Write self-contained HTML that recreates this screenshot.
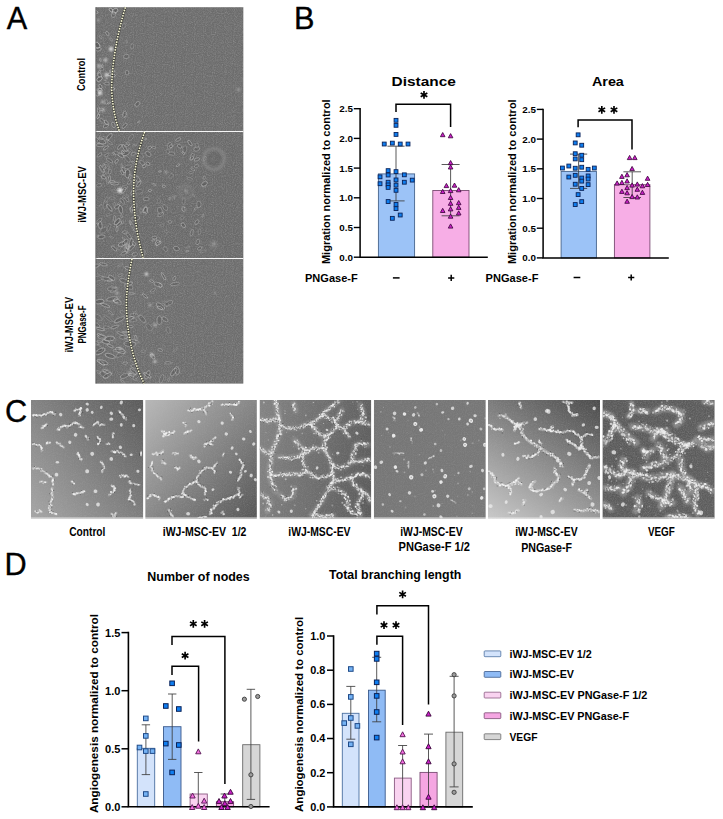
<!DOCTYPE html><html><head><meta charset="utf-8"><title>Figure</title><style>html,body{margin:0;padding:0;background:#fff}svg{display:block}</style></head><body><svg width="723" height="819" viewBox="0 0 723 819" font-family="Liberation Sans, sans-serif">
<defs>
<filter id="noise" x="0" y="0" width="100%" height="100%">
<feTurbulence type="fractalNoise" baseFrequency="0.9" numOctaves="2" seed="3" result="n"/>
<feColorMatrix in="n" type="matrix" values="0 0 0 0 0.5  0 0 0 0 0.5  0 0 0 0 0.5  0.6 0.6 0.6 0 -0.75"/>
</filter>
<filter id="noiseD" x="0" y="0" width="100%" height="100%">
<feTurbulence type="fractalNoise" baseFrequency="0.8" numOctaves="2" seed="11" result="n"/>
<feColorMatrix in="n" type="matrix" values="0 0 0 0 0.25  0 0 0 0 0.25  0 0 0 0 0.25  0.6 0.6 0.6 0 -0.78"/>
</filter>
<filter id="bl"><feGaussianBlur stdDeviation="0.5"/></filter>
<filter id="bl2"><feGaussianBlur stdDeviation="0.8"/></filter>
<filter id="bl3"><feGaussianBlur stdDeviation="1.2"/></filter>
</defs>
<rect width="723" height="819" fill="#fff"/>
<defs><linearGradient id="g1" x1="1" y1="0" x2="-0.072" y2="0.915"><stop offset="0" stop-color="rgb(90,90,90)"/><stop offset="1" stop-color="rgb(166,166,166)"/></linearGradient><linearGradient id="g2" x1="1" y1="1" x2="-0.039" y2="0.042"><stop offset="0" stop-color="rgb(86,86,86)"/><stop offset="1" stop-color="rgb(184,184,184)"/></linearGradient><linearGradient id="g3" x1="1" y1="1" x2="-0.135" y2="0.811"><stop offset="0" stop-color="rgb(90,90,90)"/><stop offset="1" stop-color="rgb(132,132,132)"/></linearGradient><linearGradient id="g4" x1="0" y1="0" x2="1.000" y2="1.000"><stop offset="0" stop-color="rgb(117,117,117)"/><stop offset="1" stop-color="rgb(121,121,121)"/></linearGradient><linearGradient id="g5" x1="1" y1="0" x2="0.274" y2="1.170"><stop offset="0" stop-color="rgb(74,74,74)"/><stop offset="1" stop-color="rgb(202,202,202)"/></linearGradient><linearGradient id="g6" x1="0" y1="0" x2="1.000" y2="1.000"><stop offset="0" stop-color="rgb(88,88,88)"/><stop offset="1" stop-color="rgb(92,92,92)"/></linearGradient></defs>
<text x="6.8" y="28.8" font-size="30.7"  text-anchor="start" fill="#000" stroke="#000" stroke-width="0.35">A</text>
<text x="293.9" y="28.5" font-size="30.7"  text-anchor="start" fill="#000" stroke="#000" stroke-width="0.35">B</text>
<text x="5.0" y="421.7" font-size="30.7"  text-anchor="start" fill="#000" stroke="#000" stroke-width="0.35">C</text>
<text x="4.4" y="575.2" font-size="30.7"  text-anchor="start" fill="#000" stroke="#000" stroke-width="0.35">D</text>
<rect x="95.5" y="7.2" width="147.8" height="123.8" fill="#6c6c6c"/>
<rect x="95.5" y="131" width="147.8" height="127.0" fill="#6a6a6a"/>
<rect x="95.5" y="258" width="147.8" height="125.6" fill="#6d6d6d"/>
<rect x="95.5" y="7.2" width="147.8" height="376.4" filter="url(#noise)" opacity="0.6"/>
<clipPath id="cA1"><rect x="95.5" y="7.2" width="147.8" height="123.8"/></clipPath>
<clipPath id="cA2"><rect x="95.5" y="131" width="147.8" height="127.0"/></clipPath>
<clipPath id="cA3"><rect x="95.5" y="258" width="147.8" height="125.6"/></clipPath>
<g clip-path="url(#cA1)" filter="url(#bl)" fill="none"><ellipse cx="98.7" cy="110.0" rx="2.3" ry="0.9" transform="rotate(89 98.7 110.0)" fill="#3a3a3a" fill-opacity="0.26"/><ellipse cx="98.7" cy="110.0" rx="3.0" ry="1.3" transform="rotate(89 98.7 110.0)" stroke="#d4d4d4" stroke-width="0.8" stroke-opacity="0.48"/><ellipse cx="109.0" cy="103.1" rx="1.3" ry="0.4" transform="rotate(150 109.0 103.1)" fill="#3a3a3a" fill-opacity="0.26"/><ellipse cx="109.0" cy="103.1" rx="1.7" ry="0.6" transform="rotate(150 109.0 103.1)" stroke="#d4d4d4" stroke-width="0.8" stroke-opacity="0.47"/><ellipse cx="111.2" cy="10.2" rx="1.8" ry="1.0" transform="rotate(41 111.2 10.2)" fill="#3a3a3a" fill-opacity="0.37"/><ellipse cx="111.2" cy="10.2" rx="2.4" ry="1.4" transform="rotate(41 111.2 10.2)" stroke="#d4d4d4" stroke-width="0.8" stroke-opacity="0.68"/><ellipse cx="114.0" cy="13.6" rx="1.2" ry="0.6" transform="rotate(169 114.0 13.6)" fill="#3a3a3a" fill-opacity="0.25"/><ellipse cx="114.0" cy="13.6" rx="1.6" ry="0.8" transform="rotate(169 114.0 13.6)" stroke="#d4d4d4" stroke-width="0.8" stroke-opacity="0.45"/><ellipse cx="100.3" cy="59.8" rx="1.2" ry="0.5" transform="rotate(79 100.3 59.8)" fill="#3a3a3a" fill-opacity="0.27"/><ellipse cx="100.3" cy="59.8" rx="1.6" ry="0.7" transform="rotate(79 100.3 59.8)" stroke="#d4d4d4" stroke-width="0.8" stroke-opacity="0.50"/><ellipse cx="100.7" cy="37.2" rx="1.5" ry="0.7" transform="rotate(52 100.7 37.2)" fill="#3a3a3a" fill-opacity="0.17"/><ellipse cx="100.7" cy="37.2" rx="1.9" ry="1.0" transform="rotate(52 100.7 37.2)" stroke="#d4d4d4" stroke-width="0.8" stroke-opacity="0.31"/><ellipse cx="112.8" cy="75.7" rx="2.1" ry="0.8" transform="rotate(179 112.8 75.7)" fill="#3a3a3a" fill-opacity="0.35"/><ellipse cx="112.8" cy="75.7" rx="2.8" ry="1.2" transform="rotate(179 112.8 75.7)" stroke="#d4d4d4" stroke-width="0.8" stroke-opacity="0.64"/><ellipse cx="98.4" cy="49.3" rx="2.2" ry="1.2" transform="rotate(169 98.4 49.3)" fill="#3a3a3a" fill-opacity="0.26"/><ellipse cx="98.4" cy="49.3" rx="2.9" ry="1.8" transform="rotate(169 98.4 49.3)" stroke="#d4d4d4" stroke-width="0.8" stroke-opacity="0.47"/><ellipse cx="112.6" cy="89.1" rx="1.6" ry="0.8" transform="rotate(159 112.6 89.1)" fill="#3a3a3a" fill-opacity="0.35"/><ellipse cx="112.6" cy="89.1" rx="2.1" ry="1.2" transform="rotate(159 112.6 89.1)" stroke="#d4d4d4" stroke-width="0.8" stroke-opacity="0.64"/><ellipse cx="106.1" cy="79.5" rx="1.2" ry="0.5" transform="rotate(144 106.1 79.5)" fill="#3a3a3a" fill-opacity="0.26"/><ellipse cx="106.1" cy="79.5" rx="1.6" ry="0.7" transform="rotate(144 106.1 79.5)" stroke="#d4d4d4" stroke-width="0.8" stroke-opacity="0.47"/><ellipse cx="99.5" cy="74.8" rx="2.2" ry="1.2" transform="rotate(67 99.5 74.8)" fill="#3a3a3a" fill-opacity="0.26"/><ellipse cx="99.5" cy="74.8" rx="2.9" ry="1.7" transform="rotate(67 99.5 74.8)" stroke="#d4d4d4" stroke-width="0.8" stroke-opacity="0.48"/><ellipse cx="106.2" cy="101.9" rx="1.9" ry="0.9" transform="rotate(88 106.2 101.9)" fill="#3a3a3a" fill-opacity="0.17"/><ellipse cx="106.2" cy="101.9" rx="2.5" ry="1.2" transform="rotate(88 106.2 101.9)" stroke="#d4d4d4" stroke-width="0.8" stroke-opacity="0.31"/><ellipse cx="96.9" cy="93.0" rx="2.6" ry="1.4" transform="rotate(71 96.9 93.0)" fill="#3a3a3a" fill-opacity="0.20"/><ellipse cx="96.9" cy="93.0" rx="3.5" ry="1.9" transform="rotate(71 96.9 93.0)" stroke="#d4d4d4" stroke-width="0.8" stroke-opacity="0.37"/><ellipse cx="106.0" cy="125.9" rx="2.3" ry="1.1" transform="rotate(155 106.0 125.9)" fill="#3a3a3a" fill-opacity="0.22"/><ellipse cx="106.0" cy="125.9" rx="3.0" ry="1.6" transform="rotate(155 106.0 125.9)" stroke="#d4d4d4" stroke-width="0.8" stroke-opacity="0.39"/><ellipse cx="106.3" cy="122.4" rx="2.0" ry="0.9" transform="rotate(48 106.3 122.4)" fill="#3a3a3a" fill-opacity="0.29"/><ellipse cx="106.3" cy="122.4" rx="2.7" ry="1.4" transform="rotate(48 106.3 122.4)" stroke="#d4d4d4" stroke-width="0.8" stroke-opacity="0.52"/><ellipse cx="115.1" cy="10.7" rx="2.3" ry="1.4" transform="rotate(160 115.1 10.7)" fill="#3a3a3a" fill-opacity="0.33"/><ellipse cx="115.1" cy="10.7" rx="3.1" ry="2.0" transform="rotate(160 115.1 10.7)" stroke="#d4d4d4" stroke-width="0.8" stroke-opacity="0.60"/><ellipse cx="112.2" cy="71.2" rx="2.0" ry="0.9" transform="rotate(10 112.2 71.2)" fill="#3a3a3a" fill-opacity="0.36"/><ellipse cx="112.2" cy="71.2" rx="2.6" ry="1.3" transform="rotate(10 112.2 71.2)" stroke="#d4d4d4" stroke-width="0.8" stroke-opacity="0.65"/><ellipse cx="107.4" cy="33.6" rx="1.9" ry="0.9" transform="rotate(64 107.4 33.6)" fill="#3a3a3a" fill-opacity="0.24"/><ellipse cx="107.4" cy="33.6" rx="2.5" ry="1.3" transform="rotate(64 107.4 33.6)" stroke="#d4d4d4" stroke-width="0.8" stroke-opacity="0.44"/><ellipse cx="106.8" cy="83.6" rx="2.0" ry="1.0" transform="rotate(5 106.8 83.6)" fill="#3a3a3a" fill-opacity="0.22"/><ellipse cx="106.8" cy="83.6" rx="2.7" ry="1.4" transform="rotate(5 106.8 83.6)" stroke="#d4d4d4" stroke-width="0.8" stroke-opacity="0.39"/><ellipse cx="99.5" cy="79.0" rx="2.4" ry="1.4" transform="rotate(143 99.5 79.0)" fill="#3a3a3a" fill-opacity="0.34"/><ellipse cx="99.5" cy="79.0" rx="3.2" ry="2.0" transform="rotate(143 99.5 79.0)" stroke="#d4d4d4" stroke-width="0.8" stroke-opacity="0.63"/><ellipse cx="101.1" cy="109.3" rx="2.1" ry="0.8" transform="rotate(3 101.1 109.3)" fill="#3a3a3a" fill-opacity="0.17"/><ellipse cx="101.1" cy="109.3" rx="2.8" ry="1.1" transform="rotate(3 101.1 109.3)" stroke="#d4d4d4" stroke-width="0.8" stroke-opacity="0.31"/><ellipse cx="111.1" cy="39.4" rx="1.3" ry="0.7" transform="rotate(62 111.1 39.4)" fill="#3a3a3a" fill-opacity="0.18"/><ellipse cx="111.1" cy="39.4" rx="1.7" ry="1.0" transform="rotate(62 111.1 39.4)" stroke="#d4d4d4" stroke-width="0.8" stroke-opacity="0.33"/><ellipse cx="99.2" cy="72.2" rx="1.4" ry="0.6" transform="rotate(128 99.2 72.2)" fill="#3a3a3a" fill-opacity="0.27"/><ellipse cx="99.2" cy="72.2" rx="1.8" ry="0.8" transform="rotate(128 99.2 72.2)" stroke="#d4d4d4" stroke-width="0.8" stroke-opacity="0.48"/><ellipse cx="102.4" cy="65.9" rx="1.2" ry="0.5" transform="rotate(76 102.4 65.9)" fill="#3a3a3a" fill-opacity="0.21"/><ellipse cx="102.4" cy="65.9" rx="1.5" ry="0.8" transform="rotate(76 102.4 65.9)" stroke="#d4d4d4" stroke-width="0.8" stroke-opacity="0.38"/><ellipse cx="98.2" cy="116.2" rx="1.9" ry="0.7" transform="rotate(109 98.2 116.2)" fill="#3a3a3a" fill-opacity="0.34"/><ellipse cx="98.2" cy="116.2" rx="2.5" ry="1.1" transform="rotate(109 98.2 116.2)" stroke="#d4d4d4" stroke-width="0.8" stroke-opacity="0.63"/><ellipse cx="96.4" cy="12.1" rx="1.3" ry="0.8" transform="rotate(29 96.4 12.1)" fill="#3a3a3a" fill-opacity="0.32"/><ellipse cx="96.4" cy="12.1" rx="1.8" ry="1.1" transform="rotate(29 96.4 12.1)" stroke="#d4d4d4" stroke-width="0.8" stroke-opacity="0.58"/><ellipse cx="109.6" cy="74.3" rx="1.5" ry="0.9" transform="rotate(144 109.6 74.3)" fill="#3a3a3a" fill-opacity="0.28"/><ellipse cx="109.6" cy="74.3" rx="1.9" ry="1.3" transform="rotate(144 109.6 74.3)" stroke="#d4d4d4" stroke-width="0.8" stroke-opacity="0.51"/><ellipse cx="100.5" cy="86.5" rx="1.7" ry="0.9" transform="rotate(58 100.5 86.5)" fill="#3a3a3a" fill-opacity="0.30"/><ellipse cx="100.5" cy="86.5" rx="2.3" ry="1.3" transform="rotate(58 100.5 86.5)" stroke="#d4d4d4" stroke-width="0.8" stroke-opacity="0.55"/><ellipse cx="97.2" cy="45.2" rx="2.6" ry="1.6" transform="rotate(55 97.2 45.2)" fill="#3a3a3a" fill-opacity="0.35"/><ellipse cx="97.2" cy="45.2" rx="3.4" ry="2.3" transform="rotate(55 97.2 45.2)" stroke="#d4d4d4" stroke-width="0.8" stroke-opacity="0.64"/><ellipse cx="102.2" cy="120.8" rx="2.2" ry="1.0" transform="rotate(45 102.2 120.8)" fill="#3a3a3a" fill-opacity="0.17"/><ellipse cx="102.2" cy="120.8" rx="3.0" ry="1.5" transform="rotate(45 102.2 120.8)" stroke="#d4d4d4" stroke-width="0.8" stroke-opacity="0.30"/><ellipse cx="113.6" cy="14.5" rx="2.4" ry="1.5" transform="rotate(103 113.6 14.5)" fill="#3a3a3a" fill-opacity="0.20"/><ellipse cx="113.6" cy="14.5" rx="3.1" ry="2.2" transform="rotate(103 113.6 14.5)" stroke="#d4d4d4" stroke-width="0.8" stroke-opacity="0.37"/><ellipse cx="113.4" cy="124.9" rx="2.2" ry="1.1" transform="rotate(68 113.4 124.9)" fill="#3a3a3a" fill-opacity="0.24"/><ellipse cx="113.4" cy="124.9" rx="2.9" ry="1.5" transform="rotate(68 113.4 124.9)" stroke="#d4d4d4" stroke-width="0.8" stroke-opacity="0.44"/><ellipse cx="100.1" cy="89.6" rx="1.8" ry="0.7" transform="rotate(19 100.1 89.6)" fill="#3a3a3a" fill-opacity="0.31"/><ellipse cx="100.1" cy="89.6" rx="2.4" ry="1.0" transform="rotate(19 100.1 89.6)" stroke="#d4d4d4" stroke-width="0.8" stroke-opacity="0.57"/><ellipse cx="101.9" cy="69.0" rx="1.6" ry="1.0" transform="rotate(162 101.9 69.0)" fill="#3a3a3a" fill-opacity="0.17"/><ellipse cx="101.9" cy="69.0" rx="2.2" ry="1.4" transform="rotate(162 101.9 69.0)" stroke="#d4d4d4" stroke-width="0.8" stroke-opacity="0.31"/></g>
<g clip-path="url(#cA1)" filter="url(#bl)" fill="none"><ellipse cx="138.9" cy="121.8" rx="1.2" ry="0.4" transform="rotate(150 138.9 121.8)" fill="#3a3a3a" fill-opacity="0.21"/><ellipse cx="138.9" cy="121.8" rx="1.6" ry="0.6" transform="rotate(150 138.9 121.8)" stroke="#d4d4d4" stroke-width="0.8" stroke-opacity="0.38"/><ellipse cx="132.1" cy="46.4" rx="2.0" ry="1.1" transform="rotate(105 132.1 46.4)" fill="#3a3a3a" fill-opacity="0.13"/><ellipse cx="132.1" cy="46.4" rx="2.7" ry="1.5" transform="rotate(105 132.1 46.4)" stroke="#d4d4d4" stroke-width="0.8" stroke-opacity="0.24"/><ellipse cx="126.3" cy="56.4" rx="2.2" ry="1.4" transform="rotate(171 126.3 56.4)" fill="#3a3a3a" fill-opacity="0.18"/><ellipse cx="126.3" cy="56.4" rx="2.9" ry="2.1" transform="rotate(171 126.3 56.4)" stroke="#d4d4d4" stroke-width="0.8" stroke-opacity="0.34"/><ellipse cx="126.7" cy="41.7" rx="1.2" ry="0.4" transform="rotate(84 126.7 41.7)" fill="#3a3a3a" fill-opacity="0.15"/><ellipse cx="126.7" cy="41.7" rx="1.6" ry="0.6" transform="rotate(84 126.7 41.7)" stroke="#d4d4d4" stroke-width="0.8" stroke-opacity="0.28"/><ellipse cx="125.1" cy="115.2" rx="1.9" ry="1.0" transform="rotate(43 125.1 115.2)" fill="#3a3a3a" fill-opacity="0.11"/><ellipse cx="125.1" cy="115.2" rx="2.6" ry="1.4" transform="rotate(43 125.1 115.2)" stroke="#d4d4d4" stroke-width="0.8" stroke-opacity="0.21"/><ellipse cx="123.8" cy="26.1" rx="1.9" ry="1.2" transform="rotate(121 123.8 26.1)" fill="#3a3a3a" fill-opacity="0.14"/><ellipse cx="123.8" cy="26.1" rx="2.5" ry="1.8" transform="rotate(121 123.8 26.1)" stroke="#d4d4d4" stroke-width="0.8" stroke-opacity="0.25"/><ellipse cx="137.4" cy="104.0" rx="2.2" ry="1.4" transform="rotate(137 137.4 104.0)" fill="#3a3a3a" fill-opacity="0.22"/><ellipse cx="137.4" cy="104.0" rx="3.0" ry="2.0" transform="rotate(137 137.4 104.0)" stroke="#d4d4d4" stroke-width="0.8" stroke-opacity="0.40"/><ellipse cx="124.5" cy="125.8" rx="2.6" ry="1.0" transform="rotate(136 124.5 125.8)" fill="#3a3a3a" fill-opacity="0.21"/><ellipse cx="124.5" cy="125.8" rx="3.4" ry="1.4" transform="rotate(136 124.5 125.8)" stroke="#d4d4d4" stroke-width="0.8" stroke-opacity="0.38"/><ellipse cx="127.1" cy="72.6" rx="1.9" ry="1.2" transform="rotate(90 127.1 72.6)" fill="#3a3a3a" fill-opacity="0.22"/><ellipse cx="127.1" cy="72.6" rx="2.5" ry="1.7" transform="rotate(90 127.1 72.6)" stroke="#d4d4d4" stroke-width="0.8" stroke-opacity="0.41"/><ellipse cx="124.5" cy="114.2" rx="2.5" ry="1.2" transform="rotate(102 124.5 114.2)" fill="#3a3a3a" fill-opacity="0.24"/><ellipse cx="124.5" cy="114.2" rx="3.3" ry="1.7" transform="rotate(102 124.5 114.2)" stroke="#d4d4d4" stroke-width="0.8" stroke-opacity="0.43"/></g>
<g clip-path="url(#cA2)" filter="url(#bl)" fill="none"><ellipse cx="106.5" cy="199.9" rx="2.1" ry="0.9" transform="rotate(113 106.5 199.9)" fill="#3a3a3a" fill-opacity="0.12"/><ellipse cx="106.5" cy="199.9" rx="2.8" ry="1.3" transform="rotate(113 106.5 199.9)" stroke="#d4d4d4" stroke-width="0.8" stroke-opacity="0.22"/><ellipse cx="96.6" cy="236.0" rx="1.9" ry="0.6" transform="rotate(179 96.6 236.0)" fill="#3a3a3a" fill-opacity="0.19"/><ellipse cx="96.6" cy="236.0" rx="2.5" ry="0.9" transform="rotate(179 96.6 236.0)" stroke="#d4d4d4" stroke-width="0.8" stroke-opacity="0.34"/><ellipse cx="132.8" cy="191.6" rx="2.6" ry="0.8" transform="rotate(114 132.8 191.6)" fill="#3a3a3a" fill-opacity="0.25"/><ellipse cx="132.8" cy="191.6" rx="3.5" ry="1.2" transform="rotate(114 132.8 191.6)" stroke="#d4d4d4" stroke-width="0.8" stroke-opacity="0.46"/><ellipse cx="119.0" cy="224.2" rx="2.7" ry="0.8" transform="rotate(136 119.0 224.2)" fill="#3a3a3a" fill-opacity="0.21"/><ellipse cx="119.0" cy="224.2" rx="3.5" ry="1.1" transform="rotate(136 119.0 224.2)" stroke="#d4d4d4" stroke-width="0.8" stroke-opacity="0.38"/><ellipse cx="109.3" cy="136.8" rx="3.0" ry="1.3" transform="rotate(129 109.3 136.8)" fill="#3a3a3a" fill-opacity="0.26"/><ellipse cx="109.3" cy="136.8" rx="4.1" ry="1.8" transform="rotate(129 109.3 136.8)" stroke="#d4d4d4" stroke-width="0.8" stroke-opacity="0.46"/><ellipse cx="127.4" cy="246.3" rx="2.1" ry="1.1" transform="rotate(80 127.4 246.3)" fill="#3a3a3a" fill-opacity="0.26"/><ellipse cx="127.4" cy="246.3" rx="2.8" ry="1.5" transform="rotate(80 127.4 246.3)" stroke="#d4d4d4" stroke-width="0.8" stroke-opacity="0.48"/><ellipse cx="134.7" cy="145.0" rx="1.6" ry="0.6" transform="rotate(174 134.7 145.0)" fill="#3a3a3a" fill-opacity="0.18"/><ellipse cx="134.7" cy="145.0" rx="2.2" ry="0.8" transform="rotate(174 134.7 145.0)" stroke="#d4d4d4" stroke-width="0.8" stroke-opacity="0.33"/><ellipse cx="123.6" cy="170.0" rx="2.3" ry="0.9" transform="rotate(63 123.6 170.0)" fill="#3a3a3a" fill-opacity="0.21"/><ellipse cx="123.6" cy="170.0" rx="3.1" ry="1.3" transform="rotate(63 123.6 170.0)" stroke="#d4d4d4" stroke-width="0.8" stroke-opacity="0.38"/><ellipse cx="121.7" cy="244.2" rx="2.7" ry="1.4" transform="rotate(154 121.7 244.2)" fill="#3a3a3a" fill-opacity="0.27"/><ellipse cx="121.7" cy="244.2" rx="3.6" ry="2.1" transform="rotate(154 121.7 244.2)" stroke="#d4d4d4" stroke-width="0.8" stroke-opacity="0.50"/><ellipse cx="125.5" cy="153.1" rx="3.0" ry="1.7" transform="rotate(163 125.5 153.1)" fill="#3a3a3a" fill-opacity="0.20"/><ellipse cx="125.5" cy="153.1" rx="4.0" ry="2.4" transform="rotate(163 125.5 153.1)" stroke="#d4d4d4" stroke-width="0.8" stroke-opacity="0.37"/><ellipse cx="127.4" cy="159.0" rx="3.0" ry="1.3" transform="rotate(51 127.4 159.0)" fill="#3a3a3a" fill-opacity="0.12"/><ellipse cx="127.4" cy="159.0" rx="4.0" ry="1.9" transform="rotate(51 127.4 159.0)" stroke="#d4d4d4" stroke-width="0.8" stroke-opacity="0.22"/><ellipse cx="133.6" cy="254.7" rx="1.5" ry="0.8" transform="rotate(74 133.6 254.7)" fill="#3a3a3a" fill-opacity="0.13"/><ellipse cx="133.6" cy="254.7" rx="2.0" ry="1.1" transform="rotate(74 133.6 254.7)" stroke="#d4d4d4" stroke-width="0.8" stroke-opacity="0.25"/><ellipse cx="108.9" cy="227.6" rx="3.1" ry="0.9" transform="rotate(111 108.9 227.6)" fill="#3a3a3a" fill-opacity="0.12"/><ellipse cx="108.9" cy="227.6" rx="4.1" ry="1.3" transform="rotate(111 108.9 227.6)" stroke="#d4d4d4" stroke-width="0.8" stroke-opacity="0.21"/><ellipse cx="127.6" cy="173.7" rx="3.1" ry="1.7" transform="rotate(91 127.6 173.7)" fill="#3a3a3a" fill-opacity="0.27"/><ellipse cx="127.6" cy="173.7" rx="4.1" ry="2.4" transform="rotate(91 127.6 173.7)" stroke="#d4d4d4" stroke-width="0.8" stroke-opacity="0.50"/><ellipse cx="109.6" cy="142.5" rx="2.5" ry="0.7" transform="rotate(36 109.6 142.5)" fill="#3a3a3a" fill-opacity="0.18"/><ellipse cx="109.6" cy="142.5" rx="3.4" ry="1.0" transform="rotate(36 109.6 142.5)" stroke="#d4d4d4" stroke-width="0.8" stroke-opacity="0.32"/><ellipse cx="122.9" cy="152.2" rx="1.4" ry="0.7" transform="rotate(56 122.9 152.2)" fill="#3a3a3a" fill-opacity="0.27"/><ellipse cx="122.9" cy="152.2" rx="1.9" ry="1.1" transform="rotate(56 122.9 152.2)" stroke="#d4d4d4" stroke-width="0.8" stroke-opacity="0.49"/><ellipse cx="135.5" cy="179.5" rx="2.2" ry="1.0" transform="rotate(116 135.5 179.5)" fill="#3a3a3a" fill-opacity="0.21"/><ellipse cx="135.5" cy="179.5" rx="3.0" ry="1.4" transform="rotate(116 135.5 179.5)" stroke="#d4d4d4" stroke-width="0.8" stroke-opacity="0.38"/><ellipse cx="120.6" cy="209.3" rx="3.2" ry="1.3" transform="rotate(78 120.6 209.3)" fill="#3a3a3a" fill-opacity="0.23"/><ellipse cx="120.6" cy="209.3" rx="4.2" ry="1.9" transform="rotate(78 120.6 209.3)" stroke="#d4d4d4" stroke-width="0.8" stroke-opacity="0.42"/><ellipse cx="106.5" cy="170.0" rx="3.3" ry="1.4" transform="rotate(99 106.5 170.0)" fill="#3a3a3a" fill-opacity="0.11"/><ellipse cx="106.5" cy="170.0" rx="4.3" ry="2.0" transform="rotate(99 106.5 170.0)" stroke="#d4d4d4" stroke-width="0.8" stroke-opacity="0.20"/><ellipse cx="114.3" cy="204.3" rx="1.4" ry="0.6" transform="rotate(114 114.3 204.3)" fill="#3a3a3a" fill-opacity="0.12"/><ellipse cx="114.3" cy="204.3" rx="1.9" ry="0.9" transform="rotate(114 114.3 204.3)" stroke="#d4d4d4" stroke-width="0.8" stroke-opacity="0.22"/><ellipse cx="123.6" cy="190.3" rx="2.7" ry="1.0" transform="rotate(127 123.6 190.3)" fill="#3a3a3a" fill-opacity="0.23"/><ellipse cx="123.6" cy="190.3" rx="3.6" ry="1.4" transform="rotate(127 123.6 190.3)" stroke="#d4d4d4" stroke-width="0.8" stroke-opacity="0.42"/><ellipse cx="97.0" cy="140.5" rx="2.7" ry="1.5" transform="rotate(45 97.0 140.5)" fill="#3a3a3a" fill-opacity="0.19"/><ellipse cx="97.0" cy="140.5" rx="3.6" ry="2.1" transform="rotate(45 97.0 140.5)" stroke="#d4d4d4" stroke-width="0.8" stroke-opacity="0.34"/><ellipse cx="122.1" cy="172.4" rx="2.1" ry="0.8" transform="rotate(66 122.1 172.4)" fill="#3a3a3a" fill-opacity="0.21"/><ellipse cx="122.1" cy="172.4" rx="2.7" ry="1.1" transform="rotate(66 122.1 172.4)" stroke="#d4d4d4" stroke-width="0.8" stroke-opacity="0.38"/><ellipse cx="109.2" cy="179.4" rx="2.9" ry="0.8" transform="rotate(102 109.2 179.4)" fill="#3a3a3a" fill-opacity="0.23"/><ellipse cx="109.2" cy="179.4" rx="3.8" ry="1.2" transform="rotate(102 109.2 179.4)" stroke="#d4d4d4" stroke-width="0.8" stroke-opacity="0.42"/><ellipse cx="109.6" cy="160.4" rx="2.9" ry="1.0" transform="rotate(34 109.6 160.4)" fill="#3a3a3a" fill-opacity="0.18"/><ellipse cx="109.6" cy="160.4" rx="3.9" ry="1.4" transform="rotate(34 109.6 160.4)" stroke="#d4d4d4" stroke-width="0.8" stroke-opacity="0.33"/><ellipse cx="126.7" cy="145.5" rx="2.0" ry="0.7" transform="rotate(150 126.7 145.5)" fill="#3a3a3a" fill-opacity="0.18"/><ellipse cx="126.7" cy="145.5" rx="2.6" ry="1.1" transform="rotate(150 126.7 145.5)" stroke="#d4d4d4" stroke-width="0.8" stroke-opacity="0.33"/><ellipse cx="133.6" cy="153.8" rx="2.0" ry="0.9" transform="rotate(159 133.6 153.8)" fill="#3a3a3a" fill-opacity="0.18"/><ellipse cx="133.6" cy="153.8" rx="2.7" ry="1.3" transform="rotate(159 133.6 153.8)" stroke="#d4d4d4" stroke-width="0.8" stroke-opacity="0.34"/><ellipse cx="105.9" cy="147.9" rx="2.4" ry="0.8" transform="rotate(145 105.9 147.9)" fill="#3a3a3a" fill-opacity="0.25"/><ellipse cx="105.9" cy="147.9" rx="3.2" ry="1.1" transform="rotate(145 105.9 147.9)" stroke="#d4d4d4" stroke-width="0.8" stroke-opacity="0.45"/><ellipse cx="104.1" cy="167.3" rx="2.9" ry="1.3" transform="rotate(145 104.1 167.3)" fill="#3a3a3a" fill-opacity="0.17"/><ellipse cx="104.1" cy="167.3" rx="3.9" ry="1.9" transform="rotate(145 104.1 167.3)" stroke="#d4d4d4" stroke-width="0.8" stroke-opacity="0.30"/><ellipse cx="101.7" cy="168.9" rx="2.9" ry="1.0" transform="rotate(62 101.7 168.9)" fill="#3a3a3a" fill-opacity="0.18"/><ellipse cx="101.7" cy="168.9" rx="3.9" ry="1.5" transform="rotate(62 101.7 168.9)" stroke="#d4d4d4" stroke-width="0.8" stroke-opacity="0.33"/><ellipse cx="114.5" cy="183.4" rx="3.1" ry="1.0" transform="rotate(1 114.5 183.4)" fill="#3a3a3a" fill-opacity="0.27"/><ellipse cx="114.5" cy="183.4" rx="4.2" ry="1.5" transform="rotate(1 114.5 183.4)" stroke="#d4d4d4" stroke-width="0.8" stroke-opacity="0.48"/><ellipse cx="134.7" cy="254.4" rx="2.2" ry="1.2" transform="rotate(167 134.7 254.4)" fill="#3a3a3a" fill-opacity="0.15"/><ellipse cx="134.7" cy="254.4" rx="2.9" ry="1.7" transform="rotate(167 134.7 254.4)" stroke="#d4d4d4" stroke-width="0.8" stroke-opacity="0.27"/><ellipse cx="128.8" cy="235.9" rx="2.6" ry="1.1" transform="rotate(52 128.8 235.9)" fill="#3a3a3a" fill-opacity="0.17"/><ellipse cx="128.8" cy="235.9" rx="3.5" ry="1.6" transform="rotate(52 128.8 235.9)" stroke="#d4d4d4" stroke-width="0.8" stroke-opacity="0.30"/><ellipse cx="106.0" cy="141.4" rx="2.5" ry="0.9" transform="rotate(146 106.0 141.4)" fill="#3a3a3a" fill-opacity="0.12"/><ellipse cx="106.0" cy="141.4" rx="3.3" ry="1.3" transform="rotate(146 106.0 141.4)" stroke="#d4d4d4" stroke-width="0.8" stroke-opacity="0.21"/><ellipse cx="135.8" cy="218.3" rx="3.2" ry="1.7" transform="rotate(162 135.8 218.3)" fill="#3a3a3a" fill-opacity="0.21"/><ellipse cx="135.8" cy="218.3" rx="4.2" ry="2.4" transform="rotate(162 135.8 218.3)" stroke="#d4d4d4" stroke-width="0.8" stroke-opacity="0.37"/><ellipse cx="96.6" cy="224.7" rx="1.7" ry="0.6" transform="rotate(119 96.6 224.7)" fill="#3a3a3a" fill-opacity="0.20"/><ellipse cx="96.6" cy="224.7" rx="2.2" ry="0.9" transform="rotate(119 96.6 224.7)" stroke="#d4d4d4" stroke-width="0.8" stroke-opacity="0.36"/><ellipse cx="114.2" cy="248.5" rx="2.5" ry="1.0" transform="rotate(45 114.2 248.5)" fill="#3a3a3a" fill-opacity="0.25"/><ellipse cx="114.2" cy="248.5" rx="3.4" ry="1.4" transform="rotate(45 114.2 248.5)" stroke="#d4d4d4" stroke-width="0.8" stroke-opacity="0.46"/><ellipse cx="117.0" cy="229.2" rx="2.0" ry="0.7" transform="rotate(96 117.0 229.2)" fill="#3a3a3a" fill-opacity="0.24"/><ellipse cx="117.0" cy="229.2" rx="2.7" ry="1.0" transform="rotate(96 117.0 229.2)" stroke="#d4d4d4" stroke-width="0.8" stroke-opacity="0.45"/><ellipse cx="103.5" cy="230.4" rx="3.1" ry="1.6" transform="rotate(148 103.5 230.4)" fill="#3a3a3a" fill-opacity="0.11"/><ellipse cx="103.5" cy="230.4" rx="4.2" ry="2.3" transform="rotate(148 103.5 230.4)" stroke="#d4d4d4" stroke-width="0.8" stroke-opacity="0.20"/><ellipse cx="123.7" cy="239.1" rx="1.4" ry="0.5" transform="rotate(48 123.7 239.1)" fill="#3a3a3a" fill-opacity="0.20"/><ellipse cx="123.7" cy="239.1" rx="1.9" ry="0.7" transform="rotate(48 123.7 239.1)" stroke="#d4d4d4" stroke-width="0.8" stroke-opacity="0.36"/><ellipse cx="114.6" cy="191.2" rx="2.9" ry="0.8" transform="rotate(10 114.6 191.2)" fill="#3a3a3a" fill-opacity="0.13"/><ellipse cx="114.6" cy="191.2" rx="3.8" ry="1.1" transform="rotate(10 114.6 191.2)" stroke="#d4d4d4" stroke-width="0.8" stroke-opacity="0.24"/><ellipse cx="101.5" cy="141.4" rx="3.3" ry="1.7" transform="rotate(16 101.5 141.4)" fill="#3a3a3a" fill-opacity="0.19"/><ellipse cx="101.5" cy="141.4" rx="4.3" ry="2.4" transform="rotate(16 101.5 141.4)" stroke="#d4d4d4" stroke-width="0.8" stroke-opacity="0.35"/><ellipse cx="109.9" cy="171.7" rx="2.0" ry="0.9" transform="rotate(106 109.9 171.7)" fill="#3a3a3a" fill-opacity="0.17"/><ellipse cx="109.9" cy="171.7" rx="2.7" ry="1.3" transform="rotate(106 109.9 171.7)" stroke="#d4d4d4" stroke-width="0.8" stroke-opacity="0.31"/><ellipse cx="104.4" cy="173.4" rx="1.6" ry="0.7" transform="rotate(129 104.4 173.4)" fill="#3a3a3a" fill-opacity="0.17"/><ellipse cx="104.4" cy="173.4" rx="2.1" ry="1.0" transform="rotate(129 104.4 173.4)" stroke="#d4d4d4" stroke-width="0.8" stroke-opacity="0.31"/><ellipse cx="99.5" cy="155.0" rx="2.1" ry="0.9" transform="rotate(141 99.5 155.0)" fill="#3a3a3a" fill-opacity="0.17"/><ellipse cx="99.5" cy="155.0" rx="2.8" ry="1.3" transform="rotate(141 99.5 155.0)" stroke="#d4d4d4" stroke-width="0.8" stroke-opacity="0.31"/><ellipse cx="131.3" cy="209.6" rx="2.2" ry="0.8" transform="rotate(89 131.3 209.6)" fill="#3a3a3a" fill-opacity="0.23"/><ellipse cx="131.3" cy="209.6" rx="2.9" ry="1.2" transform="rotate(89 131.3 209.6)" stroke="#d4d4d4" stroke-width="0.8" stroke-opacity="0.41"/><ellipse cx="114.5" cy="218.4" rx="2.2" ry="0.8" transform="rotate(96 114.5 218.4)" fill="#3a3a3a" fill-opacity="0.22"/><ellipse cx="114.5" cy="218.4" rx="3.0" ry="1.1" transform="rotate(96 114.5 218.4)" stroke="#d4d4d4" stroke-width="0.8" stroke-opacity="0.41"/><ellipse cx="99.1" cy="185.3" rx="2.2" ry="1.1" transform="rotate(169 99.1 185.3)" fill="#3a3a3a" fill-opacity="0.17"/><ellipse cx="99.1" cy="185.3" rx="2.9" ry="1.6" transform="rotate(169 99.1 185.3)" stroke="#d4d4d4" stroke-width="0.8" stroke-opacity="0.31"/><ellipse cx="135.5" cy="230.3" rx="1.9" ry="0.8" transform="rotate(22 135.5 230.3)" fill="#3a3a3a" fill-opacity="0.24"/><ellipse cx="135.5" cy="230.3" rx="2.5" ry="1.1" transform="rotate(22 135.5 230.3)" stroke="#d4d4d4" stroke-width="0.8" stroke-opacity="0.44"/><ellipse cx="125.1" cy="242.1" rx="2.9" ry="1.4" transform="rotate(132 125.1 242.1)" fill="#3a3a3a" fill-opacity="0.20"/><ellipse cx="125.1" cy="242.1" rx="3.9" ry="1.9" transform="rotate(132 125.1 242.1)" stroke="#d4d4d4" stroke-width="0.8" stroke-opacity="0.37"/><ellipse cx="100.5" cy="205.3" rx="1.4" ry="0.4" transform="rotate(139 100.5 205.3)" fill="#3a3a3a" fill-opacity="0.12"/><ellipse cx="100.5" cy="205.3" rx="1.8" ry="0.6" transform="rotate(139 100.5 205.3)" stroke="#d4d4d4" stroke-width="0.8" stroke-opacity="0.21"/><ellipse cx="100.0" cy="145.2" rx="3.1" ry="1.0" transform="rotate(4 100.0 145.2)" fill="#3a3a3a" fill-opacity="0.25"/><ellipse cx="100.0" cy="145.2" rx="4.1" ry="1.4" transform="rotate(4 100.0 145.2)" stroke="#d4d4d4" stroke-width="0.8" stroke-opacity="0.45"/><ellipse cx="101.3" cy="236.8" rx="2.7" ry="1.4" transform="rotate(171 101.3 236.8)" fill="#3a3a3a" fill-opacity="0.21"/><ellipse cx="101.3" cy="236.8" rx="3.6" ry="2.0" transform="rotate(171 101.3 236.8)" stroke="#d4d4d4" stroke-width="0.8" stroke-opacity="0.37"/><ellipse cx="131.1" cy="137.5" rx="2.8" ry="1.2" transform="rotate(129 131.1 137.5)" fill="#3a3a3a" fill-opacity="0.13"/><ellipse cx="131.1" cy="137.5" rx="3.8" ry="1.7" transform="rotate(129 131.1 137.5)" stroke="#d4d4d4" stroke-width="0.8" stroke-opacity="0.23"/><ellipse cx="129.0" cy="248.0" rx="1.5" ry="0.5" transform="rotate(102 129.0 248.0)" fill="#3a3a3a" fill-opacity="0.25"/><ellipse cx="129.0" cy="248.0" rx="2.0" ry="0.8" transform="rotate(102 129.0 248.0)" stroke="#d4d4d4" stroke-width="0.8" stroke-opacity="0.45"/><ellipse cx="106.7" cy="155.1" rx="1.8" ry="0.8" transform="rotate(136 106.7 155.1)" fill="#3a3a3a" fill-opacity="0.17"/><ellipse cx="106.7" cy="155.1" rx="2.4" ry="1.2" transform="rotate(136 106.7 155.1)" stroke="#d4d4d4" stroke-width="0.8" stroke-opacity="0.32"/><ellipse cx="112.2" cy="181.8" rx="2.0" ry="0.8" transform="rotate(15 112.2 181.8)" fill="#3a3a3a" fill-opacity="0.19"/><ellipse cx="112.2" cy="181.8" rx="2.7" ry="1.2" transform="rotate(15 112.2 181.8)" stroke="#d4d4d4" stroke-width="0.8" stroke-opacity="0.35"/><ellipse cx="138.8" cy="183.8" rx="2.8" ry="0.9" transform="rotate(124 138.8 183.8)" fill="#3a3a3a" fill-opacity="0.23"/><ellipse cx="138.8" cy="183.8" rx="3.7" ry="1.3" transform="rotate(124 138.8 183.8)" stroke="#d4d4d4" stroke-width="0.8" stroke-opacity="0.43"/><ellipse cx="125.6" cy="196.6" rx="2.3" ry="1.1" transform="rotate(162 125.6 196.6)" fill="#3a3a3a" fill-opacity="0.13"/><ellipse cx="125.6" cy="196.6" rx="3.1" ry="1.5" transform="rotate(162 125.6 196.6)" stroke="#d4d4d4" stroke-width="0.8" stroke-opacity="0.24"/><ellipse cx="100.2" cy="225.0" rx="3.1" ry="1.3" transform="rotate(80 100.2 225.0)" fill="#3a3a3a" fill-opacity="0.23"/><ellipse cx="100.2" cy="225.0" rx="4.2" ry="1.9" transform="rotate(80 100.2 225.0)" stroke="#d4d4d4" stroke-width="0.8" stroke-opacity="0.42"/><ellipse cx="104.2" cy="165.9" rx="1.7" ry="0.8" transform="rotate(57 104.2 165.9)" fill="#3a3a3a" fill-opacity="0.15"/><ellipse cx="104.2" cy="165.9" rx="2.3" ry="1.1" transform="rotate(57 104.2 165.9)" stroke="#d4d4d4" stroke-width="0.8" stroke-opacity="0.27"/><ellipse cx="126.4" cy="250.3" rx="1.9" ry="0.9" transform="rotate(74 126.4 250.3)" fill="#3a3a3a" fill-opacity="0.25"/><ellipse cx="126.4" cy="250.3" rx="2.6" ry="1.3" transform="rotate(74 126.4 250.3)" stroke="#d4d4d4" stroke-width="0.8" stroke-opacity="0.46"/><ellipse cx="121.7" cy="165.9" rx="1.8" ry="0.5" transform="rotate(86 121.7 165.9)" fill="#3a3a3a" fill-opacity="0.17"/><ellipse cx="121.7" cy="165.9" rx="2.4" ry="0.7" transform="rotate(86 121.7 165.9)" stroke="#d4d4d4" stroke-width="0.8" stroke-opacity="0.31"/><ellipse cx="103.6" cy="177.3" rx="2.0" ry="1.0" transform="rotate(26 103.6 177.3)" fill="#3a3a3a" fill-opacity="0.27"/><ellipse cx="103.6" cy="177.3" rx="2.6" ry="1.4" transform="rotate(26 103.6 177.3)" stroke="#d4d4d4" stroke-width="0.8" stroke-opacity="0.50"/><ellipse cx="117.1" cy="206.7" rx="2.3" ry="1.2" transform="rotate(148 117.1 206.7)" fill="#3a3a3a" fill-opacity="0.20"/><ellipse cx="117.1" cy="206.7" rx="3.0" ry="1.7" transform="rotate(148 117.1 206.7)" stroke="#d4d4d4" stroke-width="0.8" stroke-opacity="0.37"/><ellipse cx="117.2" cy="221.6" rx="3.0" ry="1.2" transform="rotate(132 117.2 221.6)" fill="#3a3a3a" fill-opacity="0.27"/><ellipse cx="117.2" cy="221.6" rx="4.0" ry="1.7" transform="rotate(132 117.2 221.6)" stroke="#d4d4d4" stroke-width="0.8" stroke-opacity="0.49"/><ellipse cx="116.6" cy="161.2" rx="1.8" ry="0.9" transform="rotate(122 116.6 161.2)" fill="#3a3a3a" fill-opacity="0.27"/><ellipse cx="116.6" cy="161.2" rx="2.4" ry="1.2" transform="rotate(122 116.6 161.2)" stroke="#d4d4d4" stroke-width="0.8" stroke-opacity="0.49"/><ellipse cx="133.6" cy="162.8" rx="1.7" ry="0.6" transform="rotate(34 133.6 162.8)" fill="#3a3a3a" fill-opacity="0.23"/><ellipse cx="133.6" cy="162.8" rx="2.3" ry="0.9" transform="rotate(34 133.6 162.8)" stroke="#d4d4d4" stroke-width="0.8" stroke-opacity="0.41"/><ellipse cx="133.8" cy="243.7" rx="1.8" ry="1.0" transform="rotate(56 133.8 243.7)" fill="#3a3a3a" fill-opacity="0.18"/><ellipse cx="133.8" cy="243.7" rx="2.5" ry="1.4" transform="rotate(56 133.8 243.7)" stroke="#d4d4d4" stroke-width="0.8" stroke-opacity="0.33"/><ellipse cx="128.1" cy="143.6" rx="1.5" ry="0.8" transform="rotate(53 128.1 143.6)" fill="#3a3a3a" fill-opacity="0.17"/><ellipse cx="128.1" cy="143.6" rx="2.0" ry="1.1" transform="rotate(53 128.1 143.6)" stroke="#d4d4d4" stroke-width="0.8" stroke-opacity="0.31"/><ellipse cx="121.5" cy="216.1" rx="1.4" ry="0.5" transform="rotate(79 121.5 216.1)" fill="#3a3a3a" fill-opacity="0.19"/><ellipse cx="121.5" cy="216.1" rx="1.8" ry="0.7" transform="rotate(79 121.5 216.1)" stroke="#d4d4d4" stroke-width="0.8" stroke-opacity="0.35"/><ellipse cx="105.2" cy="205.0" rx="3.2" ry="1.3" transform="rotate(98 105.2 205.0)" fill="#3a3a3a" fill-opacity="0.13"/><ellipse cx="105.2" cy="205.0" rx="4.3" ry="1.8" transform="rotate(98 105.2 205.0)" stroke="#d4d4d4" stroke-width="0.8" stroke-opacity="0.24"/><ellipse cx="108.1" cy="214.8" rx="1.6" ry="0.8" transform="rotate(164 108.1 214.8)" fill="#3a3a3a" fill-opacity="0.13"/><ellipse cx="108.1" cy="214.8" rx="2.1" ry="1.2" transform="rotate(164 108.1 214.8)" stroke="#d4d4d4" stroke-width="0.8" stroke-opacity="0.23"/><ellipse cx="137.4" cy="179.0" rx="2.9" ry="1.4" transform="rotate(53 137.4 179.0)" fill="#3a3a3a" fill-opacity="0.22"/><ellipse cx="137.4" cy="179.0" rx="3.8" ry="2.0" transform="rotate(53 137.4 179.0)" stroke="#d4d4d4" stroke-width="0.8" stroke-opacity="0.40"/><ellipse cx="124.8" cy="232.1" rx="1.9" ry="0.9" transform="rotate(173 124.8 232.1)" fill="#3a3a3a" fill-opacity="0.22"/><ellipse cx="124.8" cy="232.1" rx="2.5" ry="1.3" transform="rotate(173 124.8 232.1)" stroke="#d4d4d4" stroke-width="0.8" stroke-opacity="0.40"/><ellipse cx="119.6" cy="146.9" rx="2.3" ry="0.9" transform="rotate(129 119.6 146.9)" fill="#3a3a3a" fill-opacity="0.22"/><ellipse cx="119.6" cy="146.9" rx="3.1" ry="1.3" transform="rotate(129 119.6 146.9)" stroke="#d4d4d4" stroke-width="0.8" stroke-opacity="0.40"/><ellipse cx="120.9" cy="155.4" rx="2.6" ry="1.2" transform="rotate(32 120.9 155.4)" fill="#3a3a3a" fill-opacity="0.26"/><ellipse cx="120.9" cy="155.4" rx="3.5" ry="1.7" transform="rotate(32 120.9 155.4)" stroke="#d4d4d4" stroke-width="0.8" stroke-opacity="0.47"/><ellipse cx="124.8" cy="148.1" rx="3.2" ry="1.0" transform="rotate(60 124.8 148.1)" fill="#3a3a3a" fill-opacity="0.23"/><ellipse cx="124.8" cy="148.1" rx="4.2" ry="1.4" transform="rotate(60 124.8 148.1)" stroke="#d4d4d4" stroke-width="0.8" stroke-opacity="0.42"/><ellipse cx="122.3" cy="201.3" rx="2.6" ry="1.1" transform="rotate(56 122.3 201.3)" fill="#3a3a3a" fill-opacity="0.14"/><ellipse cx="122.3" cy="201.3" rx="3.5" ry="1.5" transform="rotate(56 122.3 201.3)" stroke="#d4d4d4" stroke-width="0.8" stroke-opacity="0.25"/><ellipse cx="99.0" cy="221.0" rx="2.8" ry="1.2" transform="rotate(133 99.0 221.0)" fill="#3a3a3a" fill-opacity="0.17"/><ellipse cx="99.0" cy="221.0" rx="3.8" ry="1.7" transform="rotate(133 99.0 221.0)" stroke="#d4d4d4" stroke-width="0.8" stroke-opacity="0.31"/><ellipse cx="107.7" cy="180.2" rx="3.1" ry="0.9" transform="rotate(91 107.7 180.2)" fill="#3a3a3a" fill-opacity="0.15"/><ellipse cx="107.7" cy="180.2" rx="4.1" ry="1.3" transform="rotate(91 107.7 180.2)" stroke="#d4d4d4" stroke-width="0.8" stroke-opacity="0.27"/><ellipse cx="129.8" cy="176.6" rx="2.0" ry="0.8" transform="rotate(97 129.8 176.6)" fill="#3a3a3a" fill-opacity="0.24"/><ellipse cx="129.8" cy="176.6" rx="2.7" ry="1.1" transform="rotate(97 129.8 176.6)" stroke="#d4d4d4" stroke-width="0.8" stroke-opacity="0.43"/><ellipse cx="111.5" cy="237.2" rx="1.6" ry="0.6" transform="rotate(18 111.5 237.2)" fill="#3a3a3a" fill-opacity="0.13"/><ellipse cx="111.5" cy="237.2" rx="2.1" ry="0.8" transform="rotate(18 111.5 237.2)" stroke="#d4d4d4" stroke-width="0.8" stroke-opacity="0.23"/><ellipse cx="130.3" cy="222.5" rx="1.7" ry="0.6" transform="rotate(75 130.3 222.5)" fill="#3a3a3a" fill-opacity="0.23"/><ellipse cx="130.3" cy="222.5" rx="2.3" ry="0.8" transform="rotate(75 130.3 222.5)" stroke="#d4d4d4" stroke-width="0.8" stroke-opacity="0.42"/><ellipse cx="131.9" cy="225.1" rx="2.5" ry="0.8" transform="rotate(72 131.9 225.1)" fill="#3a3a3a" fill-opacity="0.14"/><ellipse cx="131.9" cy="225.1" rx="3.3" ry="1.1" transform="rotate(72 131.9 225.1)" stroke="#d4d4d4" stroke-width="0.8" stroke-opacity="0.26"/><ellipse cx="119.2" cy="202.9" rx="1.7" ry="0.6" transform="rotate(141 119.2 202.9)" fill="#3a3a3a" fill-opacity="0.11"/><ellipse cx="119.2" cy="202.9" rx="2.3" ry="0.9" transform="rotate(141 119.2 202.9)" stroke="#d4d4d4" stroke-width="0.8" stroke-opacity="0.21"/><ellipse cx="131.3" cy="242.6" rx="3.2" ry="1.2" transform="rotate(99 131.3 242.6)" fill="#3a3a3a" fill-opacity="0.21"/><ellipse cx="131.3" cy="242.6" rx="4.3" ry="1.8" transform="rotate(99 131.3 242.6)" stroke="#d4d4d4" stroke-width="0.8" stroke-opacity="0.37"/><ellipse cx="123.9" cy="253.2" rx="2.7" ry="1.0" transform="rotate(155 123.9 253.2)" fill="#3a3a3a" fill-opacity="0.19"/><ellipse cx="123.9" cy="253.2" rx="3.6" ry="1.4" transform="rotate(155 123.9 253.2)" stroke="#d4d4d4" stroke-width="0.8" stroke-opacity="0.35"/><ellipse cx="122.5" cy="222.4" rx="1.4" ry="0.7" transform="rotate(119 122.5 222.4)" fill="#3a3a3a" fill-opacity="0.19"/><ellipse cx="122.5" cy="222.4" rx="1.8" ry="1.0" transform="rotate(119 122.5 222.4)" stroke="#d4d4d4" stroke-width="0.8" stroke-opacity="0.35"/><ellipse cx="119.0" cy="189.6" rx="1.7" ry="0.7" transform="rotate(7 119.0 189.6)" fill="#3a3a3a" fill-opacity="0.19"/><ellipse cx="119.0" cy="189.6" rx="2.3" ry="1.1" transform="rotate(7 119.0 189.6)" stroke="#d4d4d4" stroke-width="0.8" stroke-opacity="0.35"/><ellipse cx="124.4" cy="187.6" rx="2.5" ry="1.3" transform="rotate(161 124.4 187.6)" fill="#3a3a3a" fill-opacity="0.13"/><ellipse cx="124.4" cy="187.6" rx="3.3" ry="1.9" transform="rotate(161 124.4 187.6)" stroke="#d4d4d4" stroke-width="0.8" stroke-opacity="0.24"/><ellipse cx="130.9" cy="209.7" rx="1.4" ry="0.6" transform="rotate(42 130.9 209.7)" fill="#3a3a3a" fill-opacity="0.12"/><ellipse cx="130.9" cy="209.7" rx="1.9" ry="0.8" transform="rotate(42 130.9 209.7)" stroke="#d4d4d4" stroke-width="0.8" stroke-opacity="0.22"/><ellipse cx="119.7" cy="247.4" rx="2.0" ry="1.0" transform="rotate(125 119.7 247.4)" fill="#3a3a3a" fill-opacity="0.13"/><ellipse cx="119.7" cy="247.4" rx="2.6" ry="1.5" transform="rotate(125 119.7 247.4)" stroke="#d4d4d4" stroke-width="0.8" stroke-opacity="0.24"/><ellipse cx="133.8" cy="206.9" rx="3.2" ry="1.5" transform="rotate(133 133.8 206.9)" fill="#3a3a3a" fill-opacity="0.17"/><ellipse cx="133.8" cy="206.9" rx="4.2" ry="2.2" transform="rotate(133 133.8 206.9)" stroke="#d4d4d4" stroke-width="0.8" stroke-opacity="0.30"/><ellipse cx="131.5" cy="247.6" rx="3.0" ry="1.2" transform="rotate(136 131.5 247.6)" fill="#3a3a3a" fill-opacity="0.19"/><ellipse cx="131.5" cy="247.6" rx="4.0" ry="1.7" transform="rotate(136 131.5 247.6)" stroke="#d4d4d4" stroke-width="0.8" stroke-opacity="0.35"/><ellipse cx="100.8" cy="138.3" rx="1.5" ry="0.5" transform="rotate(29 100.8 138.3)" fill="#3a3a3a" fill-opacity="0.19"/><ellipse cx="100.8" cy="138.3" rx="2.0" ry="0.7" transform="rotate(29 100.8 138.3)" stroke="#d4d4d4" stroke-width="0.8" stroke-opacity="0.35"/><ellipse cx="126.8" cy="199.1" rx="2.2" ry="1.0" transform="rotate(55 126.8 199.1)" fill="#3a3a3a" fill-opacity="0.19"/><ellipse cx="126.8" cy="199.1" rx="2.9" ry="1.4" transform="rotate(55 126.8 199.1)" stroke="#d4d4d4" stroke-width="0.8" stroke-opacity="0.34"/><ellipse cx="129.3" cy="182.4" rx="1.7" ry="0.9" transform="rotate(130 129.3 182.4)" fill="#3a3a3a" fill-opacity="0.17"/><ellipse cx="129.3" cy="182.4" rx="2.3" ry="1.3" transform="rotate(130 129.3 182.4)" stroke="#d4d4d4" stroke-width="0.8" stroke-opacity="0.31"/><ellipse cx="112.3" cy="198.1" rx="2.5" ry="0.9" transform="rotate(0 112.3 198.1)" fill="#3a3a3a" fill-opacity="0.14"/><ellipse cx="112.3" cy="198.1" rx="3.4" ry="1.2" transform="rotate(0 112.3 198.1)" stroke="#d4d4d4" stroke-width="0.8" stroke-opacity="0.26"/><ellipse cx="130.5" cy="150.6" rx="2.2" ry="0.8" transform="rotate(38 130.5 150.6)" fill="#3a3a3a" fill-opacity="0.14"/><ellipse cx="130.5" cy="150.6" rx="3.0" ry="1.1" transform="rotate(38 130.5 150.6)" stroke="#d4d4d4" stroke-width="0.8" stroke-opacity="0.25"/><ellipse cx="113.8" cy="153.7" rx="1.4" ry="0.4" transform="rotate(30 113.8 153.7)" fill="#3a3a3a" fill-opacity="0.19"/><ellipse cx="113.8" cy="153.7" rx="1.9" ry="0.6" transform="rotate(30 113.8 153.7)" stroke="#d4d4d4" stroke-width="0.8" stroke-opacity="0.35"/><ellipse cx="98.6" cy="135.8" rx="2.2" ry="0.9" transform="rotate(127 98.6 135.8)" fill="#3a3a3a" fill-opacity="0.12"/><ellipse cx="98.6" cy="135.8" rx="3.0" ry="1.3" transform="rotate(127 98.6 135.8)" stroke="#d4d4d4" stroke-width="0.8" stroke-opacity="0.22"/><ellipse cx="113.7" cy="181.8" rx="1.4" ry="0.8" transform="rotate(39 113.7 181.8)" fill="#3a3a3a" fill-opacity="0.13"/><ellipse cx="113.7" cy="181.8" rx="1.9" ry="1.1" transform="rotate(39 113.7 181.8)" stroke="#d4d4d4" stroke-width="0.8" stroke-opacity="0.23"/><ellipse cx="116.9" cy="153.3" rx="2.6" ry="1.0" transform="rotate(22 116.9 153.3)" fill="#3a3a3a" fill-opacity="0.12"/><ellipse cx="116.9" cy="153.3" rx="3.4" ry="1.4" transform="rotate(22 116.9 153.3)" stroke="#d4d4d4" stroke-width="0.8" stroke-opacity="0.22"/><ellipse cx="128.0" cy="166.8" rx="2.9" ry="1.2" transform="rotate(168 128.0 166.8)" fill="#3a3a3a" fill-opacity="0.16"/><ellipse cx="128.0" cy="166.8" rx="3.8" ry="1.7" transform="rotate(168 128.0 166.8)" stroke="#d4d4d4" stroke-width="0.8" stroke-opacity="0.29"/><ellipse cx="107.0" cy="165.7" rx="2.9" ry="1.3" transform="rotate(62 107.0 165.7)" fill="#3a3a3a" fill-opacity="0.13"/><ellipse cx="107.0" cy="165.7" rx="3.9" ry="1.9" transform="rotate(62 107.0 165.7)" stroke="#d4d4d4" stroke-width="0.8" stroke-opacity="0.23"/><ellipse cx="126.0" cy="252.2" rx="2.5" ry="0.7" transform="rotate(5 126.0 252.2)" fill="#3a3a3a" fill-opacity="0.12"/><ellipse cx="126.0" cy="252.2" rx="3.3" ry="1.0" transform="rotate(5 126.0 252.2)" stroke="#d4d4d4" stroke-width="0.8" stroke-opacity="0.23"/><ellipse cx="103.5" cy="137.5" rx="1.5" ry="0.7" transform="rotate(162 103.5 137.5)" fill="#3a3a3a" fill-opacity="0.14"/><ellipse cx="103.5" cy="137.5" rx="1.9" ry="1.0" transform="rotate(162 103.5 137.5)" stroke="#d4d4d4" stroke-width="0.8" stroke-opacity="0.26"/><ellipse cx="138.8" cy="191.7" rx="2.9" ry="1.6" transform="rotate(169 138.8 191.7)" fill="#3a3a3a" fill-opacity="0.12"/><ellipse cx="138.8" cy="191.7" rx="3.9" ry="2.2" transform="rotate(169 138.8 191.7)" stroke="#d4d4d4" stroke-width="0.8" stroke-opacity="0.21"/><ellipse cx="109.4" cy="207.7" rx="3.2" ry="1.0" transform="rotate(53 109.4 207.7)" fill="#3a3a3a" fill-opacity="0.25"/><ellipse cx="109.4" cy="207.7" rx="4.3" ry="1.4" transform="rotate(53 109.4 207.7)" stroke="#d4d4d4" stroke-width="0.8" stroke-opacity="0.45"/></g>
<g clip-path="url(#cA2)" filter="url(#bl)" fill="none"><ellipse cx="153.8" cy="147.5" rx="1.8" ry="0.7" transform="rotate(12 153.8 147.5)" fill="#3a3a3a" fill-opacity="0.18"/><ellipse cx="153.8" cy="147.5" rx="2.4" ry="1.0" transform="rotate(12 153.8 147.5)" stroke="#d4d4d4" stroke-width="0.8" stroke-opacity="0.32"/><ellipse cx="199.5" cy="231.9" rx="2.3" ry="0.9" transform="rotate(97 199.5 231.9)" fill="#3a3a3a" fill-opacity="0.16"/><ellipse cx="199.5" cy="231.9" rx="3.1" ry="1.3" transform="rotate(97 199.5 231.9)" stroke="#d4d4d4" stroke-width="0.8" stroke-opacity="0.28"/><ellipse cx="149.6" cy="147.8" rx="1.5" ry="1.0" transform="rotate(149 149.6 147.8)" fill="#3a3a3a" fill-opacity="0.24"/><ellipse cx="149.6" cy="147.8" rx="2.0" ry="1.4" transform="rotate(149 149.6 147.8)" stroke="#d4d4d4" stroke-width="0.8" stroke-opacity="0.44"/><ellipse cx="191.6" cy="158.4" rx="1.7" ry="0.9" transform="rotate(132 191.6 158.4)" fill="#3a3a3a" fill-opacity="0.25"/><ellipse cx="191.6" cy="158.4" rx="2.2" ry="1.3" transform="rotate(132 191.6 158.4)" stroke="#d4d4d4" stroke-width="0.8" stroke-opacity="0.46"/><ellipse cx="197.0" cy="145.5" rx="2.1" ry="1.2" transform="rotate(91 197.0 145.5)" fill="#3a3a3a" fill-opacity="0.14"/><ellipse cx="197.0" cy="145.5" rx="2.8" ry="1.6" transform="rotate(91 197.0 145.5)" stroke="#d4d4d4" stroke-width="0.8" stroke-opacity="0.25"/><ellipse cx="169.7" cy="145.8" rx="2.6" ry="1.6" transform="rotate(99 169.7 145.8)" fill="#3a3a3a" fill-opacity="0.16"/><ellipse cx="169.7" cy="145.8" rx="3.5" ry="2.3" transform="rotate(99 169.7 145.8)" stroke="#d4d4d4" stroke-width="0.8" stroke-opacity="0.29"/><ellipse cx="198.9" cy="204.3" rx="2.5" ry="1.5" transform="rotate(92 198.9 204.3)" fill="#3a3a3a" fill-opacity="0.18"/><ellipse cx="198.9" cy="204.3" rx="3.4" ry="2.2" transform="rotate(92 198.9 204.3)" stroke="#d4d4d4" stroke-width="0.8" stroke-opacity="0.32"/><ellipse cx="178.1" cy="187.2" rx="1.4" ry="0.6" transform="rotate(146 178.1 187.2)" fill="#3a3a3a" fill-opacity="0.12"/><ellipse cx="178.1" cy="187.2" rx="1.9" ry="0.9" transform="rotate(146 178.1 187.2)" stroke="#d4d4d4" stroke-width="0.8" stroke-opacity="0.21"/><ellipse cx="141.1" cy="210.8" rx="1.6" ry="0.8" transform="rotate(85 141.1 210.8)" fill="#3a3a3a" fill-opacity="0.17"/><ellipse cx="141.1" cy="210.8" rx="2.2" ry="1.2" transform="rotate(85 141.1 210.8)" stroke="#d4d4d4" stroke-width="0.8" stroke-opacity="0.30"/><ellipse cx="204.8" cy="158.7" rx="1.8" ry="0.7" transform="rotate(114 204.8 158.7)" fill="#3a3a3a" fill-opacity="0.16"/><ellipse cx="204.8" cy="158.7" rx="2.4" ry="1.0" transform="rotate(114 204.8 158.7)" stroke="#d4d4d4" stroke-width="0.8" stroke-opacity="0.28"/><ellipse cx="161.8" cy="225.4" rx="1.7" ry="0.9" transform="rotate(163 161.8 225.4)" fill="#3a3a3a" fill-opacity="0.13"/><ellipse cx="161.8" cy="225.4" rx="2.2" ry="1.2" transform="rotate(163 161.8 225.4)" stroke="#d4d4d4" stroke-width="0.8" stroke-opacity="0.23"/><ellipse cx="142.1" cy="162.7" rx="2.3" ry="1.2" transform="rotate(43 142.1 162.7)" fill="#3a3a3a" fill-opacity="0.16"/><ellipse cx="142.1" cy="162.7" rx="3.1" ry="1.8" transform="rotate(43 142.1 162.7)" stroke="#d4d4d4" stroke-width="0.8" stroke-opacity="0.30"/><ellipse cx="149.9" cy="190.5" rx="1.3" ry="0.7" transform="rotate(161 149.9 190.5)" fill="#3a3a3a" fill-opacity="0.27"/><ellipse cx="149.9" cy="190.5" rx="1.7" ry="1.0" transform="rotate(161 149.9 190.5)" stroke="#d4d4d4" stroke-width="0.8" stroke-opacity="0.49"/><ellipse cx="187.2" cy="251.1" rx="1.2" ry="0.5" transform="rotate(174 187.2 251.1)" fill="#3a3a3a" fill-opacity="0.24"/><ellipse cx="187.2" cy="251.1" rx="1.6" ry="0.7" transform="rotate(174 187.2 251.1)" stroke="#d4d4d4" stroke-width="0.8" stroke-opacity="0.43"/><ellipse cx="165.5" cy="249.1" rx="2.1" ry="1.3" transform="rotate(53 165.5 249.1)" fill="#3a3a3a" fill-opacity="0.14"/><ellipse cx="165.5" cy="249.1" rx="2.8" ry="1.8" transform="rotate(53 165.5 249.1)" stroke="#d4d4d4" stroke-width="0.8" stroke-opacity="0.26"/><ellipse cx="167.8" cy="151.5" rx="1.8" ry="1.1" transform="rotate(60 167.8 151.5)" fill="#3a3a3a" fill-opacity="0.11"/><ellipse cx="167.8" cy="151.5" rx="2.4" ry="1.6" transform="rotate(60 167.8 151.5)" stroke="#d4d4d4" stroke-width="0.8" stroke-opacity="0.20"/><ellipse cx="141.0" cy="155.5" rx="2.4" ry="1.1" transform="rotate(52 141.0 155.5)" fill="#3a3a3a" fill-opacity="0.13"/><ellipse cx="141.0" cy="155.5" rx="3.2" ry="1.5" transform="rotate(52 141.0 155.5)" stroke="#d4d4d4" stroke-width="0.8" stroke-opacity="0.23"/><ellipse cx="203.8" cy="186.3" rx="1.5" ry="0.5" transform="rotate(10 203.8 186.3)" fill="#3a3a3a" fill-opacity="0.14"/><ellipse cx="203.8" cy="186.3" rx="2.0" ry="0.7" transform="rotate(10 203.8 186.3)" stroke="#d4d4d4" stroke-width="0.8" stroke-opacity="0.25"/><ellipse cx="183.3" cy="153.1" rx="1.3" ry="0.6" transform="rotate(45 183.3 153.1)" fill="#3a3a3a" fill-opacity="0.27"/><ellipse cx="183.3" cy="153.1" rx="1.7" ry="0.9" transform="rotate(45 183.3 153.1)" stroke="#d4d4d4" stroke-width="0.8" stroke-opacity="0.50"/><ellipse cx="146.2" cy="199.0" rx="2.4" ry="1.1" transform="rotate(178 146.2 199.0)" fill="#3a3a3a" fill-opacity="0.19"/><ellipse cx="146.2" cy="199.0" rx="3.1" ry="1.6" transform="rotate(178 146.2 199.0)" stroke="#d4d4d4" stroke-width="0.8" stroke-opacity="0.34"/><ellipse cx="154.2" cy="184.7" rx="1.3" ry="0.6" transform="rotate(45 154.2 184.7)" fill="#3a3a3a" fill-opacity="0.26"/><ellipse cx="154.2" cy="184.7" rx="1.7" ry="0.8" transform="rotate(45 154.2 184.7)" stroke="#d4d4d4" stroke-width="0.8" stroke-opacity="0.47"/><ellipse cx="193.7" cy="195.3" rx="1.2" ry="0.5" transform="rotate(44 193.7 195.3)" fill="#3a3a3a" fill-opacity="0.14"/><ellipse cx="193.7" cy="195.3" rx="1.7" ry="0.7" transform="rotate(44 193.7 195.3)" stroke="#d4d4d4" stroke-width="0.8" stroke-opacity="0.26"/><ellipse cx="153.5" cy="240.2" rx="1.4" ry="0.5" transform="rotate(167 153.5 240.2)" fill="#3a3a3a" fill-opacity="0.20"/><ellipse cx="153.5" cy="240.2" rx="1.9" ry="0.7" transform="rotate(167 153.5 240.2)" stroke="#d4d4d4" stroke-width="0.8" stroke-opacity="0.37"/><ellipse cx="204.4" cy="183.8" rx="2.6" ry="1.4" transform="rotate(142 204.4 183.8)" fill="#3a3a3a" fill-opacity="0.23"/><ellipse cx="204.4" cy="183.8" rx="3.4" ry="2.0" transform="rotate(142 204.4 183.8)" stroke="#d4d4d4" stroke-width="0.8" stroke-opacity="0.42"/><ellipse cx="171.1" cy="146.2" rx="1.5" ry="0.9" transform="rotate(162 171.1 146.2)" fill="#3a3a3a" fill-opacity="0.26"/><ellipse cx="171.1" cy="146.2" rx="2.0" ry="1.3" transform="rotate(162 171.1 146.2)" stroke="#d4d4d4" stroke-width="0.8" stroke-opacity="0.48"/><ellipse cx="160.6" cy="214.5" rx="2.4" ry="1.3" transform="rotate(147 160.6 214.5)" fill="#3a3a3a" fill-opacity="0.20"/><ellipse cx="160.6" cy="214.5" rx="3.2" ry="1.8" transform="rotate(147 160.6 214.5)" stroke="#d4d4d4" stroke-width="0.8" stroke-opacity="0.36"/><ellipse cx="181.9" cy="218.0" rx="1.6" ry="1.0" transform="rotate(172 181.9 218.0)" fill="#3a3a3a" fill-opacity="0.12"/><ellipse cx="181.9" cy="218.0" rx="2.1" ry="1.4" transform="rotate(172 181.9 218.0)" stroke="#d4d4d4" stroke-width="0.8" stroke-opacity="0.22"/><ellipse cx="203.1" cy="251.4" rx="2.2" ry="0.8" transform="rotate(162 203.1 251.4)" fill="#3a3a3a" fill-opacity="0.13"/><ellipse cx="203.1" cy="251.4" rx="2.9" ry="1.1" transform="rotate(162 203.1 251.4)" stroke="#d4d4d4" stroke-width="0.8" stroke-opacity="0.24"/><ellipse cx="202.9" cy="215.7" rx="1.3" ry="0.5" transform="rotate(114 202.9 215.7)" fill="#3a3a3a" fill-opacity="0.20"/><ellipse cx="202.9" cy="215.7" rx="1.7" ry="0.7" transform="rotate(114 202.9 215.7)" stroke="#d4d4d4" stroke-width="0.8" stroke-opacity="0.37"/><ellipse cx="188.0" cy="247.2" rx="1.5" ry="0.5" transform="rotate(166 188.0 247.2)" fill="#3a3a3a" fill-opacity="0.11"/><ellipse cx="188.0" cy="247.2" rx="2.0" ry="0.7" transform="rotate(166 188.0 247.2)" stroke="#d4d4d4" stroke-width="0.8" stroke-opacity="0.20"/><ellipse cx="196.7" cy="149.0" rx="2.4" ry="1.4" transform="rotate(158 196.7 149.0)" fill="#3a3a3a" fill-opacity="0.20"/><ellipse cx="196.7" cy="149.0" rx="3.2" ry="2.0" transform="rotate(158 196.7 149.0)" stroke="#d4d4d4" stroke-width="0.8" stroke-opacity="0.37"/><ellipse cx="196.9" cy="159.4" rx="2.2" ry="1.0" transform="rotate(161 196.9 159.4)" fill="#3a3a3a" fill-opacity="0.24"/><ellipse cx="196.9" cy="159.4" rx="2.9" ry="1.4" transform="rotate(161 196.9 159.4)" stroke="#d4d4d4" stroke-width="0.8" stroke-opacity="0.43"/><ellipse cx="169.6" cy="198.7" rx="1.2" ry="0.4" transform="rotate(107 169.6 198.7)" fill="#3a3a3a" fill-opacity="0.19"/><ellipse cx="169.6" cy="198.7" rx="1.7" ry="0.6" transform="rotate(107 169.6 198.7)" stroke="#d4d4d4" stroke-width="0.8" stroke-opacity="0.35"/><ellipse cx="195.9" cy="208.6" rx="1.4" ry="0.6" transform="rotate(138 195.9 208.6)" fill="#3a3a3a" fill-opacity="0.20"/><ellipse cx="195.9" cy="208.6" rx="1.9" ry="0.9" transform="rotate(138 195.9 208.6)" stroke="#d4d4d4" stroke-width="0.8" stroke-opacity="0.36"/><ellipse cx="138.7" cy="236.4" rx="2.4" ry="0.9" transform="rotate(98 138.7 236.4)" fill="#3a3a3a" fill-opacity="0.17"/><ellipse cx="138.7" cy="236.4" rx="3.3" ry="1.2" transform="rotate(98 138.7 236.4)" stroke="#d4d4d4" stroke-width="0.8" stroke-opacity="0.31"/><ellipse cx="190.8" cy="172.7" rx="1.6" ry="0.8" transform="rotate(174 190.8 172.7)" fill="#3a3a3a" fill-opacity="0.13"/><ellipse cx="190.8" cy="172.7" rx="2.1" ry="1.1" transform="rotate(174 190.8 172.7)" stroke="#d4d4d4" stroke-width="0.8" stroke-opacity="0.23"/><ellipse cx="145.7" cy="210.1" rx="2.5" ry="1.2" transform="rotate(78 145.7 210.1)" fill="#3a3a3a" fill-opacity="0.25"/><ellipse cx="145.7" cy="210.1" rx="3.4" ry="1.8" transform="rotate(78 145.7 210.1)" stroke="#d4d4d4" stroke-width="0.8" stroke-opacity="0.46"/><ellipse cx="190.0" cy="143.1" rx="2.5" ry="1.0" transform="rotate(54 190.0 143.1)" fill="#3a3a3a" fill-opacity="0.25"/><ellipse cx="190.0" cy="143.1" rx="3.4" ry="1.4" transform="rotate(54 190.0 143.1)" stroke="#d4d4d4" stroke-width="0.8" stroke-opacity="0.45"/><ellipse cx="166.3" cy="231.6" rx="1.5" ry="0.9" transform="rotate(32 166.3 231.6)" fill="#3a3a3a" fill-opacity="0.13"/><ellipse cx="166.3" cy="231.6" rx="1.9" ry="1.3" transform="rotate(32 166.3 231.6)" stroke="#d4d4d4" stroke-width="0.8" stroke-opacity="0.24"/><ellipse cx="171.1" cy="176.0" rx="2.0" ry="1.3" transform="rotate(128 171.1 176.0)" fill="#3a3a3a" fill-opacity="0.11"/><ellipse cx="171.1" cy="176.0" rx="2.7" ry="1.8" transform="rotate(128 171.1 176.0)" stroke="#d4d4d4" stroke-width="0.8" stroke-opacity="0.20"/><ellipse cx="158.9" cy="200.9" rx="1.9" ry="1.1" transform="rotate(87 158.9 200.9)" fill="#3a3a3a" fill-opacity="0.12"/><ellipse cx="158.9" cy="200.9" rx="2.6" ry="1.5" transform="rotate(87 158.9 200.9)" stroke="#d4d4d4" stroke-width="0.8" stroke-opacity="0.22"/><ellipse cx="154.4" cy="237.6" rx="1.7" ry="1.0" transform="rotate(177 154.4 237.6)" fill="#3a3a3a" fill-opacity="0.21"/><ellipse cx="154.4" cy="237.6" rx="2.3" ry="1.4" transform="rotate(177 154.4 237.6)" stroke="#d4d4d4" stroke-width="0.8" stroke-opacity="0.39"/><ellipse cx="183.3" cy="208.8" rx="1.7" ry="1.0" transform="rotate(84 183.3 208.8)" fill="#3a3a3a" fill-opacity="0.26"/><ellipse cx="183.3" cy="208.8" rx="2.2" ry="1.5" transform="rotate(84 183.3 208.8)" stroke="#d4d4d4" stroke-width="0.8" stroke-opacity="0.47"/><ellipse cx="158.5" cy="240.0" rx="2.4" ry="1.3" transform="rotate(80 158.5 240.0)" fill="#3a3a3a" fill-opacity="0.13"/><ellipse cx="158.5" cy="240.0" rx="3.2" ry="1.8" transform="rotate(80 158.5 240.0)" stroke="#d4d4d4" stroke-width="0.8" stroke-opacity="0.24"/><ellipse cx="189.7" cy="178.8" rx="2.2" ry="0.8" transform="rotate(15 189.7 178.8)" fill="#3a3a3a" fill-opacity="0.13"/><ellipse cx="189.7" cy="178.8" rx="2.9" ry="1.2" transform="rotate(15 189.7 178.8)" stroke="#d4d4d4" stroke-width="0.8" stroke-opacity="0.24"/><ellipse cx="192.2" cy="156.5" rx="2.6" ry="1.1" transform="rotate(104 192.2 156.5)" fill="#3a3a3a" fill-opacity="0.17"/><ellipse cx="192.2" cy="156.5" rx="3.4" ry="1.6" transform="rotate(104 192.2 156.5)" stroke="#d4d4d4" stroke-width="0.8" stroke-opacity="0.31"/><ellipse cx="179.6" cy="146.3" rx="1.8" ry="1.1" transform="rotate(32 179.6 146.3)" fill="#3a3a3a" fill-opacity="0.22"/><ellipse cx="179.6" cy="146.3" rx="2.4" ry="1.6" transform="rotate(32 179.6 146.3)" stroke="#d4d4d4" stroke-width="0.8" stroke-opacity="0.40"/><ellipse cx="159.9" cy="171.4" rx="1.2" ry="0.4" transform="rotate(171 159.9 171.4)" fill="#3a3a3a" fill-opacity="0.25"/><ellipse cx="159.9" cy="171.4" rx="1.6" ry="0.6" transform="rotate(171 159.9 171.4)" stroke="#d4d4d4" stroke-width="0.8" stroke-opacity="0.45"/><ellipse cx="191.7" cy="232.7" rx="2.6" ry="1.0" transform="rotate(105 191.7 232.7)" fill="#3a3a3a" fill-opacity="0.19"/><ellipse cx="191.7" cy="232.7" rx="3.5" ry="1.4" transform="rotate(105 191.7 232.7)" stroke="#d4d4d4" stroke-width="0.8" stroke-opacity="0.35"/><ellipse cx="176.4" cy="248.5" rx="2.3" ry="1.5" transform="rotate(21 176.4 248.5)" fill="#3a3a3a" fill-opacity="0.22"/><ellipse cx="176.4" cy="248.5" rx="3.1" ry="2.1" transform="rotate(21 176.4 248.5)" stroke="#d4d4d4" stroke-width="0.8" stroke-opacity="0.40"/><ellipse cx="183.3" cy="225.2" rx="2.1" ry="1.3" transform="rotate(55 183.3 225.2)" fill="#3a3a3a" fill-opacity="0.26"/><ellipse cx="183.3" cy="225.2" rx="2.8" ry="1.8" transform="rotate(55 183.3 225.2)" stroke="#d4d4d4" stroke-width="0.8" stroke-opacity="0.48"/><ellipse cx="165.2" cy="207.5" rx="2.5" ry="1.4" transform="rotate(56 165.2 207.5)" fill="#3a3a3a" fill-opacity="0.15"/><ellipse cx="165.2" cy="207.5" rx="3.4" ry="2.0" transform="rotate(56 165.2 207.5)" stroke="#d4d4d4" stroke-width="0.8" stroke-opacity="0.27"/><ellipse cx="159.9" cy="210.8" rx="2.7" ry="1.7" transform="rotate(72 159.9 210.8)" fill="#3a3a3a" fill-opacity="0.18"/><ellipse cx="159.9" cy="210.8" rx="3.6" ry="2.4" transform="rotate(72 159.9 210.8)" stroke="#d4d4d4" stroke-width="0.8" stroke-opacity="0.32"/><ellipse cx="192.8" cy="169.3" rx="1.8" ry="0.6" transform="rotate(33 192.8 169.3)" fill="#3a3a3a" fill-opacity="0.20"/><ellipse cx="192.8" cy="169.3" rx="2.4" ry="0.9" transform="rotate(33 192.8 169.3)" stroke="#d4d4d4" stroke-width="0.8" stroke-opacity="0.36"/><ellipse cx="184.5" cy="209.4" rx="1.7" ry="1.1" transform="rotate(112 184.5 209.4)" fill="#3a3a3a" fill-opacity="0.14"/><ellipse cx="184.5" cy="209.4" rx="2.3" ry="1.6" transform="rotate(112 184.5 209.4)" stroke="#d4d4d4" stroke-width="0.8" stroke-opacity="0.25"/><ellipse cx="142.5" cy="252.8" rx="2.7" ry="1.7" transform="rotate(109 142.5 252.8)" fill="#3a3a3a" fill-opacity="0.16"/><ellipse cx="142.5" cy="252.8" rx="3.6" ry="2.4" transform="rotate(109 142.5 252.8)" stroke="#d4d4d4" stroke-width="0.8" stroke-opacity="0.29"/><ellipse cx="144.1" cy="166.2" rx="1.5" ry="1.0" transform="rotate(161 144.1 166.2)" fill="#3a3a3a" fill-opacity="0.24"/><ellipse cx="144.1" cy="166.2" rx="2.0" ry="1.4" transform="rotate(161 144.1 166.2)" stroke="#d4d4d4" stroke-width="0.8" stroke-opacity="0.43"/><ellipse cx="148.0" cy="163.8" rx="1.6" ry="1.0" transform="rotate(29 148.0 163.8)" fill="#3a3a3a" fill-opacity="0.24"/><ellipse cx="148.0" cy="163.8" rx="2.2" ry="1.5" transform="rotate(29 148.0 163.8)" stroke="#d4d4d4" stroke-width="0.8" stroke-opacity="0.44"/><ellipse cx="183.6" cy="201.2" rx="2.6" ry="1.1" transform="rotate(94 183.6 201.2)" fill="#3a3a3a" fill-opacity="0.14"/><ellipse cx="183.6" cy="201.2" rx="3.5" ry="1.6" transform="rotate(94 183.6 201.2)" stroke="#d4d4d4" stroke-width="0.8" stroke-opacity="0.25"/><ellipse cx="144.5" cy="138.8" rx="1.7" ry="0.6" transform="rotate(11 144.5 138.8)" fill="#3a3a3a" fill-opacity="0.27"/><ellipse cx="144.5" cy="138.8" rx="2.2" ry="0.9" transform="rotate(11 144.5 138.8)" stroke="#d4d4d4" stroke-width="0.8" stroke-opacity="0.50"/><ellipse cx="157.4" cy="242.7" rx="2.3" ry="1.3" transform="rotate(118 157.4 242.7)" fill="#3a3a3a" fill-opacity="0.27"/><ellipse cx="157.4" cy="242.7" rx="3.0" ry="1.8" transform="rotate(118 157.4 242.7)" stroke="#d4d4d4" stroke-width="0.8" stroke-opacity="0.49"/><ellipse cx="196.9" cy="222.1" rx="2.0" ry="1.1" transform="rotate(130 196.9 222.1)" fill="#3a3a3a" fill-opacity="0.20"/><ellipse cx="196.9" cy="222.1" rx="2.7" ry="1.6" transform="rotate(130 196.9 222.1)" stroke="#d4d4d4" stroke-width="0.8" stroke-opacity="0.37"/><ellipse cx="171.7" cy="153.7" rx="2.5" ry="1.2" transform="rotate(12 171.7 153.7)" fill="#3a3a3a" fill-opacity="0.14"/><ellipse cx="171.7" cy="153.7" rx="3.3" ry="1.7" transform="rotate(12 171.7 153.7)" stroke="#d4d4d4" stroke-width="0.8" stroke-opacity="0.25"/><ellipse cx="196.6" cy="166.0" rx="1.8" ry="1.0" transform="rotate(155 196.6 166.0)" fill="#3a3a3a" fill-opacity="0.16"/><ellipse cx="196.6" cy="166.0" rx="2.4" ry="1.4" transform="rotate(155 196.6 166.0)" stroke="#d4d4d4" stroke-width="0.8" stroke-opacity="0.30"/><ellipse cx="163.9" cy="186.2" rx="1.2" ry="0.8" transform="rotate(3 163.9 186.2)" fill="#3a3a3a" fill-opacity="0.27"/><ellipse cx="163.9" cy="186.2" rx="1.7" ry="1.1" transform="rotate(3 163.9 186.2)" stroke="#d4d4d4" stroke-width="0.8" stroke-opacity="0.49"/><ellipse cx="148.2" cy="154.0" rx="2.5" ry="1.5" transform="rotate(42 148.2 154.0)" fill="#3a3a3a" fill-opacity="0.20"/><ellipse cx="148.2" cy="154.0" rx="3.3" ry="2.1" transform="rotate(42 148.2 154.0)" stroke="#d4d4d4" stroke-width="0.8" stroke-opacity="0.37"/><ellipse cx="169.9" cy="221.9" rx="1.5" ry="0.9" transform="rotate(179 169.9 221.9)" fill="#3a3a3a" fill-opacity="0.23"/><ellipse cx="169.9" cy="221.9" rx="2.0" ry="1.3" transform="rotate(179 169.9 221.9)" stroke="#d4d4d4" stroke-width="0.8" stroke-opacity="0.41"/><ellipse cx="199.7" cy="248.4" rx="1.8" ry="1.1" transform="rotate(150 199.7 248.4)" fill="#3a3a3a" fill-opacity="0.21"/><ellipse cx="199.7" cy="248.4" rx="2.4" ry="1.5" transform="rotate(150 199.7 248.4)" stroke="#d4d4d4" stroke-width="0.8" stroke-opacity="0.38"/><ellipse cx="145.2" cy="209.9" rx="2.6" ry="1.1" transform="rotate(116 145.2 209.9)" fill="#3a3a3a" fill-opacity="0.26"/><ellipse cx="145.2" cy="209.9" rx="3.4" ry="1.6" transform="rotate(116 145.2 209.9)" stroke="#d4d4d4" stroke-width="0.8" stroke-opacity="0.47"/><ellipse cx="178.2" cy="139.5" rx="2.1" ry="0.9" transform="rotate(154 178.2 139.5)" fill="#3a3a3a" fill-opacity="0.22"/><ellipse cx="178.2" cy="139.5" rx="2.9" ry="1.3" transform="rotate(154 178.2 139.5)" stroke="#d4d4d4" stroke-width="0.8" stroke-opacity="0.40"/><ellipse cx="158.6" cy="243.4" rx="2.1" ry="0.9" transform="rotate(150 158.6 243.4)" fill="#3a3a3a" fill-opacity="0.26"/><ellipse cx="158.6" cy="243.4" rx="2.9" ry="1.3" transform="rotate(150 158.6 243.4)" stroke="#d4d4d4" stroke-width="0.8" stroke-opacity="0.47"/><ellipse cx="197.8" cy="241.9" rx="2.2" ry="1.2" transform="rotate(109 197.8 241.9)" fill="#3a3a3a" fill-opacity="0.20"/><ellipse cx="197.8" cy="241.9" rx="2.9" ry="1.7" transform="rotate(109 197.8 241.9)" stroke="#d4d4d4" stroke-width="0.8" stroke-opacity="0.36"/><ellipse cx="204.2" cy="177.7" rx="1.3" ry="0.7" transform="rotate(90 204.2 177.7)" fill="#3a3a3a" fill-opacity="0.20"/><ellipse cx="204.2" cy="177.7" rx="1.8" ry="1.1" transform="rotate(90 204.2 177.7)" stroke="#d4d4d4" stroke-width="0.8" stroke-opacity="0.36"/><ellipse cx="178.1" cy="165.2" rx="1.5" ry="0.5" transform="rotate(141 178.1 165.2)" fill="#3a3a3a" fill-opacity="0.26"/><ellipse cx="178.1" cy="165.2" rx="2.0" ry="0.8" transform="rotate(141 178.1 165.2)" stroke="#d4d4d4" stroke-width="0.8" stroke-opacity="0.47"/><ellipse cx="184.7" cy="149.1" rx="2.7" ry="1.6" transform="rotate(92 184.7 149.1)" fill="#3a3a3a" fill-opacity="0.11"/><ellipse cx="184.7" cy="149.1" rx="3.6" ry="2.3" transform="rotate(92 184.7 149.1)" stroke="#d4d4d4" stroke-width="0.8" stroke-opacity="0.20"/></g>
<g clip-path="url(#cA3)" filter="url(#bl)" fill="none"><ellipse cx="120.3" cy="350.5" rx="4.0" ry="1.8" transform="rotate(22 120.3 350.5)" fill="#3a3a3a" fill-opacity="0.29"/><ellipse cx="120.3" cy="350.5" rx="5.3" ry="2.6" transform="rotate(22 120.3 350.5)" stroke="#d4d4d4" stroke-width="0.8" stroke-opacity="0.52"/><ellipse cx="97.1" cy="316.8" rx="4.4" ry="1.6" transform="rotate(33 97.1 316.8)" fill="#3a3a3a" fill-opacity="0.13"/><ellipse cx="97.1" cy="316.8" rx="5.8" ry="2.3" transform="rotate(33 97.1 316.8)" stroke="#d4d4d4" stroke-width="0.8" stroke-opacity="0.24"/><ellipse cx="114.3" cy="290.1" rx="3.3" ry="1.1" transform="rotate(-29 114.3 290.1)" fill="#3a3a3a" fill-opacity="0.15"/><ellipse cx="114.3" cy="290.1" rx="4.4" ry="1.6" transform="rotate(-29 114.3 290.1)" stroke="#d4d4d4" stroke-width="0.8" stroke-opacity="0.28"/><ellipse cx="106.9" cy="371.8" rx="3.9" ry="0.9" transform="rotate(26 106.9 371.8)" fill="#3a3a3a" fill-opacity="0.14"/><ellipse cx="106.9" cy="371.8" rx="5.2" ry="1.3" transform="rotate(26 106.9 371.8)" stroke="#d4d4d4" stroke-width="0.8" stroke-opacity="0.25"/><ellipse cx="120.1" cy="275.5" rx="1.9" ry="0.8" transform="rotate(-15 120.1 275.5)" fill="#3a3a3a" fill-opacity="0.15"/><ellipse cx="120.1" cy="275.5" rx="2.5" ry="1.2" transform="rotate(-15 120.1 275.5)" stroke="#d4d4d4" stroke-width="0.8" stroke-opacity="0.28"/><ellipse cx="134.3" cy="366.4" rx="2.6" ry="1.2" transform="rotate(8 134.3 366.4)" fill="#3a3a3a" fill-opacity="0.24"/><ellipse cx="134.3" cy="366.4" rx="3.5" ry="1.7" transform="rotate(8 134.3 366.4)" stroke="#d4d4d4" stroke-width="0.8" stroke-opacity="0.44"/><ellipse cx="104.0" cy="374.8" rx="3.7" ry="1.7" transform="rotate(33 104.0 374.8)" fill="#3a3a3a" fill-opacity="0.17"/><ellipse cx="104.0" cy="374.8" rx="4.9" ry="2.4" transform="rotate(33 104.0 374.8)" stroke="#d4d4d4" stroke-width="0.8" stroke-opacity="0.30"/><ellipse cx="110.1" cy="280.2" rx="2.3" ry="0.5" transform="rotate(-9 110.1 280.2)" fill="#3a3a3a" fill-opacity="0.23"/><ellipse cx="110.1" cy="280.2" rx="3.0" ry="0.7" transform="rotate(-9 110.1 280.2)" stroke="#d4d4d4" stroke-width="0.8" stroke-opacity="0.41"/><ellipse cx="96.1" cy="342.7" rx="2.8" ry="0.8" transform="rotate(27 96.1 342.7)" fill="#3a3a3a" fill-opacity="0.20"/><ellipse cx="96.1" cy="342.7" rx="3.7" ry="1.1" transform="rotate(27 96.1 342.7)" stroke="#d4d4d4" stroke-width="0.8" stroke-opacity="0.37"/><ellipse cx="108.3" cy="318.7" rx="3.7" ry="0.8" transform="rotate(38 108.3 318.7)" fill="#3a3a3a" fill-opacity="0.11"/><ellipse cx="108.3" cy="318.7" rx="5.0" ry="1.1" transform="rotate(38 108.3 318.7)" stroke="#d4d4d4" stroke-width="0.8" stroke-opacity="0.21"/><ellipse cx="125.2" cy="363.1" rx="1.9" ry="0.8" transform="rotate(-4 125.2 363.1)" fill="#3a3a3a" fill-opacity="0.22"/><ellipse cx="125.2" cy="363.1" rx="2.6" ry="1.1" transform="rotate(-4 125.2 363.1)" stroke="#d4d4d4" stroke-width="0.8" stroke-opacity="0.40"/><ellipse cx="96.4" cy="265.7" rx="2.3" ry="1.1" transform="rotate(-16 96.4 265.7)" fill="#3a3a3a" fill-opacity="0.26"/><ellipse cx="96.4" cy="265.7" rx="3.1" ry="1.5" transform="rotate(-16 96.4 265.7)" stroke="#d4d4d4" stroke-width="0.8" stroke-opacity="0.46"/><ellipse cx="132.3" cy="374.9" rx="2.8" ry="0.8" transform="rotate(7 132.3 374.9)" fill="#3a3a3a" fill-opacity="0.26"/><ellipse cx="132.3" cy="374.9" rx="3.7" ry="1.1" transform="rotate(7 132.3 374.9)" stroke="#d4d4d4" stroke-width="0.8" stroke-opacity="0.47"/><ellipse cx="100.2" cy="351.3" rx="4.0" ry="1.7" transform="rotate(-27 100.2 351.3)" fill="#3a3a3a" fill-opacity="0.29"/><ellipse cx="100.2" cy="351.3" rx="5.3" ry="2.4" transform="rotate(-27 100.2 351.3)" stroke="#d4d4d4" stroke-width="0.8" stroke-opacity="0.53"/><ellipse cx="99.6" cy="301.6" rx="3.5" ry="1.5" transform="rotate(-6 99.6 301.6)" fill="#3a3a3a" fill-opacity="0.29"/><ellipse cx="99.6" cy="301.6" rx="4.6" ry="2.2" transform="rotate(-6 99.6 301.6)" stroke="#d4d4d4" stroke-width="0.8" stroke-opacity="0.52"/><ellipse cx="117.3" cy="298.1" rx="2.7" ry="0.6" transform="rotate(-25 117.3 298.1)" fill="#3a3a3a" fill-opacity="0.14"/><ellipse cx="117.3" cy="298.1" rx="3.6" ry="0.9" transform="rotate(-25 117.3 298.1)" stroke="#d4d4d4" stroke-width="0.8" stroke-opacity="0.25"/><ellipse cx="122.9" cy="381.6" rx="2.3" ry="0.5" transform="rotate(39 122.9 381.6)" fill="#3a3a3a" fill-opacity="0.21"/><ellipse cx="122.9" cy="381.6" rx="3.1" ry="0.7" transform="rotate(39 122.9 381.6)" stroke="#d4d4d4" stroke-width="0.8" stroke-opacity="0.39"/><ellipse cx="111.8" cy="289.0" rx="3.4" ry="1.4" transform="rotate(2 111.8 289.0)" fill="#3a3a3a" fill-opacity="0.19"/><ellipse cx="111.8" cy="289.0" rx="4.6" ry="2.1" transform="rotate(2 111.8 289.0)" stroke="#d4d4d4" stroke-width="0.8" stroke-opacity="0.35"/><ellipse cx="98.2" cy="371.8" rx="2.0" ry="0.6" transform="rotate(29 98.2 371.8)" fill="#3a3a3a" fill-opacity="0.14"/><ellipse cx="98.2" cy="371.8" rx="2.6" ry="0.9" transform="rotate(29 98.2 371.8)" stroke="#d4d4d4" stroke-width="0.8" stroke-opacity="0.25"/><ellipse cx="124.5" cy="375.9" rx="3.5" ry="1.4" transform="rotate(-23 124.5 375.9)" fill="#3a3a3a" fill-opacity="0.19"/><ellipse cx="124.5" cy="375.9" rx="4.7" ry="2.1" transform="rotate(-23 124.5 375.9)" stroke="#d4d4d4" stroke-width="0.8" stroke-opacity="0.35"/><ellipse cx="101.8" cy="363.1" rx="2.6" ry="0.8" transform="rotate(40 101.8 363.1)" fill="#3a3a3a" fill-opacity="0.27"/><ellipse cx="101.8" cy="363.1" rx="3.5" ry="1.2" transform="rotate(40 101.8 363.1)" stroke="#d4d4d4" stroke-width="0.8" stroke-opacity="0.50"/><ellipse cx="134.1" cy="315.3" rx="3.2" ry="1.2" transform="rotate(4 134.1 315.3)" fill="#3a3a3a" fill-opacity="0.17"/><ellipse cx="134.1" cy="315.3" rx="4.2" ry="1.8" transform="rotate(4 134.1 315.3)" stroke="#d4d4d4" stroke-width="0.8" stroke-opacity="0.30"/><ellipse cx="111.7" cy="277.9" rx="2.9" ry="1.3" transform="rotate(37 111.7 277.9)" fill="#3a3a3a" fill-opacity="0.23"/><ellipse cx="111.7" cy="277.9" rx="3.8" ry="1.9" transform="rotate(37 111.7 277.9)" stroke="#d4d4d4" stroke-width="0.8" stroke-opacity="0.42"/><ellipse cx="115.5" cy="301.3" rx="2.1" ry="0.6" transform="rotate(25 115.5 301.3)" fill="#3a3a3a" fill-opacity="0.28"/><ellipse cx="115.5" cy="301.3" rx="2.8" ry="0.8" transform="rotate(25 115.5 301.3)" stroke="#d4d4d4" stroke-width="0.8" stroke-opacity="0.50"/><ellipse cx="110.1" cy="355.9" rx="3.9" ry="1.5" transform="rotate(16 110.1 355.9)" fill="#3a3a3a" fill-opacity="0.26"/><ellipse cx="110.1" cy="355.9" rx="5.2" ry="2.1" transform="rotate(16 110.1 355.9)" stroke="#d4d4d4" stroke-width="0.8" stroke-opacity="0.47"/><ellipse cx="110.2" cy="345.9" rx="2.6" ry="0.8" transform="rotate(24 110.2 345.9)" fill="#3a3a3a" fill-opacity="0.24"/><ellipse cx="110.2" cy="345.9" rx="3.5" ry="1.2" transform="rotate(24 110.2 345.9)" stroke="#d4d4d4" stroke-width="0.8" stroke-opacity="0.44"/><ellipse cx="107.5" cy="375.4" rx="3.6" ry="1.3" transform="rotate(-29 107.5 375.4)" fill="#3a3a3a" fill-opacity="0.22"/><ellipse cx="107.5" cy="375.4" rx="4.8" ry="1.8" transform="rotate(-29 107.5 375.4)" stroke="#d4d4d4" stroke-width="0.8" stroke-opacity="0.39"/><ellipse cx="105.8" cy="341.9" rx="3.1" ry="1.3" transform="rotate(15 105.8 341.9)" fill="#3a3a3a" fill-opacity="0.26"/><ellipse cx="105.8" cy="341.9" rx="4.1" ry="1.8" transform="rotate(15 105.8 341.9)" stroke="#d4d4d4" stroke-width="0.8" stroke-opacity="0.48"/><ellipse cx="109.6" cy="338.6" rx="3.8" ry="1.6" transform="rotate(-5 109.6 338.6)" fill="#3a3a3a" fill-opacity="0.27"/><ellipse cx="109.6" cy="338.6" rx="5.1" ry="2.3" transform="rotate(-5 109.6 338.6)" stroke="#d4d4d4" stroke-width="0.8" stroke-opacity="0.50"/><ellipse cx="129.9" cy="344.0" rx="4.4" ry="2.0" transform="rotate(6 129.9 344.0)" fill="#3a3a3a" fill-opacity="0.21"/><ellipse cx="129.9" cy="344.0" rx="5.9" ry="2.9" transform="rotate(6 129.9 344.0)" stroke="#d4d4d4" stroke-width="0.8" stroke-opacity="0.39"/><ellipse cx="102.5" cy="362.1" rx="4.3" ry="1.4" transform="rotate(18 102.5 362.1)" fill="#3a3a3a" fill-opacity="0.25"/><ellipse cx="102.5" cy="362.1" rx="5.8" ry="2.0" transform="rotate(18 102.5 362.1)" stroke="#d4d4d4" stroke-width="0.8" stroke-opacity="0.45"/><ellipse cx="124.5" cy="281.0" rx="3.9" ry="1.4" transform="rotate(17 124.5 281.0)" fill="#3a3a3a" fill-opacity="0.19"/><ellipse cx="124.5" cy="281.0" rx="5.2" ry="2.0" transform="rotate(17 124.5 281.0)" stroke="#d4d4d4" stroke-width="0.8" stroke-opacity="0.35"/><ellipse cx="120.3" cy="354.5" rx="3.5" ry="1.4" transform="rotate(-28 120.3 354.5)" fill="#3a3a3a" fill-opacity="0.14"/><ellipse cx="120.3" cy="354.5" rx="4.7" ry="2.0" transform="rotate(-28 120.3 354.5)" stroke="#d4d4d4" stroke-width="0.8" stroke-opacity="0.26"/><ellipse cx="113.2" cy="339.3" rx="2.4" ry="0.9" transform="rotate(14 113.2 339.3)" fill="#3a3a3a" fill-opacity="0.12"/><ellipse cx="113.2" cy="339.3" rx="3.3" ry="1.3" transform="rotate(14 113.2 339.3)" stroke="#d4d4d4" stroke-width="0.8" stroke-opacity="0.21"/><ellipse cx="114.4" cy="287.6" rx="2.0" ry="0.5" transform="rotate(-8 114.4 287.6)" fill="#3a3a3a" fill-opacity="0.14"/><ellipse cx="114.4" cy="287.6" rx="2.7" ry="0.6" transform="rotate(-8 114.4 287.6)" stroke="#d4d4d4" stroke-width="0.8" stroke-opacity="0.26"/><ellipse cx="103.5" cy="264.4" rx="3.1" ry="0.9" transform="rotate(13 103.5 264.4)" fill="#3a3a3a" fill-opacity="0.22"/><ellipse cx="103.5" cy="264.4" rx="4.1" ry="1.3" transform="rotate(13 103.5 264.4)" stroke="#d4d4d4" stroke-width="0.8" stroke-opacity="0.41"/><ellipse cx="105.3" cy="370.2" rx="1.9" ry="0.6" transform="rotate(-11 105.3 370.2)" fill="#3a3a3a" fill-opacity="0.19"/><ellipse cx="105.3" cy="370.2" rx="2.5" ry="0.8" transform="rotate(-11 105.3 370.2)" stroke="#d4d4d4" stroke-width="0.8" stroke-opacity="0.34"/><ellipse cx="100.5" cy="361.4" rx="2.9" ry="0.6" transform="rotate(13 100.5 361.4)" fill="#3a3a3a" fill-opacity="0.13"/><ellipse cx="100.5" cy="361.4" rx="3.8" ry="0.8" transform="rotate(13 100.5 361.4)" stroke="#d4d4d4" stroke-width="0.8" stroke-opacity="0.23"/><ellipse cx="117.3" cy="301.4" rx="3.4" ry="1.5" transform="rotate(27 117.3 301.4)" fill="#3a3a3a" fill-opacity="0.19"/><ellipse cx="117.3" cy="301.4" rx="4.5" ry="2.2" transform="rotate(27 117.3 301.4)" stroke="#d4d4d4" stroke-width="0.8" stroke-opacity="0.35"/><ellipse cx="127.7" cy="338.4" rx="2.8" ry="0.6" transform="rotate(12 127.7 338.4)" fill="#3a3a3a" fill-opacity="0.22"/><ellipse cx="127.7" cy="338.4" rx="3.8" ry="0.9" transform="rotate(12 127.7 338.4)" stroke="#d4d4d4" stroke-width="0.8" stroke-opacity="0.40"/><ellipse cx="133.3" cy="378.1" rx="3.5" ry="1.0" transform="rotate(33 133.3 378.1)" fill="#3a3a3a" fill-opacity="0.11"/><ellipse cx="133.3" cy="378.1" rx="4.6" ry="1.4" transform="rotate(33 133.3 378.1)" stroke="#d4d4d4" stroke-width="0.8" stroke-opacity="0.20"/><ellipse cx="100.2" cy="329.0" rx="3.5" ry="0.8" transform="rotate(14 100.2 329.0)" fill="#3a3a3a" fill-opacity="0.28"/><ellipse cx="100.2" cy="329.0" rx="4.7" ry="1.1" transform="rotate(14 100.2 329.0)" stroke="#d4d4d4" stroke-width="0.8" stroke-opacity="0.51"/><ellipse cx="110.7" cy="312.7" rx="2.5" ry="0.7" transform="rotate(38 110.7 312.7)" fill="#3a3a3a" fill-opacity="0.18"/><ellipse cx="110.7" cy="312.7" rx="3.3" ry="0.9" transform="rotate(38 110.7 312.7)" stroke="#d4d4d4" stroke-width="0.8" stroke-opacity="0.33"/><ellipse cx="133.5" cy="371.5" rx="3.4" ry="0.9" transform="rotate(39 133.5 371.5)" fill="#3a3a3a" fill-opacity="0.21"/><ellipse cx="133.5" cy="371.5" rx="4.6" ry="1.3" transform="rotate(39 133.5 371.5)" stroke="#d4d4d4" stroke-width="0.8" stroke-opacity="0.37"/><ellipse cx="112.2" cy="298.9" rx="4.5" ry="1.4" transform="rotate(-10 112.2 298.9)" fill="#3a3a3a" fill-opacity="0.20"/><ellipse cx="112.2" cy="298.9" rx="5.9" ry="2.1" transform="rotate(-10 112.2 298.9)" stroke="#d4d4d4" stroke-width="0.8" stroke-opacity="0.37"/><ellipse cx="100.8" cy="335.8" rx="3.0" ry="0.8" transform="rotate(25 100.8 335.8)" fill="#3a3a3a" fill-opacity="0.27"/><ellipse cx="100.8" cy="335.8" rx="4.1" ry="1.2" transform="rotate(25 100.8 335.8)" stroke="#d4d4d4" stroke-width="0.8" stroke-opacity="0.49"/><ellipse cx="96.5" cy="325.0" rx="2.6" ry="1.2" transform="rotate(25 96.5 325.0)" fill="#3a3a3a" fill-opacity="0.16"/><ellipse cx="96.5" cy="325.0" rx="3.5" ry="1.7" transform="rotate(25 96.5 325.0)" stroke="#d4d4d4" stroke-width="0.8" stroke-opacity="0.29"/><ellipse cx="106.4" cy="278.9" rx="4.5" ry="1.2" transform="rotate(13 106.4 278.9)" fill="#3a3a3a" fill-opacity="0.20"/><ellipse cx="106.4" cy="278.9" rx="6.0" ry="1.7" transform="rotate(13 106.4 278.9)" stroke="#d4d4d4" stroke-width="0.8" stroke-opacity="0.37"/><ellipse cx="121.2" cy="333.7" rx="3.8" ry="0.8" transform="rotate(23 121.2 333.7)" fill="#3a3a3a" fill-opacity="0.17"/><ellipse cx="121.2" cy="333.7" rx="5.1" ry="1.2" transform="rotate(23 121.2 333.7)" stroke="#d4d4d4" stroke-width="0.8" stroke-opacity="0.31"/><ellipse cx="116.8" cy="301.0" rx="2.7" ry="0.9" transform="rotate(3 116.8 301.0)" fill="#3a3a3a" fill-opacity="0.18"/><ellipse cx="116.8" cy="301.0" rx="3.5" ry="1.3" transform="rotate(3 116.8 301.0)" stroke="#d4d4d4" stroke-width="0.8" stroke-opacity="0.33"/><ellipse cx="125.1" cy="332.1" rx="2.0" ry="0.5" transform="rotate(2 125.1 332.1)" fill="#3a3a3a" fill-opacity="0.29"/><ellipse cx="125.1" cy="332.1" rx="2.6" ry="0.7" transform="rotate(2 125.1 332.1)" stroke="#d4d4d4" stroke-width="0.8" stroke-opacity="0.52"/><ellipse cx="130.6" cy="326.6" rx="1.9" ry="0.8" transform="rotate(-0 130.6 326.6)" fill="#3a3a3a" fill-opacity="0.22"/><ellipse cx="130.6" cy="326.6" rx="2.6" ry="1.1" transform="rotate(-0 130.6 326.6)" stroke="#d4d4d4" stroke-width="0.8" stroke-opacity="0.40"/><ellipse cx="123.6" cy="337.1" rx="3.1" ry="1.4" transform="rotate(-3 123.6 337.1)" fill="#3a3a3a" fill-opacity="0.19"/><ellipse cx="123.6" cy="337.1" rx="4.2" ry="2.0" transform="rotate(-3 123.6 337.1)" stroke="#d4d4d4" stroke-width="0.8" stroke-opacity="0.34"/><ellipse cx="129.2" cy="284.0" rx="2.7" ry="1.1" transform="rotate(-25 129.2 284.0)" fill="#3a3a3a" fill-opacity="0.27"/><ellipse cx="129.2" cy="284.0" rx="3.5" ry="1.6" transform="rotate(-25 129.2 284.0)" stroke="#d4d4d4" stroke-width="0.8" stroke-opacity="0.49"/><ellipse cx="123.1" cy="312.8" rx="2.6" ry="1.1" transform="rotate(34 123.1 312.8)" fill="#3a3a3a" fill-opacity="0.14"/><ellipse cx="123.1" cy="312.8" rx="3.5" ry="1.5" transform="rotate(34 123.1 312.8)" stroke="#d4d4d4" stroke-width="0.8" stroke-opacity="0.25"/><ellipse cx="114.7" cy="327.0" rx="3.2" ry="0.9" transform="rotate(-19 114.7 327.0)" fill="#3a3a3a" fill-opacity="0.22"/><ellipse cx="114.7" cy="327.0" rx="4.2" ry="1.3" transform="rotate(-19 114.7 327.0)" stroke="#d4d4d4" stroke-width="0.8" stroke-opacity="0.41"/><ellipse cx="127.7" cy="268.3" rx="2.5" ry="1.0" transform="rotate(25 127.7 268.3)" fill="#3a3a3a" fill-opacity="0.24"/><ellipse cx="127.7" cy="268.3" rx="3.3" ry="1.5" transform="rotate(25 127.7 268.3)" stroke="#d4d4d4" stroke-width="0.8" stroke-opacity="0.43"/><ellipse cx="97.0" cy="348.2" rx="4.4" ry="2.1" transform="rotate(19 97.0 348.2)" fill="#3a3a3a" fill-opacity="0.12"/><ellipse cx="97.0" cy="348.2" rx="5.9" ry="3.0" transform="rotate(19 97.0 348.2)" stroke="#d4d4d4" stroke-width="0.8" stroke-opacity="0.22"/><ellipse cx="128.8" cy="286.7" rx="3.6" ry="1.6" transform="rotate(20 128.8 286.7)" fill="#3a3a3a" fill-opacity="0.14"/><ellipse cx="128.8" cy="286.7" rx="4.8" ry="2.3" transform="rotate(20 128.8 286.7)" stroke="#d4d4d4" stroke-width="0.8" stroke-opacity="0.25"/><ellipse cx="107.4" cy="372.0" rx="2.3" ry="0.8" transform="rotate(-1 107.4 372.0)" fill="#3a3a3a" fill-opacity="0.14"/><ellipse cx="107.4" cy="372.0" rx="3.0" ry="1.2" transform="rotate(-1 107.4 372.0)" stroke="#d4d4d4" stroke-width="0.8" stroke-opacity="0.26"/><ellipse cx="120.3" cy="265.3" rx="2.2" ry="0.6" transform="rotate(-25 120.3 265.3)" fill="#3a3a3a" fill-opacity="0.12"/><ellipse cx="120.3" cy="265.3" rx="2.9" ry="0.9" transform="rotate(-25 120.3 265.3)" stroke="#d4d4d4" stroke-width="0.8" stroke-opacity="0.22"/><ellipse cx="118.4" cy="350.6" rx="4.2" ry="0.9" transform="rotate(0 118.4 350.6)" fill="#3a3a3a" fill-opacity="0.17"/><ellipse cx="118.4" cy="350.6" rx="5.6" ry="1.3" transform="rotate(0 118.4 350.6)" stroke="#d4d4d4" stroke-width="0.8" stroke-opacity="0.31"/><ellipse cx="119.4" cy="319.7" rx="4.3" ry="1.3" transform="rotate(-26 119.4 319.7)" fill="#3a3a3a" fill-opacity="0.24"/><ellipse cx="119.4" cy="319.7" rx="5.8" ry="1.8" transform="rotate(-26 119.4 319.7)" stroke="#d4d4d4" stroke-width="0.8" stroke-opacity="0.44"/><ellipse cx="101.9" cy="337.0" rx="3.2" ry="1.4" transform="rotate(9 101.9 337.0)" fill="#3a3a3a" fill-opacity="0.23"/><ellipse cx="101.9" cy="337.0" rx="4.3" ry="2.0" transform="rotate(9 101.9 337.0)" stroke="#d4d4d4" stroke-width="0.8" stroke-opacity="0.42"/><ellipse cx="106.3" cy="327.3" rx="2.5" ry="1.0" transform="rotate(6 106.3 327.3)" fill="#3a3a3a" fill-opacity="0.14"/><ellipse cx="106.3" cy="327.3" rx="3.4" ry="1.4" transform="rotate(6 106.3 327.3)" stroke="#d4d4d4" stroke-width="0.8" stroke-opacity="0.25"/><ellipse cx="105.1" cy="305.3" rx="3.8" ry="0.9" transform="rotate(20 105.1 305.3)" fill="#3a3a3a" fill-opacity="0.24"/><ellipse cx="105.1" cy="305.3" rx="5.1" ry="1.3" transform="rotate(20 105.1 305.3)" stroke="#d4d4d4" stroke-width="0.8" stroke-opacity="0.43"/><ellipse cx="99.3" cy="341.5" rx="2.1" ry="0.5" transform="rotate(12 99.3 341.5)" fill="#3a3a3a" fill-opacity="0.16"/><ellipse cx="99.3" cy="341.5" rx="2.8" ry="0.7" transform="rotate(12 99.3 341.5)" stroke="#d4d4d4" stroke-width="0.8" stroke-opacity="0.28"/><ellipse cx="130.2" cy="318.6" rx="2.7" ry="1.1" transform="rotate(-28 130.2 318.6)" fill="#3a3a3a" fill-opacity="0.25"/><ellipse cx="130.2" cy="318.6" rx="3.6" ry="1.6" transform="rotate(-28 130.2 318.6)" stroke="#d4d4d4" stroke-width="0.8" stroke-opacity="0.45"/><ellipse cx="98.1" cy="278.4" rx="4.4" ry="1.7" transform="rotate(-14 98.1 278.4)" fill="#3a3a3a" fill-opacity="0.13"/><ellipse cx="98.1" cy="278.4" rx="5.8" ry="2.4" transform="rotate(-14 98.1 278.4)" stroke="#d4d4d4" stroke-width="0.8" stroke-opacity="0.24"/><ellipse cx="133.9" cy="341.1" rx="4.0" ry="0.9" transform="rotate(14 133.9 341.1)" fill="#3a3a3a" fill-opacity="0.18"/><ellipse cx="133.9" cy="341.1" rx="5.4" ry="1.3" transform="rotate(14 133.9 341.1)" stroke="#d4d4d4" stroke-width="0.8" stroke-opacity="0.32"/></g>
<g clip-path="url(#cA3)" filter="url(#bl)" fill="none"><ellipse cx="168.1" cy="362.9" rx="2.6" ry="0.8" transform="rotate(0 168.1 362.9)" fill="#3a3a3a" fill-opacity="0.22"/><ellipse cx="168.1" cy="362.9" rx="3.5" ry="1.2" transform="rotate(0 168.1 362.9)" stroke="#d4d4d4" stroke-width="0.8" stroke-opacity="0.40"/><ellipse cx="152.6" cy="356.3" rx="2.3" ry="1.1" transform="rotate(49 152.6 356.3)" fill="#3a3a3a" fill-opacity="0.24"/><ellipse cx="152.6" cy="356.3" rx="3.1" ry="1.6" transform="rotate(49 152.6 356.3)" stroke="#d4d4d4" stroke-width="0.8" stroke-opacity="0.44"/><ellipse cx="165.0" cy="319.3" rx="2.7" ry="1.2" transform="rotate(35 165.0 319.3)" fill="#3a3a3a" fill-opacity="0.20"/><ellipse cx="165.0" cy="319.3" rx="3.6" ry="1.8" transform="rotate(35 165.0 319.3)" stroke="#d4d4d4" stroke-width="0.8" stroke-opacity="0.37"/><ellipse cx="168.6" cy="303.4" rx="3.3" ry="1.5" transform="rotate(152 168.6 303.4)" fill="#3a3a3a" fill-opacity="0.17"/><ellipse cx="168.6" cy="303.4" rx="4.4" ry="2.2" transform="rotate(152 168.6 303.4)" stroke="#d4d4d4" stroke-width="0.8" stroke-opacity="0.30"/><ellipse cx="134.5" cy="360.6" rx="3.3" ry="1.3" transform="rotate(17 134.5 360.6)" fill="#3a3a3a" fill-opacity="0.14"/><ellipse cx="134.5" cy="360.6" rx="4.4" ry="1.8" transform="rotate(17 134.5 360.6)" stroke="#d4d4d4" stroke-width="0.8" stroke-opacity="0.26"/><ellipse cx="160.5" cy="306.2" rx="3.6" ry="1.5" transform="rotate(36 160.5 306.2)" fill="#3a3a3a" fill-opacity="0.22"/><ellipse cx="160.5" cy="306.2" rx="4.9" ry="2.2" transform="rotate(36 160.5 306.2)" stroke="#d4d4d4" stroke-width="0.8" stroke-opacity="0.40"/><ellipse cx="147.3" cy="374.8" rx="3.5" ry="1.4" transform="rotate(116 147.3 374.8)" fill="#3a3a3a" fill-opacity="0.23"/><ellipse cx="147.3" cy="374.8" rx="4.7" ry="2.0" transform="rotate(116 147.3 374.8)" stroke="#d4d4d4" stroke-width="0.8" stroke-opacity="0.41"/><ellipse cx="168.7" cy="379.5" rx="1.6" ry="0.5" transform="rotate(108 168.7 379.5)" fill="#3a3a3a" fill-opacity="0.16"/><ellipse cx="168.7" cy="379.5" rx="2.1" ry="0.8" transform="rotate(108 168.7 379.5)" stroke="#d4d4d4" stroke-width="0.8" stroke-opacity="0.29"/><ellipse cx="158.3" cy="284.6" rx="3.5" ry="1.4" transform="rotate(21 158.3 284.6)" fill="#3a3a3a" fill-opacity="0.22"/><ellipse cx="158.3" cy="284.6" rx="4.6" ry="2.0" transform="rotate(21 158.3 284.6)" stroke="#d4d4d4" stroke-width="0.8" stroke-opacity="0.40"/><ellipse cx="145.0" cy="296.0" rx="2.6" ry="0.7" transform="rotate(38 145.0 296.0)" fill="#3a3a3a" fill-opacity="0.25"/><ellipse cx="145.0" cy="296.0" rx="3.5" ry="1.0" transform="rotate(38 145.0 296.0)" stroke="#d4d4d4" stroke-width="0.8" stroke-opacity="0.46"/><ellipse cx="163.5" cy="276.3" rx="3.3" ry="0.8" transform="rotate(60 163.5 276.3)" fill="#3a3a3a" fill-opacity="0.26"/><ellipse cx="163.5" cy="276.3" rx="4.3" ry="1.1" transform="rotate(60 163.5 276.3)" stroke="#d4d4d4" stroke-width="0.8" stroke-opacity="0.47"/><ellipse cx="159.8" cy="307.8" rx="2.3" ry="0.8" transform="rotate(23 159.8 307.8)" fill="#3a3a3a" fill-opacity="0.27"/><ellipse cx="159.8" cy="307.8" rx="3.1" ry="1.2" transform="rotate(23 159.8 307.8)" stroke="#d4d4d4" stroke-width="0.8" stroke-opacity="0.50"/><ellipse cx="132.6" cy="320.2" rx="3.2" ry="1.2" transform="rotate(177 132.6 320.2)" fill="#3a3a3a" fill-opacity="0.15"/><ellipse cx="132.6" cy="320.2" rx="4.2" ry="1.6" transform="rotate(177 132.6 320.2)" stroke="#d4d4d4" stroke-width="0.8" stroke-opacity="0.27"/><ellipse cx="177.0" cy="370.5" rx="3.0" ry="1.6" transform="rotate(80 177.0 370.5)" fill="#3a3a3a" fill-opacity="0.25"/><ellipse cx="177.0" cy="370.5" rx="4.0" ry="2.3" transform="rotate(80 177.0 370.5)" stroke="#d4d4d4" stroke-width="0.8" stroke-opacity="0.45"/><ellipse cx="168.2" cy="330.3" rx="2.6" ry="1.2" transform="rotate(74 168.2 330.3)" fill="#3a3a3a" fill-opacity="0.12"/><ellipse cx="168.2" cy="330.3" rx="3.4" ry="1.7" transform="rotate(74 168.2 330.3)" stroke="#d4d4d4" stroke-width="0.8" stroke-opacity="0.23"/><ellipse cx="165.8" cy="303.4" rx="2.6" ry="1.3" transform="rotate(31 165.8 303.4)" fill="#3a3a3a" fill-opacity="0.11"/><ellipse cx="165.8" cy="303.4" rx="3.5" ry="1.8" transform="rotate(31 165.8 303.4)" stroke="#d4d4d4" stroke-width="0.8" stroke-opacity="0.21"/><ellipse cx="135.9" cy="338.1" rx="2.3" ry="0.7" transform="rotate(81 135.9 338.1)" fill="#3a3a3a" fill-opacity="0.26"/><ellipse cx="135.9" cy="338.1" rx="3.1" ry="1.0" transform="rotate(81 135.9 338.1)" stroke="#d4d4d4" stroke-width="0.8" stroke-opacity="0.48"/><ellipse cx="142.2" cy="318.9" rx="3.5" ry="1.5" transform="rotate(48 142.2 318.9)" fill="#3a3a3a" fill-opacity="0.19"/><ellipse cx="142.2" cy="318.9" rx="4.6" ry="2.2" transform="rotate(48 142.2 318.9)" stroke="#d4d4d4" stroke-width="0.8" stroke-opacity="0.34"/><ellipse cx="153.0" cy="290.2" rx="2.3" ry="0.8" transform="rotate(145 153.0 290.2)" fill="#3a3a3a" fill-opacity="0.16"/><ellipse cx="153.0" cy="290.2" rx="3.1" ry="1.1" transform="rotate(145 153.0 290.2)" stroke="#d4d4d4" stroke-width="0.8" stroke-opacity="0.30"/><ellipse cx="161.6" cy="378.9" rx="3.6" ry="1.3" transform="rotate(109 161.6 378.9)" fill="#3a3a3a" fill-opacity="0.16"/><ellipse cx="161.6" cy="378.9" rx="4.8" ry="1.8" transform="rotate(109 161.6 378.9)" stroke="#d4d4d4" stroke-width="0.8" stroke-opacity="0.30"/><ellipse cx="149.1" cy="327.2" rx="3.3" ry="1.8" transform="rotate(52 149.1 327.2)" fill="#3a3a3a" fill-opacity="0.11"/><ellipse cx="149.1" cy="327.2" rx="4.4" ry="2.5" transform="rotate(52 149.1 327.2)" stroke="#d4d4d4" stroke-width="0.8" stroke-opacity="0.20"/><ellipse cx="151.6" cy="281.1" rx="1.6" ry="0.8" transform="rotate(20 151.6 281.1)" fill="#3a3a3a" fill-opacity="0.23"/><ellipse cx="151.6" cy="281.1" rx="2.1" ry="1.1" transform="rotate(20 151.6 281.1)" stroke="#d4d4d4" stroke-width="0.8" stroke-opacity="0.42"/><ellipse cx="147.4" cy="375.4" rx="3.4" ry="0.9" transform="rotate(35 147.4 375.4)" fill="#3a3a3a" fill-opacity="0.27"/><ellipse cx="147.4" cy="375.4" rx="4.6" ry="1.2" transform="rotate(35 147.4 375.4)" stroke="#d4d4d4" stroke-width="0.8" stroke-opacity="0.48"/><ellipse cx="159.4" cy="320.2" rx="3.3" ry="1.6" transform="rotate(89 159.4 320.2)" fill="#3a3a3a" fill-opacity="0.19"/><ellipse cx="159.4" cy="320.2" rx="4.3" ry="2.3" transform="rotate(89 159.4 320.2)" stroke="#d4d4d4" stroke-width="0.8" stroke-opacity="0.34"/><ellipse cx="134.8" cy="313.7" rx="1.8" ry="0.8" transform="rotate(109 134.8 313.7)" fill="#3a3a3a" fill-opacity="0.13"/><ellipse cx="134.8" cy="313.7" rx="2.4" ry="1.1" transform="rotate(109 134.8 313.7)" stroke="#d4d4d4" stroke-width="0.8" stroke-opacity="0.24"/><ellipse cx="160.1" cy="285.4" rx="1.7" ry="0.8" transform="rotate(83 160.1 285.4)" fill="#3a3a3a" fill-opacity="0.26"/><ellipse cx="160.1" cy="285.4" rx="2.3" ry="1.1" transform="rotate(83 160.1 285.4)" stroke="#d4d4d4" stroke-width="0.8" stroke-opacity="0.47"/><ellipse cx="160.2" cy="350.0" rx="1.8" ry="0.9" transform="rotate(15 160.2 350.0)" fill="#3a3a3a" fill-opacity="0.21"/><ellipse cx="160.2" cy="350.0" rx="2.4" ry="1.3" transform="rotate(15 160.2 350.0)" stroke="#d4d4d4" stroke-width="0.8" stroke-opacity="0.39"/><ellipse cx="173.7" cy="372.1" rx="3.5" ry="1.3" transform="rotate(125 173.7 372.1)" fill="#3a3a3a" fill-opacity="0.24"/><ellipse cx="173.7" cy="372.1" rx="4.7" ry="1.9" transform="rotate(125 173.7 372.1)" stroke="#d4d4d4" stroke-width="0.8" stroke-opacity="0.44"/><ellipse cx="136.6" cy="375.9" rx="3.5" ry="1.3" transform="rotate(140 136.6 375.9)" fill="#3a3a3a" fill-opacity="0.18"/><ellipse cx="136.6" cy="375.9" rx="4.7" ry="1.9" transform="rotate(140 136.6 375.9)" stroke="#d4d4d4" stroke-width="0.8" stroke-opacity="0.33"/><ellipse cx="143.3" cy="351.2" rx="1.6" ry="0.8" transform="rotate(176 143.3 351.2)" fill="#3a3a3a" fill-opacity="0.16"/><ellipse cx="143.3" cy="351.2" rx="2.2" ry="1.2" transform="rotate(176 143.3 351.2)" stroke="#d4d4d4" stroke-width="0.8" stroke-opacity="0.29"/><ellipse cx="175.1" cy="284.0" rx="3.4" ry="1.1" transform="rotate(174 175.1 284.0)" fill="#3a3a3a" fill-opacity="0.18"/><ellipse cx="175.1" cy="284.0" rx="4.6" ry="1.6" transform="rotate(174 175.1 284.0)" stroke="#d4d4d4" stroke-width="0.8" stroke-opacity="0.33"/><ellipse cx="174.3" cy="278.4" rx="1.7" ry="0.8" transform="rotate(115 174.3 278.4)" fill="#3a3a3a" fill-opacity="0.20"/><ellipse cx="174.3" cy="278.4" rx="2.3" ry="1.2" transform="rotate(115 174.3 278.4)" stroke="#d4d4d4" stroke-width="0.8" stroke-opacity="0.36"/><ellipse cx="131.6" cy="293.5" rx="2.3" ry="0.6" transform="rotate(179 131.6 293.5)" fill="#3a3a3a" fill-opacity="0.24"/><ellipse cx="131.6" cy="293.5" rx="3.1" ry="0.8" transform="rotate(179 131.6 293.5)" stroke="#d4d4d4" stroke-width="0.8" stroke-opacity="0.43"/><ellipse cx="175.6" cy="350.0" rx="2.3" ry="0.6" transform="rotate(132 175.6 350.0)" fill="#3a3a3a" fill-opacity="0.13"/><ellipse cx="175.6" cy="350.0" rx="3.0" ry="0.8" transform="rotate(132 175.6 350.0)" stroke="#d4d4d4" stroke-width="0.8" stroke-opacity="0.23"/></g>
<g clip-path="url(#cA1)" filter="url(#bl2)"><circle cx="111" cy="49" r="2.2" fill="#f4f4f4" fill-opacity="0.8"/><circle cx="105.5" cy="60" r="2" fill="#f4f4f4" fill-opacity="0.6"/><circle cx="106.6" cy="75" r="2.2" fill="#f4f4f4" fill-opacity="0.7"/><circle cx="100" cy="93" r="2.2" fill="#f4f4f4" fill-opacity="0.8"/><circle cx="99" cy="66" r="2" fill="#f4f4f4" fill-opacity="0.5"/><circle cx="103" cy="102" r="1.8" fill="#f4f4f4" fill-opacity="0.5"/><circle cx="103" cy="110" r="1.8" fill="#f4f4f4" fill-opacity="0.5"/><circle cx="98" cy="20" r="1.5" fill="#f4f4f4" fill-opacity="0.4"/><circle cx="238.3" cy="89.6" r="1.8" fill="#f4f4f4" fill-opacity="0.3"/></g>
<g clip-path="url(#cA2)" filter="url(#bl2)"><circle cx="120" cy="190.5" r="2.4" fill="#f4f4f4" fill-opacity="0.9"/><circle cx="127" cy="246" r="1.6" fill="#f4f4f4" fill-opacity="0.5"/><circle cx="166" cy="172" r="1.5" fill="#f4f4f4" fill-opacity="0.4"/><circle cx="174" cy="197" r="1.5" fill="#f4f4f4" fill-opacity="0.35"/><circle cx="214" cy="244" r="2" fill="#f4f4f4" fill-opacity="0.3"/><circle cx="186" cy="191" r="2.2" fill="#f4f4f4" fill-opacity="0.25"/></g>
<g clip-path="url(#cA3)" filter="url(#bl2)"><circle cx="146.4" cy="274.1" r="1.7" fill="#f4f4f4" fill-opacity="0.9"/><circle cx="150" cy="305" r="1.6" fill="#f4f4f4" fill-opacity="0.45"/><circle cx="215" cy="293" r="1" fill="#f4f4f4" fill-opacity="0.5"/><circle cx="117" cy="293" r="1.6" fill="#f4f4f4" fill-opacity="0.5"/><circle cx="155" cy="325" r="1.8" fill="#f4f4f4" fill-opacity="0.5"/><circle cx="120" cy="349" r="1.5" fill="#f4f4f4" fill-opacity="0.6"/><circle cx="152" cy="355" r="1.7" fill="#f4f4f4" fill-opacity="0.7"/><circle cx="155" cy="361.5" r="1.6" fill="#f4f4f4" fill-opacity="0.7"/><circle cx="130" cy="373" r="1.6" fill="#f4f4f4" fill-opacity="0.5"/></g>
<g filter="url(#bl3)" fill="none"><circle cx="214" cy="159" r="10.5" stroke="#909090" stroke-width="3.2" opacity="0.55"/><circle cx="214" cy="159" r="5" stroke="#5e5e5e" stroke-width="2.5" opacity="0.45"/><circle cx="186" cy="192" r="6.5" stroke="#8c8c8c" stroke-width="2.5" opacity="0.4"/><circle cx="213.5" cy="245" r="3.5" stroke="#8c8c8c" stroke-width="2" opacity="0.4"/></g>
<rect x="95.5" y="131" width="147.8" height="1" fill="#f6f6f6"/>
<rect x="95.5" y="258" width="147.8" height="1" fill="#f6f6f6"/>
<rect x="95.5" y="7.2" width="1" height="376.4" fill="#505050" opacity="0.5"/>
<path d="M125.4 7.2 Q112.5 50 111.6 88 Q112.5 112 119.3 131" fill="none" stroke="#1e1e16" stroke-width="2.5" opacity="0.6"/>
<path d="M125.4 7.2 Q112.5 50 111.6 88 Q112.5 112 119.3 131" fill="none" stroke="#fdfcda" stroke-width="1.6" stroke-dasharray="1.5 1.2"/>
<path d="M144.6 132 Q133 165 133.6 195 Q134.5 228 143.2 257.8" fill="none" stroke="#1e1e16" stroke-width="2.5" opacity="0.6"/>
<path d="M144.6 132 Q133 165 133.6 195 Q134.5 228 143.2 257.8" fill="none" stroke="#fdfcda" stroke-width="1.6" stroke-dasharray="1.5 1.2"/>
<path d="M132 258.8 Q125.6 290 126.5 310 Q128.5 352 144.2 383.6" fill="none" stroke="#1e1e16" stroke-width="2.5" opacity="0.6"/>
<path d="M132 258.8 Q125.6 290 126.5 310 Q128.5 352 144.2 383.6" fill="none" stroke="#fdfcda" stroke-width="1.6" stroke-dasharray="1.5 1.2"/>
<text x="85.2" y="74.4" font-size="11.6" font-weight="bold" text-anchor="middle" fill="#000"  textLength="33.0" lengthAdjust="spacingAndGlyphs" transform="rotate(-90 85.2 74.4)">Control</text>
<text x="86.3" y="194.5" font-size="11.6" font-weight="bold" text-anchor="middle" fill="#000"  textLength="56.6" lengthAdjust="spacingAndGlyphs" transform="rotate(-90 86.3 194.5)">iWJ-MSC-EV</text>
<text x="73.5" y="324.7" font-size="11.6" font-weight="bold" text-anchor="middle" fill="#000"  textLength="55.5" lengthAdjust="spacingAndGlyphs" transform="rotate(-90 73.5 324.7)">iWJ-MSC-EV</text>
<text x="86.3" y="324.5" font-size="11.6" font-weight="bold" text-anchor="middle" fill="#000"  textLength="38.0" lengthAdjust="spacingAndGlyphs" transform="rotate(-90 86.3 324.5)">PNGase-F</text>
<rect x="378.4" y="173.9" width="36.2" height="83.3" fill="#9cc3f7" stroke="#47648c" stroke-width="0.9"/>
<rect x="432.8" y="190.5" width="36.2" height="66.7" fill="#f7aee6" stroke="#7a4a72" stroke-width="0.9"/>
<path d="M360.1 107.95 V257.2 H487.8" fill="none" stroke="#000" stroke-width="1.5"/>
<path d="M353.8 257.2 H360.1" stroke="#000" stroke-width="1.40"/>
<text x="352.9" y="260.6" font-size="9.8" font-weight="bold" text-anchor="end" fill="#000" >0.0</text>
<path d="M353.8 227.5 H360.1" stroke="#000" stroke-width="1.40"/>
<text x="352.9" y="230.9" font-size="9.8" font-weight="bold" text-anchor="end" fill="#000" >0.5</text>
<path d="M353.8 197.8 H360.1" stroke="#000" stroke-width="1.40"/>
<text x="352.9" y="201.2" font-size="9.8" font-weight="bold" text-anchor="end" fill="#000" >1.0</text>
<path d="M353.8 168.1 H360.1" stroke="#000" stroke-width="1.40"/>
<text x="352.9" y="171.5" font-size="9.8" font-weight="bold" text-anchor="end" fill="#000" >1.5</text>
<path d="M353.8 138.4 H360.1" stroke="#000" stroke-width="1.40"/>
<text x="352.9" y="141.8" font-size="9.8" font-weight="bold" text-anchor="end" fill="#000" >2.0</text>
<path d="M353.8 108.7 H360.1" stroke="#000" stroke-width="1.40"/>
<text x="352.9" y="112.1" font-size="9.8" font-weight="bold" text-anchor="end" fill="#000" >2.5</text>
<path d="M396.0 146.2 V200.9 M387.4 146.2 H404.6 M387.4 200.9 H404.6" stroke="#3c3c3c" stroke-width="0.85" fill="none"/>
<path d="M450.6 164.5 V215.8 M441.6 164.5 H459.6 M441.6 215.8 H459.6" stroke="#3c3c3c" stroke-width="0.85" fill="none"/>
<rect x="394.1" y="118.4" width="3.85" height="3.85" fill="#0f7ef0" stroke="#0a2258" stroke-width="0.9"/>
<rect x="394.1" y="123.4" width="3.85" height="3.85" fill="#0f7ef0" stroke="#0a2258" stroke-width="0.9"/>
<rect x="394.1" y="132.5" width="3.85" height="3.85" fill="#0f7ef0" stroke="#0a2258" stroke-width="0.9"/>
<rect x="382.3" y="142.1" width="3.85" height="3.85" fill="#0f7ef0" stroke="#0a2258" stroke-width="0.9"/>
<rect x="390.4" y="141.2" width="3.85" height="3.85" fill="#0f7ef0" stroke="#0a2258" stroke-width="0.9"/>
<rect x="398.3" y="142.1" width="3.85" height="3.85" fill="#0f7ef0" stroke="#0a2258" stroke-width="0.9"/>
<rect x="406.1" y="142.1" width="3.85" height="3.85" fill="#0f7ef0" stroke="#0a2258" stroke-width="0.9"/>
<rect x="386.2" y="168.7" width="3.85" height="3.85" fill="#0f7ef0" stroke="#0a2258" stroke-width="0.9"/>
<rect x="394.1" y="169.7" width="3.85" height="3.85" fill="#0f7ef0" stroke="#0a2258" stroke-width="0.9"/>
<rect x="386.2" y="173.1" width="3.85" height="3.85" fill="#0f7ef0" stroke="#0a2258" stroke-width="0.9"/>
<rect x="402.4" y="172.9" width="3.85" height="3.85" fill="#0f7ef0" stroke="#0a2258" stroke-width="0.9"/>
<rect x="378.1" y="174.9" width="3.85" height="3.85" fill="#0f7ef0" stroke="#0a2258" stroke-width="0.9"/>
<rect x="394.1" y="178.0" width="3.85" height="3.85" fill="#0f7ef0" stroke="#0a2258" stroke-width="0.9"/>
<rect x="410.3" y="178.2" width="3.85" height="3.85" fill="#0f7ef0" stroke="#0a2258" stroke-width="0.9"/>
<rect x="386.2" y="180.3" width="3.85" height="3.85" fill="#0f7ef0" stroke="#0a2258" stroke-width="0.9"/>
<rect x="402.4" y="180.3" width="3.85" height="3.85" fill="#0f7ef0" stroke="#0a2258" stroke-width="0.9"/>
<rect x="378.1" y="181.8" width="3.85" height="3.85" fill="#0f7ef0" stroke="#0a2258" stroke-width="0.9"/>
<rect x="386.2" y="183.0" width="3.85" height="3.85" fill="#0f7ef0" stroke="#0a2258" stroke-width="0.9"/>
<rect x="394.1" y="183.2" width="3.85" height="3.85" fill="#0f7ef0" stroke="#0a2258" stroke-width="0.9"/>
<rect x="386.2" y="185.5" width="3.85" height="3.85" fill="#0f7ef0" stroke="#0a2258" stroke-width="0.9"/>
<rect x="394.1" y="188.4" width="3.85" height="3.85" fill="#0f7ef0" stroke="#0a2258" stroke-width="0.9"/>
<rect x="386.2" y="199.6" width="3.85" height="3.85" fill="#0f7ef0" stroke="#0a2258" stroke-width="0.9"/>
<rect x="394.1" y="202.5" width="3.85" height="3.85" fill="#0f7ef0" stroke="#0a2258" stroke-width="0.9"/>
<rect x="394.1" y="206.7" width="3.85" height="3.85" fill="#0f7ef0" stroke="#0a2258" stroke-width="0.9"/>
<rect x="398.3" y="213.1" width="3.85" height="3.85" fill="#0f7ef0" stroke="#0a2258" stroke-width="0.9"/>
<rect x="390.4" y="216.4" width="3.85" height="3.85" fill="#0f7ef0" stroke="#0a2258" stroke-width="0.9"/>
<path d="M442.7 132.5 L445.0 136.7 L440.4 136.7 Z" fill="#cc1fca" stroke="#3e083e" stroke-width="0.85" stroke-linejoin="miter"/>
<path d="M450.6 133.6 L452.9 137.8 L448.3 137.8 Z" fill="#cc1fca" stroke="#3e083e" stroke-width="0.85" stroke-linejoin="miter"/>
<path d="M450.6 160.5 L452.9 164.7 L448.3 164.7 Z" fill="#cc1fca" stroke="#3e083e" stroke-width="0.85" stroke-linejoin="miter"/>
<path d="M450.6 164.8 L452.9 169.0 L448.3 169.0 Z" fill="#cc1fca" stroke="#3e083e" stroke-width="0.85" stroke-linejoin="miter"/>
<path d="M446.4 183.4 L448.7 187.6 L444.1 187.6 Z" fill="#cc1fca" stroke="#3e083e" stroke-width="0.85" stroke-linejoin="miter"/>
<path d="M454.5 183.0 L456.8 187.2 L452.2 187.2 Z" fill="#cc1fca" stroke="#3e083e" stroke-width="0.85" stroke-linejoin="miter"/>
<path d="M442.7 189.3 L445.0 193.5 L440.4 193.5 Z" fill="#cc1fca" stroke="#3e083e" stroke-width="0.85" stroke-linejoin="miter"/>
<path d="M450.6 188.4 L452.9 192.6 L448.3 192.6 Z" fill="#cc1fca" stroke="#3e083e" stroke-width="0.85" stroke-linejoin="miter"/>
<path d="M458.7 187.6 L461.0 191.8 L456.4 191.8 Z" fill="#cc1fca" stroke="#3e083e" stroke-width="0.85" stroke-linejoin="miter"/>
<path d="M450.6 195.3 L452.9 199.5 L448.3 199.5 Z" fill="#cc1fca" stroke="#3e083e" stroke-width="0.85" stroke-linejoin="miter"/>
<path d="M450.6 201.1 L452.9 205.3 L448.3 205.3 Z" fill="#cc1fca" stroke="#3e083e" stroke-width="0.85" stroke-linejoin="miter"/>
<path d="M458.7 200.5 L461.0 204.7 L456.4 204.7 Z" fill="#cc1fca" stroke="#3e083e" stroke-width="0.85" stroke-linejoin="miter"/>
<path d="M450.6 206.7 L452.9 210.9 L448.3 210.9 Z" fill="#cc1fca" stroke="#3e083e" stroke-width="0.85" stroke-linejoin="miter"/>
<path d="M458.7 205.2 L461.0 209.4 L456.4 209.4 Z" fill="#cc1fca" stroke="#3e083e" stroke-width="0.85" stroke-linejoin="miter"/>
<path d="M442.7 208.3 L445.0 212.5 L440.4 212.5 Z" fill="#cc1fca" stroke="#3e083e" stroke-width="0.85" stroke-linejoin="miter"/>
<path d="M458.7 210.8 L461.0 215.0 L456.4 215.0 Z" fill="#cc1fca" stroke="#3e083e" stroke-width="0.85" stroke-linejoin="miter"/>
<path d="M450.6 214.0 L452.9 218.2 L448.3 218.2 Z" fill="#cc1fca" stroke="#3e083e" stroke-width="0.85" stroke-linejoin="miter"/>
<path d="M450.6 223.9 L452.9 228.1 L448.3 228.1 Z" fill="#cc1fca" stroke="#3e083e" stroke-width="0.85" stroke-linejoin="miter"/>
<path d="M396.0 112.0 V104.3 H450.6 V127.0" fill="none" stroke="#000" stroke-width="1.5"/>
<path d="M424.00 91.05 L424.00 98.75 M420.67 92.98 L427.33 96.83 M420.67 96.83 L427.33 92.98" stroke="#000" stroke-width="1.65" fill="none"/>
<text x="423.7" y="85.7" font-size="13.2" font-weight="bold" text-anchor="middle" fill="#000"  textLength="64.3" lengthAdjust="spacingAndGlyphs">Distance</text>
<text x="330.3" y="181.7" font-size="10.8" font-weight="bold" text-anchor="middle" fill="#000"  textLength="164.8" lengthAdjust="spacingAndGlyphs" transform="rotate(-90 330.3 181.7)">Migration normalized to control</text>
<text x="331.4" y="281.9" font-size="11" font-weight="bold" text-anchor="middle" fill="#000"  textLength="52.8" lengthAdjust="spacingAndGlyphs">PNGase-F</text>
<path d="M392.9 277.9 H399.6" stroke="#000" stroke-width="1.5"/>
<path d="M448.1 277.9 H454.3 M451.2 274.8 V281" stroke="#000" stroke-width="1.5"/>
<rect x="561.1" y="171.4" width="35.3" height="86.5" fill="#9cc3f7" stroke="#47648c" stroke-width="0.9"/>
<rect x="614.4" y="184.7" width="35.5" height="73.2" fill="#f7aee6" stroke="#7a4a72" stroke-width="0.9"/>
<path d="M543.1 108.65 V257.9 H668.8" fill="none" stroke="#000" stroke-width="1.5"/>
<path d="M536.8000000000001 257.9 H543.1" stroke="#000" stroke-width="1.40"/>
<text x="535.9" y="261.3" font-size="9.8" font-weight="bold" text-anchor="end" fill="#000" >0.0</text>
<path d="M536.8000000000001 228.2 H543.1" stroke="#000" stroke-width="1.40"/>
<text x="535.9" y="231.6" font-size="9.8" font-weight="bold" text-anchor="end" fill="#000" >0.5</text>
<path d="M536.8000000000001 198.5 H543.1" stroke="#000" stroke-width="1.40"/>
<text x="535.9" y="201.9" font-size="9.8" font-weight="bold" text-anchor="end" fill="#000" >1.0</text>
<path d="M536.8000000000001 168.8 H543.1" stroke="#000" stroke-width="1.40"/>
<text x="535.9" y="172.2" font-size="9.8" font-weight="bold" text-anchor="end" fill="#000" >1.5</text>
<path d="M536.8000000000001 139.1 H543.1" stroke="#000" stroke-width="1.40"/>
<text x="535.9" y="142.5" font-size="9.8" font-weight="bold" text-anchor="end" fill="#000" >2.0</text>
<path d="M536.8000000000001 109.4 H543.1" stroke="#000" stroke-width="1.40"/>
<text x="535.9" y="112.8" font-size="9.8" font-weight="bold" text-anchor="end" fill="#000" >2.5</text>
<path d="M578.6 154.1 V188.4 M570.0 154.1 H587.2 M570.0 188.4 H587.2" stroke="#3c3c3c" stroke-width="0.85" fill="none"/>
<path d="M632.2 171.8 V197.5 M623.4 171.8 H641.0 M623.4 197.5 H641.0" stroke="#3c3c3c" stroke-width="0.85" fill="none"/>
<rect x="576.2" y="132.9" width="3.85" height="3.85" fill="#0f7ef0" stroke="#0a2258" stroke-width="0.9"/>
<rect x="573.3" y="141.0" width="3.85" height="3.85" fill="#0f7ef0" stroke="#0a2258" stroke-width="0.9"/>
<rect x="579.8" y="143.3" width="3.85" height="3.85" fill="#0f7ef0" stroke="#0a2258" stroke-width="0.9"/>
<rect x="573.3" y="151.8" width="3.85" height="3.85" fill="#0f7ef0" stroke="#0a2258" stroke-width="0.9"/>
<rect x="579.8" y="153.3" width="3.85" height="3.85" fill="#0f7ef0" stroke="#0a2258" stroke-width="0.9"/>
<rect x="573.3" y="157.0" width="3.85" height="3.85" fill="#0f7ef0" stroke="#0a2258" stroke-width="0.9"/>
<rect x="579.8" y="157.8" width="3.85" height="3.85" fill="#0f7ef0" stroke="#0a2258" stroke-width="0.9"/>
<rect x="566.9" y="164.1" width="3.85" height="3.85" fill="#0f7ef0" stroke="#0a2258" stroke-width="0.9"/>
<rect x="560.5" y="166.1" width="3.85" height="3.85" fill="#0f7ef0" stroke="#0a2258" stroke-width="0.9"/>
<rect x="573.3" y="166.3" width="3.85" height="3.85" fill="#0f7ef0" stroke="#0a2258" stroke-width="0.9"/>
<rect x="579.8" y="165.3" width="3.85" height="3.85" fill="#0f7ef0" stroke="#0a2258" stroke-width="0.9"/>
<rect x="586.2" y="167.4" width="3.85" height="3.85" fill="#0f7ef0" stroke="#0a2258" stroke-width="0.9"/>
<rect x="592.4" y="166.1" width="3.85" height="3.85" fill="#0f7ef0" stroke="#0a2258" stroke-width="0.9"/>
<rect x="573.3" y="173.4" width="3.85" height="3.85" fill="#0f7ef0" stroke="#0a2258" stroke-width="0.9"/>
<rect x="586.2" y="174.0" width="3.85" height="3.85" fill="#0f7ef0" stroke="#0a2258" stroke-width="0.9"/>
<rect x="566.9" y="175.1" width="3.85" height="3.85" fill="#0f7ef0" stroke="#0a2258" stroke-width="0.9"/>
<rect x="579.8" y="176.1" width="3.85" height="3.85" fill="#0f7ef0" stroke="#0a2258" stroke-width="0.9"/>
<rect x="586.2" y="177.1" width="3.85" height="3.85" fill="#0f7ef0" stroke="#0a2258" stroke-width="0.9"/>
<rect x="579.8" y="179.2" width="3.85" height="3.85" fill="#0f7ef0" stroke="#0a2258" stroke-width="0.9"/>
<rect x="573.3" y="182.3" width="3.85" height="3.85" fill="#0f7ef0" stroke="#0a2258" stroke-width="0.9"/>
<rect x="586.2" y="182.7" width="3.85" height="3.85" fill="#0f7ef0" stroke="#0a2258" stroke-width="0.9"/>
<rect x="579.8" y="186.5" width="3.85" height="3.85" fill="#0f7ef0" stroke="#0a2258" stroke-width="0.9"/>
<rect x="576.2" y="192.7" width="3.85" height="3.85" fill="#0f7ef0" stroke="#0a2258" stroke-width="0.9"/>
<rect x="579.8" y="199.7" width="3.85" height="3.85" fill="#0f7ef0" stroke="#0a2258" stroke-width="0.9"/>
<rect x="573.3" y="202.6" width="3.85" height="3.85" fill="#0f7ef0" stroke="#0a2258" stroke-width="0.9"/>
<path d="M629.6 155.4 L631.9 159.6 L627.3 159.6 Z" fill="#cc1fca" stroke="#3e083e" stroke-width="0.85" stroke-linejoin="miter"/>
<path d="M634.8 155.4 L637.1 159.6 L632.5 159.6 Z" fill="#cc1fca" stroke="#3e083e" stroke-width="0.85" stroke-linejoin="miter"/>
<path d="M632.1 166.4 L634.4 170.6 L629.8 170.6 Z" fill="#cc1fca" stroke="#3e083e" stroke-width="0.85" stroke-linejoin="miter"/>
<path d="M621.9 174.2 L624.2 178.4 L619.6 178.4 Z" fill="#cc1fca" stroke="#3e083e" stroke-width="0.85" stroke-linejoin="miter"/>
<path d="M627.1 172.6 L629.4 176.8 L624.8 176.8 Z" fill="#cc1fca" stroke="#3e083e" stroke-width="0.85" stroke-linejoin="miter"/>
<path d="M647.6 176.1 L649.9 180.3 L645.3 180.3 Z" fill="#cc1fca" stroke="#3e083e" stroke-width="0.85" stroke-linejoin="miter"/>
<path d="M617.1 180.9 L619.4 185.1 L614.8 185.1 Z" fill="#cc1fca" stroke="#3e083e" stroke-width="0.85" stroke-linejoin="miter"/>
<path d="M621.9 180.3 L624.2 184.5 L619.6 184.5 Z" fill="#cc1fca" stroke="#3e083e" stroke-width="0.85" stroke-linejoin="miter"/>
<path d="M627.1 178.8 L629.4 183.0 L624.8 183.0 Z" fill="#cc1fca" stroke="#3e083e" stroke-width="0.85" stroke-linejoin="miter"/>
<path d="M632.1 182.9 L634.4 187.1 L629.8 187.1 Z" fill="#cc1fca" stroke="#3e083e" stroke-width="0.85" stroke-linejoin="miter"/>
<path d="M637.3 181.9 L639.6 186.1 L635.0 186.1 Z" fill="#cc1fca" stroke="#3e083e" stroke-width="0.85" stroke-linejoin="miter"/>
<path d="M642.4 183.6 L644.7 187.8 L640.1 187.8 Z" fill="#cc1fca" stroke="#3e083e" stroke-width="0.85" stroke-linejoin="miter"/>
<path d="M647.6 182.3 L649.9 186.5 L645.3 186.5 Z" fill="#cc1fca" stroke="#3e083e" stroke-width="0.85" stroke-linejoin="miter"/>
<path d="M627.1 185.4 L629.4 189.6 L624.8 189.6 Z" fill="#cc1fca" stroke="#3e083e" stroke-width="0.85" stroke-linejoin="miter"/>
<path d="M637.3 187.1 L639.6 191.3 L635.0 191.3 Z" fill="#cc1fca" stroke="#3e083e" stroke-width="0.85" stroke-linejoin="miter"/>
<path d="M621.9 189.2 L624.2 193.4 L619.6 193.4 Z" fill="#cc1fca" stroke="#3e083e" stroke-width="0.85" stroke-linejoin="miter"/>
<path d="M627.1 190.6 L629.4 194.8 L624.8 194.8 Z" fill="#cc1fca" stroke="#3e083e" stroke-width="0.85" stroke-linejoin="miter"/>
<path d="M642.4 190.2 L644.7 194.4 L640.1 194.4 Z" fill="#cc1fca" stroke="#3e083e" stroke-width="0.85" stroke-linejoin="miter"/>
<path d="M632.1 194.4 L634.4 198.6 L629.8 198.6 Z" fill="#cc1fca" stroke="#3e083e" stroke-width="0.85" stroke-linejoin="miter"/>
<path d="M637.3 194.8 L639.6 199.0 L635.0 199.0 Z" fill="#cc1fca" stroke="#3e083e" stroke-width="0.85" stroke-linejoin="miter"/>
<path d="M627.1 199.1 L629.4 203.3 L624.8 203.3 Z" fill="#cc1fca" stroke="#3e083e" stroke-width="0.85" stroke-linejoin="miter"/>
<path d="M578.1 127.2 V119.9 H632.0 V149.4" fill="none" stroke="#000" stroke-width="1.5"/>
<path d="M601.80 105.95 L601.80 113.65 M598.47 107.88 L605.13 111.72 M598.47 111.72 L605.13 107.88" stroke="#000" stroke-width="1.65" fill="none"/>
<path d="M614.00 105.95 L614.00 113.65 M610.67 107.88 L617.33 111.72 M610.67 111.72 L617.33 107.88" stroke="#000" stroke-width="1.65" fill="none"/>
<text x="607.9" y="85.7" font-size="13.2" font-weight="bold" text-anchor="middle" fill="#000"  textLength="31.9" lengthAdjust="spacingAndGlyphs">Area</text>
<text x="516.5" y="181.7" font-size="10.8" font-weight="bold" text-anchor="middle" fill="#000"  textLength="164.8" lengthAdjust="spacingAndGlyphs" transform="rotate(-90 516.5 181.7)">Migration normalized to control</text>
<text x="512.0" y="281.5" font-size="11" font-weight="bold" text-anchor="middle" fill="#000"  textLength="52.8" lengthAdjust="spacingAndGlyphs">PNGase-F</text>
<path d="M573.6 277.5 H580.3" stroke="#000" stroke-width="1.5"/>
<path d="M628.1 277.5 H634.3 M631.2 274.4 V280.6" stroke="#000" stroke-width="1.5"/>
<clipPath id="cC1"><rect x="31" y="400" width="112.3" height="118.5"/></clipPath>
<rect x="31" y="400" width="112.3" height="118.5" fill="url(#g1)"/>
<clipPath id="cC2"><rect x="145.2" y="400" width="111.7" height="118.5"/></clipPath>
<rect x="145.2" y="400" width="111.7" height="118.5" fill="url(#g2)"/>
<clipPath id="cC3"><rect x="259.5" y="400" width="111.8" height="118.5"/></clipPath>
<rect x="259.5" y="400" width="111.8" height="118.5" fill="url(#g3)"/>
<clipPath id="cC4"><rect x="373.8" y="400" width="112.0" height="118.5"/></clipPath>
<rect x="373.8" y="400" width="112.0" height="118.5" fill="url(#g4)"/>
<clipPath id="cC5"><rect x="488" y="400" width="112.0" height="118.5"/></clipPath>
<rect x="488" y="400" width="112.0" height="118.5" fill="url(#g5)"/>
<clipPath id="cC6"><rect x="602.4" y="400" width="112.1" height="118.5"/></clipPath>
<rect x="602.4" y="400" width="112.1" height="118.5" fill="url(#g6)"/>
<g clip-path="url(#cC1)" filter="url(#bl)" stroke-linecap="round" stroke-linejoin="round"><path d="M74.0 410.8 L81.4 408.3 L78.9 415.7" fill="none" stroke="#d0d0d0" stroke-width="2.19" stroke-opacity="0.4"/><path d="M118.8 410.8 L126.2 419.9" fill="none" stroke="#d0d0d0" stroke-width="2.16" stroke-opacity="0.4"/><path d="M33.3 414.9 L39.9 415.7 L49.9 412.4 L54.9 414.9" fill="none" stroke="#d0d0d0" stroke-width="2.11" stroke-opacity="0.4"/><path d="M41.6 428.2 L46.6 424.0" fill="none" stroke="#d0d0d0" stroke-width="2.40" stroke-opacity="0.4"/><path d="M57.4 429.9 L63.2 425.7 L68.2 426.5 L74.8 422.4 L79.8 424.9 L83.1 428.2" fill="none" stroke="#d0d0d0" stroke-width="2.46" stroke-opacity="0.4"/><path d="M93.0 425.7 L98.0 421.6 L99.7 424.9 L104.7 424.9" fill="none" stroke="#d0d0d0" stroke-width="2.06" stroke-opacity="0.4"/><path d="M113.0 433.2 L113.0 437.3" fill="none" stroke="#d0d0d0" stroke-width="2.37" stroke-opacity="0.4"/><path d="M85.6 435.7 L88.1 439.8" fill="none" stroke="#d0d0d0" stroke-width="2.47" stroke-opacity="0.4"/><path d="M97.2 436.5 L100.5 440.6 L98.0 444.8" fill="none" stroke="#d0d0d0" stroke-width="1.64" stroke-opacity="0.4"/><path d="M106.3 444.0 L109.6 444.0" fill="none" stroke="#d0d0d0" stroke-width="2.12" stroke-opacity="0.4"/><path d="M32.5 444.0 L40.8 445.6 L41.6 451.4" fill="none" stroke="#d0d0d0" stroke-width="1.70" stroke-opacity="0.4"/><path d="M46.6 444.0 L49.9 442.3" fill="none" stroke="#d0d0d0" stroke-width="2.41" stroke-opacity="0.4"/><path d="M56.5 442.3 L64.0 447.3" fill="none" stroke="#d0d0d0" stroke-width="2.22" stroke-opacity="0.4"/><path d="M111.3 451.4 L121.3 452.3 L126.2 456.4" fill="none" stroke="#d0d0d0" stroke-width="1.95" stroke-opacity="0.4"/><path d="M141.2 451.4 L141.2 455.6" fill="none" stroke="#d0d0d0" stroke-width="1.71" stroke-opacity="0.4"/><path d="M78.1 452.3 L78.9 457.2 L81.4 460.6" fill="none" stroke="#d0d0d0" stroke-width="1.73" stroke-opacity="0.4"/><path d="M101.3 461.4 L103.8 466.4 L102.2 472.2" fill="none" stroke="#d0d0d0" stroke-width="2.38" stroke-opacity="0.4"/><path d="M32.5 468.0 L40.8 468.9 L46.6 473.8 L52.4 478.0 L53.2 484.6" fill="none" stroke="#d0d0d0" stroke-width="1.98" stroke-opacity="0.4"/><path d="M119.6 476.3 L126.2 475.5 L128.7 477.2" fill="none" stroke="#d0d0d0" stroke-width="1.87" stroke-opacity="0.4"/><path d="M39.9 481.3 L46.6 482.1" fill="none" stroke="#d0d0d0" stroke-width="1.81" stroke-opacity="0.4"/><path d="M71.5 481.3 L74.0 483.8" fill="none" stroke="#d0d0d0" stroke-width="2.43" stroke-opacity="0.4"/><path d="M111.3 485.5 L115.5 487.9 L113.8 491.3 L108.8 495.4" fill="none" stroke="#d0d0d0" stroke-width="2.12" stroke-opacity="0.4"/><path d="M128.7 482.1 L134.5 483.8 L139.5 484.6" fill="none" stroke="#d0d0d0" stroke-width="2.33" stroke-opacity="0.4"/><path d="M72.3 493.8 L79.8 492.9 L84.8 491.3" fill="none" stroke="#d0d0d0" stroke-width="1.80" stroke-opacity="0.4"/><path d="M130.4 488.8 L130.4 494.6 L128.7 498.7 L132.9 501.2 L135.4 504.5" fill="none" stroke="#d0d0d0" stroke-width="1.78" stroke-opacity="0.4"/><path d="M52.4 487.9 L52.4 497.9 L49.9 504.5 L49.1 511.2 L56.5 514.5" fill="none" stroke="#d0d0d0" stroke-width="2.20" stroke-opacity="0.4"/><path d="M111.3 513.7 L113.8 516.2 L116.3 512.8" fill="none" stroke="#d0d0d0" stroke-width="2.26" stroke-opacity="0.4"/><path d="M113.8 516.2 L113.8 518.7" fill="none" stroke="#d0d0d0" stroke-width="1.93" stroke-opacity="0.4"/><path d="M35.0 511.2 L41.6 512.0" fill="none" stroke="#d0d0d0" stroke-width="2.29" stroke-opacity="0.4"/><path d="M74.9 408.9h0M77.3 408.7h0M81.6 410.7h0M82.6 412.3h0M79.1 415.2h0M119.3 413.9h0M122.9 412.4h0M127.9 418.0h0M35.2 416.4h0M36.9 417.3h0M39.1 416.2h0M41.1 415.6h0M41.5 414.2h0M43.0 415.9h0M44.6 415.1h0M46.9 415.2h0M48.1 414.4h0M53.5 412.1h0M53.4 415.3h0M55.8 412.3h0M47.5 425.6h0M59.2 428.0h0M64.0 427.4h0M69.8 427.3h0M69.6 424.5h0M70.0 423.5h0M73.5 424.7h0M79.8 426.2h0M93.0 424.2h0M95.5 421.1h0M99.0 423.4h0M99.8 424.9h0M101.8 423.0h0M113.8 434.7h0M114.2 435.8h0M111.4 437.2h0M85.2 438.0h0M89.5 438.4h0M96.9 439.3h0M99.0 440.0h0M98.7 441.9h0M100.7 442.4h0M33.0 442.9h0M36.2 446.2h0M114.9 453.7h0M115.9 450.8h0M117.0 451.7h0M119.5 452.0h0M120.8 453.7h0M123.6 455.9h0M139.7 453.4h0M139.5 454.4h0M139.6 455.2h0M78.7 458.6h0M101.6 461.4h0M103.0 467.8h0M102.1 468.4h0M34.5 466.7h0M40.9 469.6h0M41.9 470.2h0M46.7 471.8h0M46.8 474.6h0M52.7 475.9h0M54.4 480.0h0M122.4 474.4h0M73.6 481.1h0M72.6 484.0h0M115.8 487.0h0M114.3 487.9h0M114.6 492.3h0M110.5 492.8h0M130.1 479.7h0M132.8 483.0h0M133.4 484.7h0M138.9 483.6h0M72.5 492.7h0M80.4 494.1h0M81.5 490.7h0M131.7 489.8h0M131.4 493.1h0M131.2 493.9h0M129.7 494.7h0M130.1 501.3h0M133.2 503.8h0M53.7 490.4h0M49.7 493.7h0M52.7 497.0h0M52.9 500.8h0M49.1 501.4h0M49.5 504.2h0M51.7 507.3h0M51.2 510.5h0M48.8 511.8h0M50.4 513.3h0M53.1 511.7h0M56.4 513.0h0M111.7 515.8h0M116.7 516.7h0M36.4 511.2h0M37.7 511.5h0" fill="none" stroke="#303030" stroke-opacity="0.5" stroke-width="1.2"/><path d="M119.3 411.1h0M120.1 413.3h0M126.8 419.0h0M60.2 427.7h0M88.2 439.2h0M35.2 444.5h0M57.2 444.0h0M122.4 452.9h0M103.9 465.5h0M103.4 468.8h0M35.6 466.6h0M44.2 473.2h0M51.8 477.1h0M53.2 479.1h0M111.2 493.7h0M108.8 494.2h0M132.6 483.8h0M133.8 483.5h0M136.6 484.3h0M72.6 493.7h0M50.4 503.3h0M115.7 516.7h0" fill="none" stroke="#f4f4f4" stroke-opacity="0.43" stroke-width="1.10"/><path d="M76.6 409.4h0M78.9 409.6h0M122.0 414.4h0M126.5 417.7h0M34.6 414.6h0M35.3 415.6h0M48.7 413.7h0M58.6 427.3h0M67.0 428.0h0M100.1 424.2h0M104.0 425.1h0M88.6 437.3h0M100.5 441.0h0M40.8 445.9h0M42.8 450.2h0M58.6 443.4h0M112.3 450.7h0M124.2 455.1h0M103.7 464.5h0M38.8 468.1h0M39.6 469.0h0M42.6 470.6h0M44.2 471.6h0M53.2 483.3h0M121.5 474.2h0M128.6 476.8h0M73.3 483.2h0M135.8 484.6h0M130.7 489.8h0M130.9 499.9h0M134.2 503.1h0M52.4 491.7h0M53.6 497.0h0M49.3 510.8h0M53.8 512.7h0M112.6 514.9h0" fill="none" stroke="#f4f4f4" stroke-opacity="0.69" stroke-width="1.10"/><path d="M39.3 415.0h0M55.1 413.7h0M64.3 425.1h0M70.7 424.5h0M79.0 427.0h0M98.1 422.4h0M102.9 424.6h0M112.3 434.7h0M99.3 443.1h0M40.2 445.5h0M102.7 469.5h0M34.4 467.8h0M119.8 475.4h0M127.4 476.8h0M130.6 493.1h0M52.5 490.4h0M50.7 504.6h0M52.5 513.0h0M114.0 518.0h0" fill="none" stroke="#f4f4f4" stroke-opacity="0.95" stroke-width="1.10"/><path d="M75.6 408.6h0M81.4 408.3h0M121.9 413.3h0M41.4 416.6h0M53.0 413.1h0M53.9 414.2h0M42.4 425.5h0M46.5 424.3h0M66.6 425.5h0M68.2 425.5h0M73.4 422.5h0M83.7 427.5h0M97.9 437.5h0M98.9 438.8h0M37.8 445.6h0M49.0 443.1h0M63.2 447.7h0M120.4 452.4h0M121.5 452.8h0M125.3 456.5h0M102.5 463.0h0M102.2 471.9h0M43.1 471.3h0M46.0 472.6h0M53.1 478.3h0M39.9 482.3h0M42.2 481.2h0M43.2 483.4h0M111.7 485.4h0M131.2 483.6h0M134.7 483.9h0M137.8 484.9h0M75.9 494.1h0M78.8 492.7h0M80.0 493.2h0M51.4 488.2h0M50.6 507.2h0M112.6 516.3h0M115.2 516.1h0M36.2 512.5h0M41.6 511.8h0" fill="none" stroke="#f4f4f4" stroke-opacity="0.43" stroke-width="1.65"/><path d="M75.4 410.4h0M77.6 409.6h0M79.9 409.1h0M80.6 410.4h0M81.1 411.8h0M80.1 413.6h0M80.3 415.6h0M123.2 415.0h0M123.9 418.5h0M37.1 415.8h0M42.8 415.1h0M46.6 414.4h0M47.6 412.9h0M49.3 412.2h0M51.4 412.1h0M45.8 424.7h0M57.6 429.0h0M62.3 426.7h0M68.2 426.3h0M69.1 426.0h0M70.3 425.5h0M72.2 424.5h0M72.8 423.6h0M77.7 423.6h0M79.0 424.0h0M81.8 427.5h0M93.6 424.9h0M95.0 423.8h0M95.9 423.2h0M96.4 422.3h0M97.8 421.8h0M98.2 423.8h0M99.8 425.7h0M100.5 424.9h0M101.8 423.9h0M113.0 435.8h0M86.3 437.3h0M97.7 436.8h0M98.1 438.4h0M99.8 441.0h0M99.7 441.8h0M107.3 444.2h0M108.5 443.0h0M109.5 444.1h0M32.7 444.3h0M41.4 449.3h0M47.5 442.1h0M60.4 445.7h0M61.7 446.2h0M62.6 446.3h0M115.9 451.7h0M117.0 450.6h0M117.9 451.1h0M118.7 452.5h0M119.4 453.0h0M122.8 454.6h0M124.4 456.4h0M141.2 452.4h0M141.0 454.4h0M140.9 455.2h0M79.8 457.7h0M79.9 459.2h0M100.4 462.0h0M104.3 466.8h0M104.5 468.2h0M101.8 470.7h0M33.2 469.0h0M36.4 468.6h0M37.8 468.4h0M41.6 468.9h0M46.1 473.7h0M48.1 475.1h0M52.2 482.0h0M120.7 477.4h0M122.5 475.3h0M125.8 475.2h0M126.8 475.4h0M41.3 481.6h0M44.6 482.3h0M115.0 488.2h0M113.6 490.7h0M113.7 491.2h0M113.2 492.5h0M110.4 494.5h0M77.8 493.6h0M80.8 492.9h0M82.9 492.7h0M130.8 492.1h0M131.7 500.5h0M132.8 500.9h0M133.8 501.7h0M51.7 492.7h0M51.0 493.7h0M52.3 495.7h0M51.8 498.2h0M51.4 501.3h0M50.3 501.9h0M49.1 505.9h0M50.0 509.3h0M50.0 510.4h0M51.0 512.1h0M54.8 513.7h0M115.6 513.0h0M35.3 511.3h0M38.4 512.2h0M39.5 509.8h0" fill="none" stroke="#f4f4f4" stroke-opacity="0.69" stroke-width="1.65"/><path d="M79.7 412.4h0M40.2 415.3h0M41.8 415.4h0M43.5 414.5h0M45.9 415.0h0M50.4 411.7h0M60.9 426.9h0M75.1 423.4h0M76.9 422.9h0M94.0 424.2h0M34.1 443.7h0M36.5 444.8h0M39.2 444.7h0M50.0 442.8h0M113.5 452.1h0M124.0 454.3h0M78.9 454.6h0M79.8 456.2h0M102.9 464.0h0M49.2 475.4h0M49.2 476.8h0M50.9 476.5h0M45.4 482.3h0M72.1 481.5h0M74.2 483.5h0M112.2 486.6h0M113.8 486.1h0M115.1 488.3h0M114.7 490.4h0M138.7 484.7h0M84.4 491.2h0M131.1 495.3h0M128.5 499.6h0M129.7 499.3h0M52.3 499.6h0M51.8 505.2h0M48.6 508.0h0M49.8 512.5h0" fill="none" stroke="#f4f4f4" stroke-opacity="0.95" stroke-width="1.65"/><path d="M123.0 417.0h0M38.5 415.3h0M41.7 428.1h0M60.1 443.6h0M41.1 471.1h0M123.3 475.2h0M124.3 476.9h0M72.7 481.9h0M130.3 493.9h0M129.1 498.0h0M52.3 494.6h0M51.5 500.3h0M111.9 514.1h0M114.7 514.8h0M115.4 513.8h0" fill="none" stroke="#f4f4f4" stroke-opacity="0.43" stroke-width="2.20"/><path d="M74.8 410.6h0M80.1 409.4h0M79.2 414.1h0M124.1 417.0h0M44.3 414.2h0M43.1 427.7h0M45.3 425.5h0M63.2 426.3h0M75.5 422.7h0M113.7 433.5h0M112.7 437.2h0M85.9 436.2h0M100.0 439.2h0M41.0 447.1h0M56.9 442.6h0M114.4 451.7h0M141.0 453.4h0M78.0 453.2h0M77.4 454.1h0M81.6 459.2h0M101.6 462.5h0M47.3 473.9h0M52.4 481.1h0M53.0 484.6h0M114.3 487.6h0M114.0 489.2h0M129.7 481.1h0M130.4 483.2h0M75.1 494.6h0M76.8 493.2h0M81.9 491.8h0M83.5 491.4h0M129.8 490.8h0M130.2 496.3h0M130.1 497.4h0M134.3 504.6h0M51.8 489.5h0M51.6 513.0h0M37.6 512.7h0M40.5 511.2h0" fill="none" stroke="#f4f4f4" stroke-opacity="0.69" stroke-width="2.20"/><path d="M80.9 408.2h0M120.0 412.3h0M33.4 415.4h0M36.3 415.2h0M52.4 412.3h0M44.3 426.0h0M59.2 429.7h0M65.3 425.8h0M80.6 427.0h0M98.1 443.9h0M41.8 448.1h0M46.9 443.1h0M115.0 452.6h0M78.9 455.4h0M52.9 480.2h0M125.1 476.3h0M111.0 492.0h0M73.9 494.2h0M56.1 513.9h0" fill="none" stroke="#f4f4f4" stroke-opacity="0.95" stroke-width="2.20"/></g><g clip-path="url(#cC1)" filter="url(#bl)"><ellipse cx="87.2" cy="404.1" rx="1.72" ry="1.33" transform="rotate(19 87.2 404.1)" fill="#f0f0f0" fill-opacity="0.76"/><ellipse cx="121.3" cy="402.5" rx="2.00" ry="1.56" transform="rotate(118 121.3 402.5)" fill="#f0f0f0" fill-opacity="0.76"/><ellipse cx="139.5" cy="409.9" rx="1.56" ry="1.37" transform="rotate(164 139.5 409.9)" fill="#f0f0f0" fill-opacity="0.76"/><ellipse cx="101.3" cy="407.4" rx="1.64" ry="1.36" transform="rotate(110 101.3 407.4)" fill="#f0f0f0" fill-opacity="0.76"/><ellipse cx="87.2" cy="409.9" rx="1.82" ry="1.62" transform="rotate(71 87.2 409.9)" fill="#f0f0f0" fill-opacity="0.76"/><ellipse cx="92.2" cy="412.4" rx="1.54" ry="1.38" transform="rotate(50 92.2 412.4)" fill="#f0f0f0" fill-opacity="0.76"/><ellipse cx="111.3" cy="413.3" rx="1.85" ry="1.59" transform="rotate(48 111.3 413.3)" fill="#f0f0f0" fill-opacity="0.76"/><ellipse cx="111.3" cy="419.1" rx="2.05" ry="1.70" transform="rotate(175 111.3 419.1)" fill="#f0f0f0" fill-opacity="0.76"/><ellipse cx="60.7" cy="414.6" rx="1.77" ry="1.57" transform="rotate(48 60.7 414.6)" fill="#f0f0f0" fill-opacity="0.76"/><ellipse cx="133.7" cy="425.7" rx="1.61" ry="1.49" transform="rotate(82 133.7 425.7)" fill="#f0f0f0" fill-opacity="0.76"/><ellipse cx="121.3" cy="424.9" rx="1.83" ry="1.46" transform="rotate(92 121.3 424.9)" fill="#f0f0f0" fill-opacity="0.76"/><ellipse cx="75.6" cy="434.8" rx="1.87" ry="1.76" transform="rotate(120 75.6 434.8)" fill="#f0f0f0" fill-opacity="0.76"/><ellipse cx="69.8" cy="442.3" rx="1.74" ry="1.60" transform="rotate(107 69.8 442.3)" fill="#f0f0f0" fill-opacity="0.76"/><ellipse cx="120.4" cy="447.3" rx="1.77" ry="1.61" transform="rotate(55 120.4 447.3)" fill="#f0f0f0" fill-opacity="0.76"/><ellipse cx="131.2" cy="454.8" rx="1.55" ry="1.22" transform="rotate(175 131.2 454.8)" fill="#f0f0f0" fill-opacity="0.76"/><ellipse cx="92.2" cy="453.9" rx="2.00" ry="1.91" transform="rotate(47 92.2 453.9)" fill="#f0f0f0" fill-opacity="0.76"/><ellipse cx="111.3" cy="458.9" rx="1.97" ry="1.86" transform="rotate(97 111.3 458.9)" fill="#f0f0f0" fill-opacity="0.76"/><ellipse cx="57.4" cy="462.2" rx="1.68" ry="1.30" transform="rotate(180 57.4 462.2)" fill="#f0f0f0" fill-opacity="0.76"/><ellipse cx="87.2" cy="471.3" rx="2.05" ry="1.98" transform="rotate(80 87.2 471.3)" fill="#f0f0f0" fill-opacity="0.76"/><ellipse cx="56.5" cy="474.7" rx="1.91" ry="1.87" transform="rotate(98 56.5 474.7)" fill="#f0f0f0" fill-opacity="0.76"/><ellipse cx="137.9" cy="471.3" rx="1.58" ry="1.57" transform="rotate(97 137.9 471.3)" fill="#f0f0f0" fill-opacity="0.76"/><ellipse cx="95.5" cy="491.3" rx="1.93" ry="1.75" transform="rotate(12 95.5 491.3)" fill="#f0f0f0" fill-opacity="0.76"/><ellipse cx="87.2" cy="504.5" rx="1.76" ry="1.33" transform="rotate(48 87.2 504.5)" fill="#f0f0f0" fill-opacity="0.76"/><ellipse cx="98.0" cy="504.5" rx="2.03" ry="1.88" transform="rotate(102 98.0 504.5)" fill="#f0f0f0" fill-opacity="0.76"/></g>
<g clip-path="url(#cC2)" filter="url(#bl)" stroke-linecap="round" stroke-linejoin="round"><path d="M188.1 410.8 L196.4 409.9 L203.9 409.1 L209.7 403.3 L213.0 401.6" fill="none" stroke="#d0d0d0" stroke-width="2.12" stroke-opacity="0.4"/><path d="M203.9 409.1 L206.4 414.9" fill="none" stroke="#d0d0d0" stroke-width="1.82" stroke-opacity="0.4"/><path d="M221.3 405.0 L229.6 404.1 L236.3 405.0 L239.6 401.6" fill="none" stroke="#d0d0d0" stroke-width="1.86" stroke-opacity="0.4"/><path d="M230.5 413.3 L232.9 419.9" fill="none" stroke="#d0d0d0" stroke-width="2.13" stroke-opacity="0.4"/><path d="M183.2 422.4 L186.5 425.7" fill="none" stroke="#d0d0d0" stroke-width="1.83" stroke-opacity="0.4"/><path d="M161.6 430.7 L167.4 434.8 L163.2 436.5" fill="none" stroke="#d0d0d0" stroke-width="2.44" stroke-opacity="0.4"/><path d="M167.4 434.8 L174.9 431.5" fill="none" stroke="#d0d0d0" stroke-width="1.89" stroke-opacity="0.4"/><path d="M184.0 434.0 L191.5 429.9" fill="none" stroke="#d0d0d0" stroke-width="2.02" stroke-opacity="0.4"/><path d="M203.9 444.8 L209.7 443.1 L215.5 437.3" fill="none" stroke="#d0d0d0" stroke-width="2.09" stroke-opacity="0.4"/><path d="M209.7 443.1 L213.0 444.8" fill="none" stroke="#d0d0d0" stroke-width="1.82" stroke-opacity="0.4"/><path d="M223.8 453.1 L223.0 456.4" fill="none" stroke="#d0d0d0" stroke-width="1.80" stroke-opacity="0.4"/><path d="M152.4 453.9 L159.9 453.1 L163.2 450.6" fill="none" stroke="#d0d0d0" stroke-width="2.45" stroke-opacity="0.4"/><path d="M172.4 453.9 L178.2 453.9" fill="none" stroke="#d0d0d0" stroke-width="1.74" stroke-opacity="0.4"/><path d="M189.8 455.6 L193.1 458.9 L196.4 458.1" fill="none" stroke="#d0d0d0" stroke-width="2.47" stroke-opacity="0.4"/><path d="M152.4 461.4 L150.8 466.4 L153.3 472.2 L158.3 476.3 L161.6 479.6" fill="none" stroke="#d0d0d0" stroke-width="1.63" stroke-opacity="0.4"/><path d="M161.6 460.6 L165.7 463.9" fill="none" stroke="#d0d0d0" stroke-width="2.11" stroke-opacity="0.4"/><path d="M174.9 468.0 L179.8 467.2 L177.3 470.5" fill="none" stroke="#d0d0d0" stroke-width="1.72" stroke-opacity="0.4"/><path d="M217.2 462.2 L213.0 468.0 L206.4 467.2 L201.4 471.3 L197.3 476.3 L196.4 481.3 L189.8 484.6 L184.8 487.9 L182.3 492.9 L183.2 497.1 L178.2 496.2 L169.9 497.9 L164.9 502.1" fill="none" stroke="#d0d0d0" stroke-width="1.77" stroke-opacity="0.4"/><path d="M213.0 468.0 L214.7 473.0" fill="none" stroke="#d0d0d0" stroke-width="1.78" stroke-opacity="0.4"/><path d="M196.4 481.3 L201.4 486.3 L205.6 488.8 L204.7 494.6" fill="none" stroke="#d0d0d0" stroke-width="2.09" stroke-opacity="0.4"/><path d="M182.3 492.9 L189.8 497.9 L194.8 500.4" fill="none" stroke="#d0d0d0" stroke-width="2.16" stroke-opacity="0.4"/><path d="M203.9 499.6 L208.0 499.6" fill="none" stroke="#d0d0d0" stroke-width="1.86" stroke-opacity="0.4"/><path d="M239.6 458.9 L242.9 464.7 L241.2 471.3 L239.6 476.3 L237.9 481.3" fill="none" stroke="#d0d0d0" stroke-width="1.72" stroke-opacity="0.4"/><path d="M237.9 487.9 L239.6 492.9 L234.6 496.2 L226.3 499.6 L219.7 501.2 L216.3 505.4 L211.4 509.5 L209.7 514.5" fill="none" stroke="#d0d0d0" stroke-width="2.18" stroke-opacity="0.4"/><path d="M242.9 494.6 L239.6 497.9" fill="none" stroke="#d0d0d0" stroke-width="1.85" stroke-opacity="0.4"/><path d="M223.0 511.2 L223.0 514.5" fill="none" stroke="#d0d0d0" stroke-width="2.13" stroke-opacity="0.4"/><path d="M147.5 498.7 L151.6 494.6 L156.6 496.2 L159.9 497.9" fill="none" stroke="#d0d0d0" stroke-width="2.32" stroke-opacity="0.4"/><path d="M168.2 509.5 L171.5 514.5 L173.2 517.0" fill="none" stroke="#d0d0d0" stroke-width="1.83" stroke-opacity="0.4"/><path d="M198.1 517.8 L206.4 517.0" fill="none" stroke="#d0d0d0" stroke-width="2.09" stroke-opacity="0.4"/><path d="M189.3 409.8h0M190.5 408.2h0M192.0 412.5h0M197.3 410.8h0M200.9 409.0h0M203.5 408.7h0M209.8 404.2h0M210.9 404.2h0M211.8 403.0h0M203.5 411.9h0M207.1 411.8h0M228.4 406.2h0M229.3 402.5h0M233.3 403.4h0M235.1 403.5h0M235.7 403.9h0M231.5 413.1h0M231.8 416.8h0M234.1 417.2h0M185.9 423.5h0M165.3 433.5h0M164.8 435.9h0M167.7 434.2h0M170.3 432.1h0M172.3 434.0h0M173.5 431.7h0M187.4 433.6h0M204.3 445.5h0M205.5 445.2h0M206.6 445.7h0M206.5 441.9h0M208.2 444.2h0M209.6 440.5h0M212.6 440.4h0M209.7 445.3h0M211.8 443.3h0M224.8 454.5h0M159.5 454.5h0M162.8 453.9h0M174.0 454.1h0M151.7 466.5h0M148.7 467.5h0M152.9 467.0h0M153.4 469.1h0M154.5 472.0h0M157.1 473.9h0M161.9 476.8h0M163.2 459.7h0M174.8 466.5h0M177.0 466.9h0M178.3 467.0h0M179.3 468.9h0M217.3 464.5h0M207.7 469.0h0M206.4 468.4h0M204.1 466.8h0M202.8 468.2h0M204.0 471.0h0M200.4 475.9h0M197.9 478.6h0M198.8 480.1h0M196.6 484.0h0M193.5 480.0h0M193.9 483.4h0M191.1 483.4h0M188.1 483.6h0M187.5 488.2h0M182.1 492.7h0M182.8 493.0h0M181.9 494.9h0M184.1 495.7h0M183.9 496.8h0M176.4 494.4h0M175.7 497.1h0M173.1 495.5h0M172.8 499.2h0M170.9 497.9h0M170.3 499.3h0M163.9 500.7h0M216.2 471.2h0M198.7 483.6h0M200.0 483.5h0M201.0 485.2h0M203.2 485.1h0M206.8 490.5h0M182.0 493.8h0M183.3 494.1h0M185.5 494.1h0M185.1 496.1h0M186.9 495.9h0M188.5 495.7h0M189.3 498.1h0M190.8 497.7h0M192.2 497.0h0M195.4 498.7h0M205.6 500.2h0M206.7 497.7h0M242.2 461.0h0M244.3 463.6h0M240.7 473.9h0M239.8 474.8h0M238.2 475.7h0M236.5 480.1h0M238.2 492.7h0M231.0 495.7h0M229.9 496.6h0M229.3 497.8h0M228.9 499.6h0M227.1 497.2h0M224.6 500.6h0M222.2 499.0h0M221.0 499.5h0M214.8 504.3h0M241.1 494.0h0M242.2 497.1h0M147.6 495.8h0M154.3 493.5h0M154.2 496.5h0M157.4 495.9h0M158.6 498.6h0M170.4 508.8h0M167.8 511.7h0M169.5 515.1h0M198.7 516.1h0M199.9 518.5h0M202.2 515.8h0M203.4 517.4h0M206.1 518.1h0" fill="none" stroke="#303030" stroke-opacity="0.5" stroke-width="1.2"/><path d="M190.6 409.3h0M204.3 409.5h0M223.3 404.5h0M231.3 414.6h0M166.7 435.3h0M173.8 432.4h0M155.6 453.7h0M154.1 471.0h0M158.8 476.6h0M203.7 469.3h0M199.7 475.3h0M187.1 486.1h0M179.8 497.6h0M169.2 498.0h0M182.5 493.0h0M243.0 464.3h0M222.5 500.2h0M148.7 496.9h0M173.3 516.3h0" fill="none" stroke="#f4f4f4" stroke-opacity="0.43" stroke-width="1.10"/><path d="M201.1 410.3h0M202.0 407.2h0M204.8 408.1h0M206.7 405.5h0M208.6 405.8h0M212.4 404.1h0M203.8 409.3h0M224.5 405.5h0M230.8 404.6h0M232.1 419.2h0M185.2 424.2h0M161.6 431.2h0M164.1 436.4h0M213.3 441.1h0M213.9 438.2h0M224.1 453.2h0M154.6 453.9h0M158.0 453.5h0M159.4 453.2h0M151.4 467.7h0M152.3 469.6h0M159.1 478.0h0M162.4 460.8h0M217.1 463.3h0M216.3 463.8h0M213.7 466.4h0M213.8 467.8h0M206.6 466.9h0M199.1 473.3h0M198.4 475.5h0M196.2 481.0h0M188.1 485.4h0M183.6 489.7h0M182.0 493.2h0M183.3 494.6h0M183.3 495.9h0M181.7 497.6h0M177.7 496.7h0M170.1 498.0h0M213.5 470.2h0M197.7 482.7h0M204.6 486.8h0M204.3 492.5h0M205.0 493.4h0M184.0 492.9h0M186.3 496.9h0M188.5 497.6h0M204.9 500.6h0M205.6 499.0h0M206.7 499.1h0M240.1 460.6h0M239.2 490.2h0M225.5 499.1h0M220.4 501.9h0M218.4 501.5h0M217.9 504.5h0M212.2 509.1h0M171.5 510.6h0M170.9 515.6h0M198.8 517.4h0M203.3 516.6h0" fill="none" stroke="#f4f4f4" stroke-opacity="0.69" stroke-width="1.10"/><path d="M229.7 403.9h0M185.9 424.8h0M161.9 452.7h0M150.0 467.0h0M203.3 470.2h0M202.5 470.5h0M196.8 478.4h0M197.3 479.9h0M194.1 481.2h0M183.1 490.3h0M202.7 486.0h0M192.7 498.9h0M243.2 462.8h0M238.0 489.6h0M235.1 495.0h0M216.7 504.9h0M149.5 496.5h0M159.0 497.8h0M202.3 517.1h0" fill="none" stroke="#f4f4f4" stroke-opacity="0.95" stroke-width="1.10"/><path d="M210.3 403.0h0M204.0 410.2h0M206.0 413.8h0M231.8 404.8h0M236.9 403.1h0M232.6 416.4h0M231.7 420.1h0M185.1 422.5h0M185.4 426.6h0M170.7 432.9h0M190.1 431.8h0M191.7 430.6h0M209.4 443.4h0M210.1 442.9h0M213.0 439.1h0M212.1 444.8h0M222.6 455.2h0M172.8 452.9h0M190.9 457.6h0M194.8 457.9h0M155.5 473.8h0M156.6 474.6h0M163.9 462.9h0M165.7 463.7h0M178.5 468.5h0M179.1 467.5h0M215.6 464.5h0M212.5 469.0h0M210.3 468.0h0M207.8 468.1h0M199.5 470.8h0M196.0 482.7h0M192.9 483.4h0M191.7 484.7h0M183.0 496.9h0M179.0 495.8h0M176.6 495.4h0M174.5 497.3h0M167.8 499.1h0M166.5 500.9h0M201.0 487.1h0M203.0 487.4h0M190.4 498.5h0M191.6 498.3h0M242.6 466.0h0M242.0 469.4h0M241.6 472.2h0M239.6 476.2h0M238.9 491.6h0M236.8 495.3h0M217.7 502.1h0M241.7 494.6h0M241.1 496.0h0M239.5 497.3h0M152.6 494.5h0M156.8 497.0h0M169.3 509.5h0M170.4 512.8h0" fill="none" stroke="#f4f4f4" stroke-opacity="0.43" stroke-width="1.65"/><path d="M189.4 410.9h0M197.1 409.4h0M199.1 409.1h0M206.3 406.7h0M212.2 401.1h0M204.9 411.3h0M205.9 412.3h0M225.6 404.3h0M229.4 404.1h0M233.2 404.6h0M230.4 413.5h0M232.0 415.7h0M165.5 435.5h0M171.9 433.1h0M184.4 433.0h0M190.5 430.7h0M207.9 443.0h0M211.6 441.2h0M152.7 454.1h0M153.6 454.6h0M174.0 452.8h0M174.9 454.7h0M175.8 452.7h0M176.8 453.6h0M178.1 453.3h0M193.8 459.2h0M152.3 461.9h0M151.4 465.2h0M152.3 468.2h0M160.8 477.9h0M162.0 463.1h0M175.0 467.6h0M176.2 467.1h0M179.7 468.3h0M178.8 469.2h0M177.5 469.8h0M206.3 468.1h0M204.6 467.5h0M198.0 476.2h0M188.7 484.5h0M184.8 486.6h0M184.1 488.7h0M181.8 493.9h0M172.5 497.7h0M168.1 500.7h0M164.4 501.4h0M212.8 469.1h0M215.0 471.6h0M214.3 472.8h0M199.1 484.5h0M200.3 485.8h0M205.6 488.9h0M205.1 494.6h0M187.6 497.0h0M189.9 497.2h0M240.6 470.2h0M240.3 473.0h0M241.7 474.3h0M240.9 477.1h0M239.0 479.7h0M237.7 480.6h0M239.8 492.3h0M239.2 492.9h0M237.3 494.2h0M234.6 495.7h0M234.5 496.3h0M233.7 496.6h0M227.5 498.0h0M226.7 499.3h0M224.3 499.6h0M221.3 501.0h0M220.8 502.4h0M216.7 502.5h0M215.6 506.4h0M213.9 509.0h0M210.0 511.8h0M153.9 494.8h0M155.1 496.2h0M156.5 496.0h0M169.0 510.9h0M199.8 517.3h0M200.6 517.5h0M201.6 517.8h0M204.6 516.6h0" fill="none" stroke="#f4f4f4" stroke-opacity="0.69" stroke-width="1.65"/><path d="M188.2 410.2h0M193.1 410.4h0M194.8 408.6h0M222.5 404.3h0M226.9 404.3h0M235.0 404.7h0M238.8 401.6h0M183.2 422.8h0M164.2 431.2h0M163.9 433.4h0M164.2 434.5h0M168.2 435.2h0M169.2 434.7h0M185.6 432.4h0M206.3 444.7h0M206.9 443.2h0M210.3 441.2h0M210.2 444.3h0M211.4 444.1h0M223.5 454.2h0M151.8 464.1h0M153.7 473.0h0M154.3 473.4h0M157.6 476.7h0M208.9 468.1h0M201.7 471.1h0M196.9 477.2h0M182.9 493.1h0M171.6 497.0h0M171.1 499.0h0M214.7 470.9h0M196.7 482.1h0M198.1 484.2h0M205.3 490.3h0M184.1 494.3h0M207.7 500.1h0M241.1 461.6h0M238.8 493.7h0M231.4 496.7h0M228.4 498.4h0M215.6 505.3h0M211.6 510.8h0M240.4 497.0h0M147.3 498.3h0M148.2 498.2h0M205.9 516.8h0" fill="none" stroke="#f4f4f4" stroke-opacity="0.95" stroke-width="1.65"/><path d="M203.7 410.5h0M204.9 406.9h0M221.7 405.0h0M238.8 403.3h0M162.4 431.7h0M186.9 432.6h0M188.4 431.3h0M150.8 466.2h0M151.8 470.6h0M161.0 479.6h0M214.6 465.0h0M205.2 469.2h0M192.0 483.5h0M182.9 491.7h0M175.5 496.2h0M199.5 485.5h0M204.9 488.0h0M239.3 488.0h0M210.3 514.0h0M222.4 512.0h0M221.4 512.9h0M159.0 499.4h0" fill="none" stroke="#f4f4f4" stroke-opacity="0.43" stroke-width="2.20"/><path d="M191.8 411.0h0M193.8 409.0h0M196.3 410.0h0M208.9 403.3h0M228.3 405.0h0M236.1 405.0h0M166.8 432.8h0M163.3 436.2h0M173.0 432.9h0M174.1 431.3h0M204.6 446.4h0M205.2 443.9h0M215.3 437.7h0M156.3 452.7h0M157.3 454.9h0M161.3 453.3h0M162.9 452.0h0M191.1 455.7h0M195.5 457.3h0M152.0 463.2h0M156.8 475.5h0M164.5 463.4h0M214.7 466.1h0M211.7 468.1h0M200.6 472.8h0M196.1 481.3h0M186.7 487.0h0M182.7 496.9h0M181.0 497.0h0M184.8 495.1h0M193.6 499.6h0M241.5 462.8h0M243.6 465.3h0M242.9 467.2h0M242.1 468.2h0M241.2 475.3h0M239.7 477.9h0M238.7 478.8h0M233.3 497.8h0M229.8 499.1h0M213.7 505.5h0M214.2 507.9h0M223.9 514.2h0M150.4 496.2h0M150.3 495.1h0M170.8 514.2h0M172.4 515.7h0" fill="none" stroke="#f4f4f4" stroke-opacity="0.69" stroke-width="2.20"/><path d="M198.1 409.8h0M200.2 409.1h0M209.4 405.6h0M234.2 404.4h0M236.5 404.7h0M233.0 417.6h0M164.7 434.4h0M165.9 433.5h0M169.3 432.2h0M187.5 431.7h0M192.7 457.4h0M177.3 468.5h0M193.5 482.6h0M189.9 483.8h0M173.4 497.0h0M168.9 498.9h0M165.7 501.6h0M205.9 491.3h0M185.7 495.3h0M194.9 499.7h0M239.6 459.8h0M238.8 495.2h0M230.2 497.5h0M223.3 499.2h0M210.9 509.5h0M211.6 513.2h0M154.5 495.6h0M158.3 496.9h0" fill="none" stroke="#f4f4f4" stroke-opacity="0.95" stroke-width="2.20"/></g><g clip-path="url(#cC2)" filter="url(#bl)"><ellipse cx="198.9" cy="421.6" rx="1.66" ry="1.52" transform="rotate(21 198.9 421.6)" fill="#f0f0f0" fill-opacity="0.76"/><ellipse cx="222.2" cy="423.2" rx="1.64" ry="1.62" transform="rotate(103 222.2 423.2)" fill="#f0f0f0" fill-opacity="0.76"/><ellipse cx="226.3" cy="434.0" rx="1.73" ry="1.59" transform="rotate(21 226.3 434.0)" fill="#f0f0f0" fill-opacity="0.76"/><ellipse cx="250.4" cy="431.5" rx="1.54" ry="1.31" transform="rotate(64 250.4 431.5)" fill="#f0f0f0" fill-opacity="0.76"/><ellipse cx="243.7" cy="439.0" rx="1.71" ry="1.52" transform="rotate(15 243.7 439.0)" fill="#f0f0f0" fill-opacity="0.76"/><ellipse cx="253.7" cy="444.0" rx="1.62" ry="1.54" transform="rotate(135 253.7 444.0)" fill="#f0f0f0" fill-opacity="0.76"/><ellipse cx="232.1" cy="448.1" rx="1.79" ry="1.37" transform="rotate(119 232.1 448.1)" fill="#f0f0f0" fill-opacity="0.76"/><ellipse cx="236.3" cy="453.9" rx="1.51" ry="1.21" transform="rotate(46 236.3 453.9)" fill="#f0f0f0" fill-opacity="0.76"/><ellipse cx="198.9" cy="461.4" rx="1.98" ry="1.66" transform="rotate(56 198.9 461.4)" fill="#f0f0f0" fill-opacity="0.76"/><ellipse cx="213.0" cy="489.6" rx="1.52" ry="1.30" transform="rotate(142 213.0 489.6)" fill="#f0f0f0" fill-opacity="0.76"/><ellipse cx="230.5" cy="472.2" rx="1.64" ry="1.41" transform="rotate(21 230.5 472.2)" fill="#f0f0f0" fill-opacity="0.76"/><ellipse cx="245.4" cy="471.3" rx="1.55" ry="1.20" transform="rotate(150 245.4 471.3)" fill="#f0f0f0" fill-opacity="0.76"/><ellipse cx="251.2" cy="475.5" rx="1.91" ry="1.65" transform="rotate(103 251.2 475.5)" fill="#f0f0f0" fill-opacity="0.76"/><ellipse cx="255.4" cy="479.6" rx="1.67" ry="1.54" transform="rotate(41 255.4 479.6)" fill="#f0f0f0" fill-opacity="0.76"/><ellipse cx="237.9" cy="509.5" rx="1.65" ry="1.53" transform="rotate(62 237.9 509.5)" fill="#f0f0f0" fill-opacity="0.76"/><ellipse cx="188.1" cy="513.7" rx="1.98" ry="1.72" transform="rotate(0 188.1 513.7)" fill="#f0f0f0" fill-opacity="0.76"/></g>
<g clip-path="url(#cC3)" filter="url(#bl2)" stroke-linecap="round" stroke-linejoin="round"><path d="M275.4 400.1 L277.4 410.2 L278.6 418.0 L280.3 426.3 L279.1 434.5 L275.6 442.9 L272.1 451.4 L270.9 461.5 L269.4 469.5 L270.3 478.3 L272.5 484.9 L275.8 491.5" fill="none" stroke="#b8b8b8" stroke-width="5.89" stroke-opacity="0.35"/><path d="M260.8 419.6 L269.1 420.7 L278.6 418.0" fill="none" stroke="#b8b8b8" stroke-width="4.97" stroke-opacity="0.35"/><path d="M280.6 426.5 L288.6 428.2 L296.9 428.0 L303.5 425.6 L310.1 423.3 L317.4 419.8 L322.2 415.3 L326.7 409.7 L333.9 405.2 L338.8 401.4" fill="none" stroke="#b8b8b8" stroke-width="4.73" stroke-opacity="0.35"/><path d="M293.9 403.4 L295.6 410.7" fill="none" stroke="#b8b8b8" stroke-width="5.41" stroke-opacity="0.35"/><path d="M321.9 414.6 L328.8 417.9 L335.1 419.6 L337.1 426.6 L332.0 431.1 L327.0 436.4 L323.4 442.7 L325.8 449.5" fill="none" stroke="#b8b8b8" stroke-width="4.49" stroke-opacity="0.35"/><path d="M310.6 423.1 L315.0 429.9 L320.7 435.0 L326.8 436.6" fill="none" stroke="#b8b8b8" stroke-width="5.67" stroke-opacity="0.35"/><path d="M336.8 426.4 L343.4 428.1 L348.2 424.8 L353.3 421.8 L362.0 422.0 L370.4 424.6" fill="none" stroke="#b8b8b8" stroke-width="4.88" stroke-opacity="0.35"/><path d="M344.2 430.5 L349.3 437.0" fill="none" stroke="#b8b8b8" stroke-width="4.12" stroke-opacity="0.35"/><path d="M259.8 448.4 L266.0 452.7 L272.3 451.1" fill="none" stroke="#b8b8b8" stroke-width="5.58" stroke-opacity="0.35"/><path d="M278.9 456.9 L286.8 457.9 L295.8 457.0 L302.1 454.6 L307.0 451.7 L311.9 449.1 L318.9 448.5 L325.4 450.1" fill="none" stroke="#b8b8b8" stroke-width="4.79" stroke-opacity="0.35"/><path d="M295.2 440.3 L300.1 446.6 L306.8 451.6" fill="none" stroke="#b8b8b8" stroke-width="5.71" stroke-opacity="0.35"/><path d="M302.1 454.8 L304.1 464.9 L306.9 471.6 L311.8 476.2 L319.1 478.0 L325.2 477.4 L332.0 474.3" fill="none" stroke="#b8b8b8" stroke-width="3.90" stroke-opacity="0.35"/><path d="M325.3 450.2 L328.9 458.1 L331.8 464.7 L332.3 474.7 L333.4 481.2 L328.7 487.7 L325.4 494.2 L322.3 501.0 L316.8 507.9 L311.9 514.8" fill="none" stroke="#b8b8b8" stroke-width="4.91" stroke-opacity="0.35"/><path d="M269.9 476.1 L278.9 474.3 L288.8 474.0 L298.7 474.4 L306.8 471.5" fill="none" stroke="#b8b8b8" stroke-width="4.76" stroke-opacity="0.35"/><path d="M332.2 464.9 L338.8 468.1 L346.8 466.1 L352.1 461.5 L353.2 453.2 L355.3 444.8 L360.4 443.4 L368.4 445.0" fill="none" stroke="#b8b8b8" stroke-width="4.92" stroke-opacity="0.35"/><path d="M352.3 461.5 L360.1 461.1 L370.2 459.7" fill="none" stroke="#b8b8b8" stroke-width="5.60" stroke-opacity="0.35"/><path d="M333.6 481.2 L342.0 479.8 L349.9 477.8 L356.6 474.5 L363.4 474.2 L369.9 476.7" fill="none" stroke="#b8b8b8" stroke-width="4.48" stroke-opacity="0.35"/><path d="M350.3 478.3 L353.7 484.8 L360.4 489.8 L367.1 494.3 L369.8 501.3" fill="none" stroke="#b8b8b8" stroke-width="4.96" stroke-opacity="0.35"/><path d="M328.6 487.9 L336.8 489.4 L343.7 493.0 L347.3 499.4 L347.1 507.5 L352.0 512.6 L360.5 514.9" fill="none" stroke="#b8b8b8" stroke-width="4.39" stroke-opacity="0.35"/><path d="M360.1 489.5 L361.5 498.2 L356.6 504.2 L360.5 514.8" fill="none" stroke="#b8b8b8" stroke-width="4.81" stroke-opacity="0.35"/><path d="M280.2 494.8 L285.6 499.7 L292.5 496.5 L294.7 488.2" fill="none" stroke="#b8b8b8" stroke-width="4.90" stroke-opacity="0.35"/><path d="M260.5 494.2 L267.5 497.8 L270.5 504.4 L267.3 511.1" fill="none" stroke="#b8b8b8" stroke-width="5.64" stroke-opacity="0.35"/><path d="M341.9 410.0 L337.2 420.1" fill="none" stroke="#b8b8b8" stroke-width="5.45" stroke-opacity="0.35"/><path d="M360.3 405.0 L363.3 413.1 L361.8 422.4" fill="none" stroke="#b8b8b8" stroke-width="5.78" stroke-opacity="0.35"/><path d="M311.8 514.7 L323.7 517.0 L333.3 516.1" fill="none" stroke="#b8b8b8" stroke-width="5.57" stroke-opacity="0.35"/><path d="M354.2 476.3h0M356.9 503.4h0" fill="none" stroke="#f4f4f4" stroke-opacity="0.00" stroke-width="0.90"/><path d="M363.9 474.9h0" fill="none" stroke="#f4f4f4" stroke-opacity="0.00" stroke-width="1.40"/><path d="M318.4 445.8h0M347.8 504.6h0M361.2 406.9h0" fill="none" stroke="#f4f4f4" stroke-opacity="0.00" stroke-width="1.40"/><path d="M359.0 511.4h0" fill="none" stroke="#f4f4f4" stroke-opacity="0.00" stroke-width="1.40"/><path d="M337.4 422.9h0M368.4 424.3h0M322.1 502.2h0" fill="none" stroke="#f4f4f4" stroke-opacity="0.00" stroke-width="1.90"/><path d="M273.9 490.7h0M331.3 404.0h0M310.9 513.3h0" fill="none" stroke="#f4f4f4" stroke-opacity="0.00" stroke-width="1.90"/><path d="M293.8 474.8h0" fill="none" stroke="#f4f4f4" stroke-opacity="0.00" stroke-width="1.90"/></g>
<g clip-path="url(#cC3)" filter="url(#bl)" stroke-linecap="round" stroke-linejoin="round"><path d="M279.3 403.6h0M278.5 405.4h0M276.5 409.0h0M276.6 411.0h0M277.5 414.3h0M277.3 419.6h0M278.3 421.2h0M279.7 422.9h0M278.7 423.4h0M282.3 423.4h0M279.0 425.6h0M277.4 426.9h0M280.4 426.9h0M280.9 427.4h0M281.2 428.3h0M280.3 428.8h0M279.3 432.6h0M280.4 434.1h0M279.6 435.3h0M278.4 435.6h0M279.6 436.4h0M275.3 438.0h0M278.1 443.3h0M275.4 443.5h0M276.8 444.6h0M273.4 447.5h0M275.1 449.0h0M275.1 452.3h0M274.0 452.1h0M272.7 452.7h0M272.8 453.3h0M272.8 456.4h0M272.1 458.0h0M271.3 458.3h0M269.0 460.3h0M270.5 463.2h0M271.4 466.8h0M269.0 468.6h0M270.9 472.4h0M269.9 474.3h0M272.8 479.0h0M271.1 480.3h0M274.1 481.5h0M270.3 486.9h0M272.4 486.3h0M274.1 486.9h0M274.3 488.0h0M274.9 488.3h0M273.9 489.6h0M273.9 490.9h0M275.9 490.8h0M260.6 421.6h0M261.3 420.2h0M261.8 421.7h0M263.5 422.6h0M264.3 418.4h0M267.0 418.2h0M268.4 419.6h0M268.9 420.0h0M269.4 420.1h0M272.8 421.6h0M276.4 420.3h0M277.0 420.7h0M283.4 423.8h0M284.0 425.5h0M285.9 427.0h0M286.5 426.1h0M286.6 429.6h0M289.8 425.4h0M290.7 427.9h0M291.8 429.6h0M294.4 426.6h0M296.8 429.6h0M298.7 428.9h0M298.3 426.2h0M299.6 427.7h0M301.4 427.8h0M302.3 426.9h0M302.3 426.0h0M303.0 424.9h0M304.8 425.7h0M306.4 426.4h0M308.1 426.1h0M307.7 422.8h0M308.0 422.6h0M309.7 426.1h0M310.2 425.9h0M309.5 421.0h0M311.8 419.5h0M313.0 420.1h0M314.7 422.1h0M315.1 420.8h0M319.5 419.6h0M323.3 415.0h0M321.9 412.5h0M323.9 412.4h0M324.3 410.7h0M329.5 408.6h0M334.5 405.9h0M335.3 404.0h0M334.4 402.1h0M336.7 403.3h0M338.0 402.2h0M338.1 401.7h0M337.0 399.3h0M291.6 406.5h0M294.2 407.1h0M294.4 408.9h0M322.7 416.9h0M324.6 415.9h0M324.8 416.6h0M326.9 417.3h0M326.7 419.0h0M329.1 417.5h0M330.1 416.5h0M329.1 421.5h0M330.4 418.5h0M331.6 416.6h0M333.5 416.4h0M334.0 422.0h0M335.6 418.7h0M335.7 420.2h0M336.9 421.0h0M333.6 423.3h0M334.8 424.8h0M334.9 427.6h0M332.5 429.6h0M334.0 433.8h0M329.0 433.9h0M330.0 436.1h0M329.5 438.0h0M327.3 437.0h0M323.8 439.6h0M323.6 440.0h0M324.6 444.5h0M326.7 445.6h0M326.1 448.4h0M325.0 449.4h0M327.8 448.9h0M311.3 424.0h0M310.5 426.4h0M313.1 424.8h0M311.0 427.1h0M314.0 425.4h0M312.1 428.2h0M315.3 426.1h0M314.8 428.0h0M315.9 430.4h0M317.1 429.9h0M318.1 433.7h0M317.8 435.4h0M321.2 431.4h0M322.5 434.9h0M325.6 434.3h0M338.2 423.2h0M339.4 430.9h0M340.6 427.9h0M341.7 426.4h0M341.8 428.0h0M343.0 427.1h0M345.6 427.5h0M348.7 424.7h0M349.5 423.9h0M350.1 422.3h0M353.6 423.9h0M353.2 422.3h0M356.8 423.0h0M358.4 424.4h0M359.0 421.4h0M359.7 421.5h0M361.6 422.6h0M362.4 422.1h0M362.7 423.1h0M364.4 422.8h0M364.8 426.2h0M366.5 422.1h0M367.3 422.1h0M367.6 422.8h0M367.1 426.1h0M368.1 425.5h0M347.8 431.6h0M347.6 432.6h0M346.3 434.1h0M349.5 432.6h0M346.4 435.8h0M349.8 433.8h0M351.2 436.0h0M259.5 448.5h0M259.4 449.4h0M261.5 448.1h0M261.7 448.8h0M263.0 450.6h0M265.5 452.6h0M265.9 453.6h0M267.0 455.0h0M267.8 452.5h0M271.6 454.4h0M272.0 454.2h0M279.2 458.7h0M281.2 458.6h0M283.3 459.9h0M285.2 456.2h0M285.8 460.5h0M286.5 456.5h0M287.7 456.0h0M289.9 456.5h0M291.3 458.6h0M292.7 460.9h0M293.2 457.9h0M293.9 460.0h0M295.7 459.6h0M297.2 459.1h0M299.5 454.6h0M303.3 458.0h0M301.0 451.0h0M304.9 454.8h0M303.4 451.6h0M306.6 454.0h0M308.1 451.3h0M310.6 450.6h0M310.8 450.0h0M312.9 446.5h0M315.2 449.8h0M317.0 449.0h0M317.6 447.8h0M318.9 446.5h0M320.0 447.8h0M320.2 449.0h0M321.0 448.8h0M323.7 446.5h0M298.4 442.7h0M299.9 446.3h0M301.1 449.1h0M306.8 446.4h0M305.4 449.3h0M305.9 451.3h0M301.9 455.1h0M302.7 456.5h0M301.1 458.6h0M304.9 459.2h0M302.9 462.0h0M302.1 462.6h0M303.6 465.2h0M305.2 464.9h0M302.7 466.9h0M307.3 466.2h0M304.7 468.7h0M307.1 468.8h0M306.9 469.8h0M312.5 470.8h0M311.2 476.4h0M313.1 476.6h0M313.6 477.0h0M314.9 474.6h0M315.3 475.5h0M318.3 479.6h0M319.5 480.6h0M319.8 479.4h0M319.8 477.0h0M320.8 478.0h0M320.9 474.6h0M322.5 478.6h0M323.8 476.4h0M325.2 476.0h0M325.6 475.7h0M327.1 478.9h0M329.7 474.6h0M331.0 476.3h0M327.4 449.6h0M327.2 451.0h0M326.5 454.3h0M326.6 454.9h0M330.5 457.0h0M327.3 459.6h0M328.2 461.0h0M331.6 465.3h0M332.0 465.9h0M334.0 467.0h0M333.8 468.2h0M333.7 469.0h0M333.0 469.5h0M331.0 470.3h0M330.9 471.1h0M332.0 472.9h0M331.3 473.4h0M333.3 474.3h0M332.2 475.2h0M334.2 477.4h0M334.2 477.9h0M332.1 480.0h0M334.5 480.1h0M334.3 480.7h0M333.8 481.9h0M328.5 484.4h0M327.5 484.2h0M329.9 487.4h0M327.8 486.4h0M329.6 489.1h0M326.6 489.9h0M329.1 492.2h0M325.4 491.2h0M327.3 494.2h0M324.4 496.4h0M321.9 497.0h0M319.8 502.3h0M319.9 503.0h0M318.0 503.1h0M319.0 506.9h0M318.1 510.2h0M316.5 509.5h0M314.2 509.9h0M312.2 512.3h0M271.9 475.5h0M272.4 476.6h0M274.0 476.2h0M275.7 477.5h0M276.6 477.5h0M277.2 476.3h0M278.1 474.1h0M279.2 475.9h0M281.6 476.3h0M282.6 472.2h0M285.1 476.1h0M286.4 474.8h0M287.2 474.4h0M290.5 474.2h0M291.2 473.4h0M292.9 473.6h0M293.6 473.9h0M294.7 476.1h0M297.1 474.7h0M303.0 476.7h0M304.8 474.0h0M305.4 474.2h0M305.2 472.5h0M333.1 465.7h0M334.7 469.3h0M337.2 466.8h0M338.8 465.2h0M337.3 468.9h0M338.8 467.5h0M338.9 467.1h0M340.6 468.5h0M342.1 468.8h0M343.5 468.6h0M344.3 466.7h0M345.9 465.2h0M347.9 464.7h0M349.1 465.1h0M351.0 463.7h0M350.2 461.1h0M351.3 459.5h0M353.5 459.2h0M352.3 457.2h0M355.0 452.8h0M355.3 451.6h0M353.2 448.7h0M356.6 447.6h0M355.7 445.5h0M359.0 442.0h0M361.4 439.1h0M360.9 445.4h0M361.3 445.7h0M363.8 445.0h0M365.3 441.9h0M352.1 461.8h0M354.7 460.0h0M356.5 460.1h0M357.6 460.2h0M358.9 464.2h0M360.0 462.0h0M360.2 462.5h0M363.6 459.5h0M365.9 458.6h0M366.9 459.4h0M369.0 460.4h0M370.6 462.5h0M335.7 481.6h0M340.1 478.7h0M341.1 482.1h0M341.3 478.1h0M345.0 481.4h0M347.1 477.9h0M347.6 478.2h0M348.9 478.4h0M351.2 478.4h0M353.4 476.1h0M354.3 474.9h0M356.5 477.7h0M356.3 475.8h0M357.0 473.8h0M360.0 475.9h0M366.0 474.2h0M366.4 476.2h0M367.1 476.2h0M368.5 478.2h0M370.2 476.0h0M353.9 478.5h0M353.7 479.4h0M351.3 481.9h0M354.5 483.4h0M353.0 486.9h0M355.5 484.6h0M355.6 485.7h0M356.6 485.1h0M358.1 485.1h0M359.2 487.2h0M358.5 488.8h0M359.8 491.0h0M360.4 491.5h0M362.9 491.8h0M364.5 490.5h0M366.2 493.0h0M369.1 498.2h0M368.2 500.7h0M369.0 500.9h0M329.1 487.9h0M330.1 486.8h0M330.4 488.5h0M333.0 487.9h0M334.0 488.2h0M336.0 488.1h0M337.1 488.7h0M339.1 492.3h0M340.5 492.5h0M340.9 495.5h0M341.3 494.3h0M344.1 495.2h0M345.8 496.7h0M347.1 497.8h0M344.2 499.3h0M344.7 499.7h0M346.1 500.3h0M347.3 502.9h0M345.5 503.3h0M348.0 507.5h0M348.5 512.3h0M351.6 510.3h0M351.7 511.7h0M353.0 512.1h0M354.3 515.1h0M355.1 515.4h0M356.8 512.9h0M358.2 514.4h0M360.0 514.6h0M362.4 491.2h0M360.7 494.9h0M361.0 496.1h0M364.4 496.3h0M364.8 500.4h0M359.9 499.7h0M360.7 500.9h0M358.6 501.0h0M359.3 502.3h0M358.2 502.4h0M356.0 502.6h0M358.2 504.5h0M354.5 507.0h0M361.1 505.8h0M355.7 508.8h0M358.8 508.5h0M356.4 512.4h0M361.5 514.2h0M280.7 496.5h0M281.9 496.3h0M285.9 496.0h0M284.1 500.0h0M287.1 501.2h0M286.0 497.6h0M286.3 496.8h0M286.8 496.5h0M289.5 496.0h0M292.7 495.9h0M291.8 491.6h0M292.5 491.3h0M293.8 491.0h0M291.7 488.7h0M262.3 492.0h0M264.1 495.3h0M267.3 498.0h0M270.2 498.4h0M270.2 502.6h0M267.4 504.6h0M272.3 506.1h0M270.8 508.0h0M270.1 508.5h0M341.1 412.9h0M338.9 412.4h0M340.5 414.6h0M339.6 417.3h0M336.9 416.7h0M340.0 418.8h0M338.6 418.8h0M361.4 404.8h0M359.9 406.4h0M361.3 408.8h0M361.2 413.0h0M360.9 413.7h0M361.9 412.8h0M362.1 413.3h0M363.8 414.9h0M361.4 418.4h0M311.7 517.0h0M313.8 517.6h0M316.6 512.4h0M319.1 517.8h0M320.5 513.1h0M320.9 517.4h0M323.9 514.5h0M325.8 518.4h0M330.9 518.5h0M331.8 512.4h0" fill="none" stroke="#303030" stroke-opacity="0.5" stroke-width="1.2"/><path d="M275.3 401.6h0M277.2 406.3h0M278.9 423.0h0M272.9 451.9h0M271.4 462.1h0M269.3 464.4h0M269.5 464.9h0M269.0 470.8h0M269.1 477.5h0M273.5 485.8h0M278.9 419.6h0M285.3 427.5h0M303.5 426.1h0M311.4 421.9h0M312.6 420.8h0M317.5 421.2h0M335.8 402.2h0M293.2 405.5h0M324.5 418.4h0M326.2 416.0h0M329.7 417.6h0M331.5 419.0h0M335.2 429.1h0M331.2 429.1h0M327.2 438.5h0M324.2 441.8h0M315.7 426.7h0M322.8 433.8h0M341.6 429.1h0M347.3 425.1h0M354.2 424.9h0M354.0 423.5h0M355.2 421.4h0M362.6 421.3h0M261.0 448.7h0M264.9 450.6h0M266.4 452.5h0M268.0 453.4h0M268.5 450.2h0M293.1 456.8h0M304.3 453.9h0M306.5 451.2h0M310.0 449.4h0M312.5 448.5h0M318.3 446.8h0M298.4 446.9h0M300.8 445.6h0M304.7 450.2h0M304.1 465.4h0M307.7 469.0h0M305.5 470.5h0M307.6 472.9h0M311.7 471.7h0M310.4 475.2h0M319.3 479.5h0M330.2 476.0h0M328.9 455.9h0M328.5 456.7h0M328.6 459.0h0M329.3 460.5h0M332.5 473.9h0M334.7 482.6h0M326.4 491.7h0M323.2 498.7h0M319.1 505.0h0M296.7 472.9h0M300.5 475.5h0M348.9 465.8h0M352.0 462.3h0M353.1 453.0h0M352.6 451.6h0M352.2 462.8h0M357.0 460.9h0M343.6 480.2h0M350.1 478.1h0M365.3 473.7h0M370.6 474.7h0M353.9 481.3h0M354.6 485.7h0M357.5 485.8h0M335.8 491.2h0M339.0 491.4h0M350.3 507.8h0M359.6 492.2h0M358.7 503.4h0M355.6 503.6h0M358.2 509.2h0M289.0 497.6h0M292.1 496.9h0M263.3 492.2h0M266.3 498.2h0M268.5 500.8h0M270.6 507.1h0M269.9 507.6h0M340.9 411.3h0M340.3 412.0h0M337.3 413.8h0M337.2 415.6h0M361.4 405.9h0M363.9 410.9h0M360.5 417.7h0" fill="none" stroke="#f4f4f4" stroke-opacity="0.43" stroke-width="0.90"/><path d="M276.0 405.3h0M278.1 409.1h0M277.2 410.4h0M275.9 412.6h0M276.7 414.5h0M279.0 421.9h0M281.0 423.6h0M277.9 431.2h0M276.7 437.4h0M274.1 445.0h0M271.8 449.6h0M272.6 454.0h0M272.1 454.5h0M272.6 455.6h0M271.6 456.1h0M272.7 457.6h0M271.2 457.9h0M272.4 458.5h0M273.0 459.7h0M272.9 463.0h0M272.0 463.4h0M271.5 469.4h0M271.8 478.1h0M271.5 480.8h0M272.7 487.5h0M273.5 489.0h0M274.8 490.5h0M261.2 421.6h0M263.5 421.2h0M275.2 419.8h0M295.6 426.6h0M296.3 429.8h0M296.7 430.6h0M298.3 427.8h0M300.0 427.2h0M301.8 424.8h0M307.1 425.0h0M309.8 424.5h0M311.7 424.0h0M317.1 419.0h0M324.4 413.6h0M328.6 407.4h0M330.8 407.2h0M330.8 406.1h0M335.1 404.8h0M334.8 401.5h0M337.3 403.2h0M325.2 414.7h0M336.2 420.6h0M335.5 421.4h0M334.9 429.7h0M334.2 430.9h0M330.9 431.6h0M328.9 434.4h0M328.1 438.2h0M323.5 440.8h0M325.4 444.0h0M324.7 443.9h0M316.5 429.8h0M344.3 428.0h0M346.8 426.1h0M349.4 422.5h0M353.9 422.8h0M356.4 422.7h0M357.4 420.9h0M359.6 422.3h0M363.0 423.9h0M366.3 422.9h0M366.9 423.3h0M367.5 425.0h0M368.9 424.2h0M347.5 433.2h0M348.8 434.6h0M261.0 449.6h0M272.1 452.2h0M280.9 457.2h0M282.3 458.4h0M283.2 456.2h0M283.3 459.1h0M286.4 457.4h0M289.8 459.7h0M291.6 456.4h0M299.9 455.8h0M308.6 450.7h0M297.8 443.9h0M299.1 443.9h0M300.3 444.4h0M304.2 455.5h0M302.5 458.4h0M303.4 459.4h0M304.1 461.8h0M302.6 463.5h0M309.5 473.0h0M312.5 475.0h0M314.0 475.9h0M325.5 476.9h0M331.5 461.4h0M329.9 463.2h0M333.7 474.9h0M330.5 487.9h0M327.8 487.7h0M327.6 490.4h0M328.3 491.3h0M320.6 502.0h0M319.2 503.9h0M316.9 506.7h0M316.9 511.5h0M313.0 513.0h0M313.9 514.4h0M280.1 472.7h0M288.8 475.3h0M292.8 475.2h0M296.0 474.5h0M302.7 473.7h0M303.7 473.4h0M305.7 473.9h0M306.6 472.9h0M334.8 464.8h0M334.2 466.7h0M334.9 466.9h0M344.3 463.9h0M353.7 450.5h0M355.7 450.1h0M356.6 444.1h0M357.1 444.6h0M361.2 440.4h0M366.2 446.8h0M353.2 462.6h0M356.1 461.1h0M359.9 460.9h0M361.6 459.9h0M363.6 462.0h0M364.4 460.7h0M340.9 477.7h0M349.2 479.9h0M353.0 479.1h0M354.4 476.6h0M356.7 475.0h0M359.3 474.3h0M364.2 475.1h0M367.8 476.2h0M350.5 479.4h0M352.4 480.7h0M356.7 489.3h0M360.9 488.6h0M360.6 489.9h0M365.9 495.2h0M369.2 496.2h0M368.0 497.4h0M369.2 501.5h0M328.8 489.1h0M335.7 489.4h0M338.9 487.6h0M344.0 491.7h0M342.7 493.6h0M346.4 495.2h0M345.8 503.8h0M346.4 506.8h0M351.6 508.4h0M349.2 511.6h0M356.5 514.4h0M362.3 492.4h0M359.9 494.5h0M363.6 499.5h0M361.1 498.3h0M359.7 500.2h0M284.6 499.0h0M286.9 497.9h0M290.2 497.2h0M293.4 494.2h0M292.8 493.0h0M292.5 490.0h0M260.2 495.0h0M261.1 495.5h0M340.4 411.5h0M336.8 419.9h0M362.4 409.6h0M360.4 419.4h0M359.4 420.0h0M358.5 420.3h0M362.6 422.7h0M318.3 518.5h0M324.0 515.3h0M324.7 517.0h0M327.2 516.0h0M333.7 517.5h0" fill="none" stroke="#f4f4f4" stroke-opacity="0.69" stroke-width="0.90"/><path d="M277.7 411.5h0M278.6 419.0h0M279.6 427.2h0M280.8 432.9h0M275.3 446.3h0M271.9 450.2h0M269.9 466.7h0M271.7 486.2h0M269.9 419.6h0M277.3 419.7h0M286.3 427.1h0M292.5 427.9h0M296.8 427.4h0M309.3 424.7h0M313.5 421.1h0M317.7 418.6h0M324.2 411.7h0M294.1 404.2h0M292.8 406.3h0M295.3 408.8h0M329.4 420.5h0M336.9 425.8h0M322.5 444.2h0M325.0 445.6h0M309.6 424.8h0M313.3 427.1h0M316.0 430.8h0M343.5 426.8h0M351.4 423.0h0M364.7 421.7h0M347.4 435.1h0M267.3 453.1h0M280.2 458.5h0M314.7 447.8h0M315.1 448.4h0M301.9 448.0h0M308.0 449.4h0M303.9 454.4h0M301.6 456.6h0M303.5 463.9h0M305.9 466.9h0M311.5 475.2h0M316.2 477.0h0M320.6 477.1h0M321.1 475.6h0M324.5 476.1h0M327.9 474.1h0M331.7 474.4h0M331.1 461.0h0M332.0 469.6h0M332.1 474.3h0M332.7 476.7h0M333.3 479.8h0M330.3 485.3h0M326.1 493.1h0M314.2 511.3h0M273.9 474.8h0M275.6 476.5h0M279.9 474.7h0M283.6 475.6h0M285.4 474.6h0M291.9 472.8h0M335.5 466.9h0M340.9 466.6h0M344.6 468.2h0M348.7 466.5h0M352.8 459.8h0M362.6 444.9h0M352.7 461.6h0M354.1 462.8h0M356.5 461.2h0M363.9 460.9h0M370.3 461.2h0M335.9 483.2h0M337.5 481.2h0M340.3 480.2h0M340.9 480.9h0M344.2 480.2h0M346.1 478.5h0M368.3 476.2h0M351.2 478.6h0M353.4 482.5h0M353.2 483.3h0M357.6 487.1h0M358.2 490.3h0M361.3 490.2h0M365.6 493.9h0M369.3 499.6h0M332.7 489.1h0M341.3 493.0h0M348.7 502.9h0M352.3 511.0h0M353.1 514.4h0M354.9 514.6h0M359.9 512.3h0M359.9 510.8h0M282.7 495.6h0M285.0 496.7h0M287.5 497.8h0M292.1 495.2h0M268.2 504.2h0M339.5 416.0h0M365.0 417.0h0M362.2 421.6h0M329.1 517.7h0" fill="none" stroke="#f4f4f4" stroke-opacity="0.95" stroke-width="0.90"/><path d="M277.7 408.8h0M278.5 412.5h0M276.6 413.7h0M278.8 416.1h0M280.0 423.2h0M281.2 427.1h0M282.0 430.6h0M276.7 441.1h0M275.6 441.4h0M276.8 442.9h0M272.1 449.2h0M271.8 453.1h0M271.3 454.9h0M271.5 463.9h0M269.5 467.4h0M271.1 474.2h0M270.0 476.4h0M272.6 481.9h0M273.1 488.6h0M277.0 490.3h0M264.2 420.0h0M268.8 421.2h0M271.8 419.5h0M272.5 420.2h0M278.2 419.2h0M283.2 425.0h0M283.4 426.2h0M284.1 426.9h0M288.6 428.7h0M293.3 426.8h0M293.9 428.8h0M297.8 428.2h0M308.4 424.0h0M309.8 422.8h0M310.2 422.3h0M315.8 421.9h0M316.1 421.5h0M320.7 418.2h0M321.5 414.7h0M324.7 410.1h0M328.0 411.0h0M327.7 409.4h0M332.8 405.4h0M334.7 403.1h0M337.4 402.6h0M337.4 401.4h0M292.8 407.4h0M294.1 407.8h0M330.1 419.6h0M331.2 418.0h0M331.4 421.8h0M336.5 422.9h0M336.3 424.8h0M336.7 427.6h0M333.2 430.4h0M333.2 432.2h0M330.8 433.8h0M330.3 437.2h0M328.0 437.5h0M323.5 447.9h0M311.6 424.3h0M317.1 428.3h0M320.9 432.6h0M320.9 435.2h0M339.2 429.0h0M342.4 427.8h0M345.4 428.4h0M344.8 426.4h0M364.9 424.2h0M367.9 421.9h0M266.2 454.8h0M279.8 457.6h0M283.9 457.2h0M290.0 457.4h0M295.1 458.8h0M295.6 458.1h0M296.8 458.2h0M297.1 457.6h0M301.8 452.3h0M319.2 448.9h0M323.6 449.1h0M297.6 443.3h0M303.2 447.1h0M305.2 452.2h0M304.9 469.1h0M307.4 472.4h0M315.6 477.8h0M317.7 478.0h0M318.2 478.2h0M320.0 477.9h0M322.6 475.8h0M324.1 477.7h0M327.2 476.9h0M328.0 476.1h0M325.3 450.1h0M326.1 450.2h0M326.1 451.5h0M327.8 454.3h0M328.3 455.2h0M329.6 461.0h0M332.1 464.5h0M333.0 465.9h0M333.4 477.6h0M333.1 478.1h0M328.3 488.5h0M329.4 490.8h0M325.7 492.1h0M326.4 494.6h0M323.6 501.1h0M320.9 503.0h0M317.4 508.1h0M316.8 510.4h0M315.1 514.1h0M270.7 474.8h0M273.1 476.4h0M277.7 475.5h0M280.6 472.9h0M298.0 473.8h0M338.4 466.0h0M338.8 468.6h0M339.2 468.3h0M339.7 466.9h0M342.1 465.7h0M343.3 467.8h0M348.5 464.4h0M349.6 462.9h0M351.7 460.9h0M350.9 460.2h0M353.9 458.8h0M353.8 456.6h0M350.4 455.6h0M356.0 447.9h0M364.8 447.2h0M367.7 442.5h0M358.2 460.8h0M366.3 458.6h0M334.7 480.5h0M347.3 478.7h0M347.9 479.6h0M366.8 474.8h0M352.7 479.9h0M353.4 482.1h0M356.8 485.8h0M359.9 489.3h0M370.1 497.8h0M330.2 489.6h0M331.0 489.0h0M332.0 489.7h0M334.8 487.8h0M338.5 493.6h0M341.0 491.5h0M348.6 497.8h0M345.9 499.7h0M354.0 513.0h0M354.6 513.8h0M358.5 513.3h0M360.8 499.5h0M358.6 501.8h0M359.8 506.2h0M281.3 495.0h0M284.5 498.2h0M286.3 500.7h0M289.4 497.1h0M261.6 493.3h0M262.1 495.3h0M263.9 497.1h0M263.7 498.8h0M269.3 498.8h0M267.5 501.9h0M266.7 503.8h0M271.5 507.0h0M269.6 511.6h0M265.6 510.0h0M340.9 409.4h0M340.4 412.5h0M339.1 415.2h0M337.9 417.2h0M338.3 420.1h0M362.7 407.6h0M362.5 412.4h0M362.0 413.2h0M360.2 415.5h0M361.2 417.2h0M361.5 422.1h0M314.0 516.8h0M316.4 517.8h0M320.2 514.5h0M322.0 516.6h0M328.4 515.4h0" fill="none" stroke="#f4f4f4" stroke-opacity="0.43" stroke-width="1.45"/><path d="M276.0 402.0h0M276.5 407.8h0M276.4 409.8h0M277.5 410.8h0M278.1 415.2h0M278.9 416.8h0M279.7 422.2h0M279.0 425.0h0M280.3 425.4h0M278.7 426.7h0M279.9 432.0h0M277.3 436.5h0M276.4 436.6h0M276.2 438.3h0M277.0 439.1h0M277.3 440.6h0M274.5 441.5h0M276.7 443.6h0M274.2 444.3h0M275.1 447.5h0M274.4 448.6h0M274.5 449.4h0M273.6 451.7h0M273.8 452.9h0M271.2 458.8h0M270.3 468.2h0M269.5 469.7h0M271.2 473.1h0M270.2 473.6h0M271.5 479.4h0M271.0 481.7h0M272.5 482.5h0M271.5 483.4h0M273.5 484.1h0M273.0 484.8h0M276.4 486.5h0M274.7 489.2h0M262.5 418.4h0M263.1 420.5h0M266.2 421.9h0M267.6 422.5h0M271.4 420.1h0M273.7 420.8h0M273.8 418.5h0M276.2 419.2h0M277.2 421.6h0M277.8 420.1h0M281.8 425.5h0M282.5 425.5h0M283.7 426.8h0M284.8 426.9h0M285.6 428.3h0M287.2 429.1h0M288.4 426.8h0M290.2 427.6h0M291.3 429.3h0M291.8 428.4h0M294.4 427.7h0M294.8 429.5h0M298.7 427.1h0M299.9 428.5h0M300.4 426.9h0M300.9 426.5h0M301.3 426.4h0M303.8 425.6h0M303.9 424.2h0M306.6 425.2h0M307.7 424.8h0M312.4 421.5h0M314.6 421.2h0M316.4 420.4h0M318.7 418.9h0M318.2 417.7h0M321.7 414.2h0M322.6 414.2h0M322.5 413.2h0M329.6 409.7h0M330.4 409.0h0M329.7 406.9h0M333.8 405.0h0M334.1 404.5h0M322.4 416.1h0M324.0 415.6h0M326.8 415.9h0M326.3 418.5h0M328.2 417.0h0M328.8 418.4h0M335.0 422.9h0M336.8 423.6h0M335.7 424.5h0M336.7 425.3h0M336.6 428.2h0M335.6 428.5h0M333.6 429.2h0M329.8 434.6h0M327.5 439.4h0M326.5 440.8h0M324.8 440.8h0M325.5 443.4h0M325.2 442.4h0M325.6 446.0h0M323.0 447.4h0M326.5 448.9h0M315.0 429.3h0M314.0 433.4h0M317.3 431.4h0M316.2 433.0h0M318.0 432.1h0M318.6 434.6h0M320.3 434.0h0M321.6 435.6h0M323.0 435.6h0M324.3 437.8h0M327.1 433.6h0M338.7 426.6h0M339.7 429.6h0M341.4 427.6h0M342.6 428.4h0M347.0 428.5h0M349.2 425.5h0M351.2 421.5h0M358.4 422.9h0M361.2 422.0h0M361.9 421.5h0M369.3 424.9h0M345.1 431.1h0M343.5 433.5h0M345.5 432.7h0M348.3 435.9h0M348.4 436.7h0M349.8 436.3h0M261.6 449.8h0M262.2 450.7h0M263.9 449.7h0M266.1 451.9h0M266.8 454.1h0M269.3 451.3h0M279.3 457.6h0M282.0 457.1h0M285.5 457.3h0M285.8 459.5h0M287.4 457.0h0M287.8 457.1h0M290.9 458.9h0M292.6 459.7h0M293.8 458.7h0M296.1 458.1h0M298.9 457.7h0M300.4 455.8h0M301.0 454.1h0M302.8 456.8h0M305.8 454.2h0M306.7 450.3h0M309.9 450.5h0M311.1 448.9h0M313.7 448.9h0M314.4 449.5h0M316.6 450.4h0M316.9 447.5h0M319.8 448.8h0M320.4 448.2h0M321.8 448.1h0M322.6 448.6h0M325.2 449.8h0M297.3 440.2h0M295.9 443.2h0M298.5 444.0h0M301.0 447.2h0M302.7 448.6h0M304.4 452.2h0M302.4 457.8h0M302.2 460.2h0M303.2 462.4h0M302.5 464.7h0M305.4 466.5h0M308.0 466.7h0M303.3 469.4h0M305.3 471.5h0M308.2 472.9h0M309.7 471.9h0M310.2 477.5h0M314.5 475.8h0M315.9 475.0h0M317.1 478.4h0M323.3 477.2h0M329.7 475.9h0M327.0 452.2h0M327.0 452.7h0M326.0 453.8h0M327.3 453.9h0M328.8 457.4h0M330.8 458.7h0M328.9 460.2h0M331.3 463.2h0M331.5 463.6h0M332.7 467.1h0M332.9 469.0h0M332.3 471.0h0M330.5 473.0h0M334.0 475.8h0M331.8 485.0h0M331.3 485.4h0M328.7 485.1h0M328.0 489.1h0M328.2 491.7h0M324.7 494.3h0M325.4 496.9h0M324.2 497.7h0M323.8 498.5h0M321.5 499.1h0M320.0 505.0h0M318.8 507.4h0M317.5 507.6h0M317.1 508.7h0M270.3 475.5h0M271.4 474.5h0M272.3 475.6h0M273.6 475.9h0M274.4 475.6h0M275.8 474.9h0M277.0 475.1h0M278.8 476.0h0M281.5 474.8h0M282.8 473.8h0M284.3 473.4h0M286.3 473.6h0M287.3 475.6h0M289.4 472.8h0M292.5 474.2h0M293.7 472.8h0M294.3 473.4h0M294.7 475.2h0M297.1 473.3h0M300.2 475.7h0M305.4 471.6h0M333.6 464.8h0M335.1 468.5h0M337.6 465.2h0M336.6 467.8h0M337.8 468.0h0M345.7 466.6h0M346.3 466.0h0M347.5 466.2h0M350.0 464.0h0M350.1 462.8h0M350.9 461.8h0M351.1 460.9h0M351.3 457.0h0M351.9 455.1h0M351.3 453.9h0M357.2 450.0h0M354.5 448.9h0M355.1 447.3h0M355.9 444.6h0M358.0 445.0h0M358.0 443.0h0M358.8 443.5h0M359.3 443.3h0M361.6 444.2h0M368.1 443.6h0M357.7 461.7h0M358.9 462.6h0M360.0 461.2h0M365.4 459.0h0M366.1 460.0h0M369.4 460.2h0M334.1 480.1h0M337.7 478.7h0M344.7 479.9h0M345.9 480.5h0M348.0 477.8h0M349.4 477.5h0M351.8 474.3h0M354.1 477.4h0M358.5 473.2h0M360.8 474.0h0M361.9 473.8h0M368.9 476.8h0M369.2 477.8h0M353.3 483.8h0M353.8 484.2h0M353.9 485.9h0M356.7 487.5h0M358.4 488.2h0M362.1 492.8h0M364.1 493.7h0M368.3 495.8h0M329.9 487.7h0M331.8 488.3h0M333.7 489.6h0M337.4 487.1h0M338.5 490.0h0M341.4 494.5h0M343.5 494.0h0M346.1 493.2h0M345.4 494.5h0M345.7 496.0h0M345.6 498.5h0M347.3 500.3h0M346.8 502.2h0M347.0 503.3h0M345.7 506.3h0M348.1 509.3h0M347.7 511.1h0M349.2 510.3h0M350.3 512.2h0M353.3 511.1h0M355.4 514.2h0M356.0 514.0h0M357.3 515.5h0M358.9 513.6h0M361.3 490.2h0M359.3 493.5h0M361.9 496.0h0M360.8 498.8h0M359.2 499.2h0M357.1 501.6h0M358.9 507.1h0M356.8 508.4h0M359.7 508.3h0M359.5 510.2h0M357.7 512.0h0M359.6 512.7h0M360.4 514.5h0M281.7 495.6h0M283.0 496.9h0M282.7 498.0h0M286.6 500.3h0M286.4 498.3h0M288.9 499.3h0M291.2 496.9h0M291.6 496.8h0M291.7 495.6h0M293.2 492.6h0M292.6 490.6h0M295.1 489.1h0M263.1 495.0h0M262.7 496.8h0M263.7 496.1h0M266.0 497.7h0M267.2 497.4h0M268.0 496.8h0M266.2 498.6h0M268.4 498.2h0M268.3 498.7h0M267.2 503.0h0M269.1 503.2h0M270.0 504.4h0M270.9 505.9h0M269.3 508.1h0M269.9 509.1h0M267.5 508.4h0M268.7 509.6h0M340.7 410.5h0M339.9 412.9h0M338.6 416.8h0M337.3 419.0h0M362.2 404.5h0M361.0 407.6h0M362.6 408.3h0M363.4 410.1h0M361.3 411.5h0M363.7 411.4h0M364.2 414.3h0M312.0 515.5h0M314.6 517.3h0M315.7 515.0h0M317.6 513.9h0M320.4 516.3h0M327.8 514.9h0M330.7 516.9h0M330.9 514.7h0M332.6 516.4h0" fill="none" stroke="#f4f4f4" stroke-opacity="0.69" stroke-width="1.45"/><path d="M274.6 400.2h0M276.4 400.6h0M276.6 402.4h0M277.9 408.2h0M279.0 417.6h0M279.9 419.8h0M280.4 420.3h0M279.8 421.0h0M279.4 424.2h0M281.1 425.9h0M280.4 428.1h0M279.0 428.6h0M280.2 434.5h0M278.7 440.4h0M275.6 444.1h0M269.4 459.7h0M270.4 468.7h0M267.9 471.6h0M270.0 474.8h0M271.2 475.5h0M271.2 478.9h0M275.1 485.6h0M274.4 489.9h0M261.9 420.6h0M264.7 419.8h0M270.3 419.1h0M271.2 421.6h0M275.0 421.7h0M286.8 428.6h0M301.9 426.0h0M305.1 426.6h0M305.0 423.9h0M308.1 424.2h0M314.2 421.2h0M319.4 417.8h0M320.3 416.2h0M319.4 414.6h0M321.8 416.3h0M323.3 411.7h0M326.1 410.8h0M331.1 405.7h0M331.7 405.8h0M334.4 406.7h0M294.8 408.2h0M322.5 414.1h0M327.4 417.6h0M328.4 417.9h0M334.7 420.5h0M335.6 426.8h0M336.8 426.8h0M327.4 435.3h0M328.4 437.0h0M328.8 438.2h0M327.0 439.5h0M322.6 445.8h0M325.2 448.8h0M326.6 449.3h0M311.7 425.4h0M312.9 426.3h0M314.3 426.9h0M318.9 433.5h0M338.5 424.6h0M339.1 427.0h0M346.7 427.0h0M346.3 424.5h0M360.2 421.4h0M360.8 418.6h0M365.6 420.8h0M345.0 431.7h0M346.9 432.3h0M263.1 449.0h0M265.1 451.1h0M271.8 453.2h0M281.2 457.6h0M284.4 457.4h0M285.1 457.2h0M288.5 458.6h0M291.5 460.1h0M294.4 456.7h0M297.5 457.3h0M299.4 457.7h0M299.7 456.6h0M303.5 454.0h0M304.2 452.8h0M304.9 450.7h0M312.0 449.0h0M317.7 449.2h0M319.0 447.9h0M323.3 448.0h0M323.7 450.6h0M324.9 448.1h0M303.0 455.0h0M303.4 456.9h0M302.4 460.9h0M301.8 461.5h0M303.1 462.9h0M305.7 469.4h0M327.1 475.3h0M331.2 474.6h0M326.0 452.1h0M327.0 455.2h0M329.9 457.8h0M330.0 462.7h0M332.3 468.3h0M331.6 471.5h0M333.6 475.4h0M333.0 478.8h0M331.7 483.5h0M329.7 486.6h0M329.0 487.3h0M325.4 495.4h0M322.8 497.5h0M321.6 498.7h0M322.6 501.0h0M320.9 504.3h0M319.6 506.7h0M318.0 506.2h0M315.8 509.0h0M278.2 474.9h0M282.3 476.5h0M284.9 474.8h0M289.9 473.9h0M290.4 475.4h0M300.4 472.9h0M302.8 472.9h0M304.3 472.7h0M338.2 468.5h0M347.0 466.3h0M355.8 453.0h0M356.0 448.7h0M362.2 444.8h0M363.7 442.9h0M353.6 460.8h0M360.4 461.4h0M362.4 462.3h0M367.7 460.1h0M335.4 482.1h0M338.5 480.2h0M341.1 477.1h0M355.0 476.3h0M353.0 479.0h0M355.8 486.1h0M361.4 491.0h0M362.1 491.1h0M362.6 491.2h0M367.7 494.0h0M368.0 495.1h0M333.6 487.2h0M340.3 491.2h0M344.4 497.4h0M344.4 497.9h0M345.4 499.3h0M347.1 501.5h0M347.3 507.2h0M347.6 508.8h0M350.5 511.4h0M352.1 513.8h0M356.9 514.3h0M359.1 494.1h0M358.9 504.1h0M357.4 504.8h0M288.5 497.8h0M290.7 497.3h0M292.4 494.6h0M292.7 493.5h0M291.8 491.0h0M265.6 497.4h0M267.9 500.4h0M270.9 505.4h0M268.9 510.5h0M342.8 410.9h0M338.9 418.2h0M361.2 405.5h0M360.4 407.1h0M360.6 418.2h0M312.4 516.0h0M312.6 517.6h0M313.6 515.4h0M316.4 514.0h0M319.4 516.5h0M320.7 518.3h0M331.9 513.8h0" fill="none" stroke="#f4f4f4" stroke-opacity="0.95" stroke-width="1.45"/><path d="M276.4 404.7h0M272.3 452.2h0M269.6 465.5h0M272.2 479.9h0M267.1 421.7h0M268.3 420.8h0M272.8 419.0h0M289.8 426.6h0M290.7 429.2h0M312.5 422.8h0M326.8 410.3h0M335.0 402.8h0M337.9 400.4h0M293.5 406.6h0M332.4 422.5h0M336.3 428.5h0M333.2 432.8h0M330.9 433.0h0M310.8 423.0h0M315.6 427.4h0M318.6 432.4h0M318.9 433.0h0M319.6 435.2h0M323.8 435.0h0M350.3 425.2h0M348.5 433.3h0M350.2 436.7h0M260.3 448.4h0M270.3 453.7h0M270.6 451.9h0M278.8 457.8h0M289.1 456.9h0M310.4 449.2h0M315.8 446.7h0M321.3 447.4h0M298.3 442.2h0M298.3 445.3h0M302.0 447.2h0M303.9 448.5h0M302.4 451.6h0M303.7 458.7h0M303.8 466.4h0M326.6 477.5h0M324.6 451.4h0M329.8 457.3h0M331.9 464.1h0M330.7 467.7h0M332.1 474.8h0M334.2 479.1h0M333.1 480.3h0M329.5 485.2h0M329.7 490.4h0M326.0 493.6h0M321.9 501.6h0M320.9 503.6h0M283.9 474.0h0M291.2 474.9h0M297.5 474.6h0M302.4 475.2h0M340.9 469.7h0M357.0 446.3h0M355.4 444.3h0M361.2 444.1h0M364.3 444.8h0M355.5 461.3h0M362.6 460.6h0M364.8 459.3h0M358.2 473.8h0M360.4 475.8h0M362.6 475.0h0M367.3 475.2h0M369.6 498.8h0M335.1 488.7h0M338.7 491.2h0M342.3 494.0h0M348.3 505.6h0M360.3 513.7h0M360.9 491.4h0M361.6 494.8h0M359.5 501.6h0M357.5 504.4h0M264.6 498.2h0M269.2 504.3h0M337.3 418.2h0M322.8 515.4h0M325.7 517.3h0M330.3 518.7h0M331.6 514.8h0" fill="none" stroke="#f4f4f4" stroke-opacity="0.43" stroke-width="2.00"/><path d="M274.4 404.0h0M278.1 403.8h0M277.5 405.6h0M276.4 407.1h0M277.4 414.8h0M278.8 415.6h0M278.7 419.5h0M279.3 429.3h0M280.3 431.0h0M280.0 433.4h0M281.3 434.3h0M278.2 434.9h0M277.1 435.2h0M277.2 438.2h0M276.5 444.0h0M274.7 446.6h0M272.2 447.0h0M270.1 460.5h0M271.4 461.4h0M270.2 466.1h0M269.7 470.3h0M268.0 477.1h0M265.2 419.9h0M265.6 420.6h0M266.9 419.0h0M269.6 421.3h0M275.6 418.6h0M281.1 425.4h0M289.4 428.4h0M303.5 427.4h0M306.0 425.3h0M316.5 419.3h0M320.0 416.7h0M323.7 413.7h0M324.8 411.3h0M326.7 410.8h0M328.7 409.5h0M332.6 406.0h0M338.7 402.4h0M294.5 403.4h0M294.9 409.5h0M294.1 410.3h0M323.2 416.0h0M325.3 415.5h0M334.1 419.3h0M334.4 420.8h0M335.3 419.9h0M330.0 433.9h0M328.9 435.1h0M326.5 439.9h0M324.7 440.2h0M325.5 444.2h0M327.1 447.4h0M312.0 424.5h0M314.2 423.9h0M312.0 427.8h0M324.1 436.8h0M325.8 436.5h0M337.8 424.7h0M340.8 427.0h0M343.7 428.4h0M347.6 424.2h0M349.6 421.5h0M354.5 421.0h0M356.8 422.1h0M357.8 421.8h0M362.5 423.8h0M363.9 422.8h0M365.3 424.7h0M368.4 424.6h0M345.1 430.3h0M260.2 447.7h0M263.2 451.4h0M264.9 452.4h0M268.8 454.2h0M271.3 452.9h0M297.6 455.9h0M300.4 454.6h0M302.4 454.0h0M306.1 453.3h0M304.8 449.5h0M308.3 452.7h0M307.5 450.3h0M322.1 448.6h0M295.8 442.3h0M298.8 448.8h0M302.9 449.1h0M305.7 449.9h0M304.5 464.8h0M307.5 471.4h0M310.6 473.4h0M311.9 472.9h0M313.1 474.9h0M312.8 477.4h0M314.9 476.7h0M316.6 477.6h0M319.6 478.1h0M322.1 477.0h0M326.0 477.1h0M329.1 475.7h0M328.0 455.9h0M334.3 466.3h0M332.3 470.3h0M331.5 472.1h0M333.7 472.4h0M332.2 473.4h0M333.8 477.0h0M333.2 480.9h0M333.4 482.4h0M332.8 483.6h0M325.4 496.1h0M320.5 501.3h0M317.0 509.3h0M314.9 510.5h0M315.2 511.6h0M314.1 512.0h0M313.0 514.4h0M276.4 476.2h0M279.2 475.1h0M285.9 475.5h0M286.8 475.2h0M287.8 474.4h0M288.2 474.4h0M295.4 473.4h0M298.6 475.4h0M301.4 474.5h0M305.0 473.0h0M333.5 463.7h0M348.2 463.0h0M350.8 462.5h0M352.5 459.0h0M351.4 457.8h0M352.2 454.7h0M355.7 454.0h0M354.1 451.4h0M355.9 446.7h0M355.0 445.2h0M359.9 443.5h0M365.0 443.3h0M366.0 444.3h0M354.8 461.4h0M359.3 462.0h0M361.2 461.8h0M335.8 479.3h0M336.8 480.9h0M339.1 481.5h0M339.7 480.8h0M342.3 480.0h0M343.0 480.8h0M346.5 477.8h0M350.5 477.1h0M351.4 477.2h0M355.9 475.0h0M357.5 473.6h0M361.5 474.6h0M363.9 473.5h0M365.8 476.4h0M352.3 481.4h0M353.5 484.4h0M358.0 489.5h0M363.0 493.8h0M365.6 492.7h0M366.0 494.0h0M369.3 497.6h0M368.9 500.3h0M370.1 500.4h0M341.6 491.1h0M344.6 494.4h0M345.2 495.1h0M349.8 500.8h0M350.1 504.5h0M344.4 505.0h0M347.2 508.3h0M350.9 513.2h0M361.3 489.6h0M361.3 490.9h0M362.3 495.3h0M363.3 496.4h0M359.7 501.1h0M357.3 503.5h0M358.5 505.1h0M358.4 509.8h0M361.3 512.7h0M283.1 496.2h0M285.2 499.0h0M284.6 500.2h0M292.8 492.0h0M293.1 489.1h0M296.2 488.7h0M269.2 501.5h0M270.3 504.4h0M341.4 415.0h0M363.1 413.0h0M362.3 414.6h0M363.0 415.2h0M366.0 417.6h0M362.4 419.1h0M318.1 515.5h0M321.6 515.8h0M323.2 517.8h0M325.3 517.2h0M326.3 518.0h0M329.3 515.3h0M333.0 515.3h0" fill="none" stroke="#f4f4f4" stroke-opacity="0.69" stroke-width="2.00"/><path d="M274.9 403.5h0M279.3 418.2h0M278.1 436.0h0M270.6 456.4h0M272.2 471.7h0M270.0 472.5h0M270.5 477.8h0M272.4 483.9h0M260.7 420.1h0M322.6 416.4h0M333.0 404.6h0M293.1 404.9h0M333.2 417.4h0M334.9 422.3h0M331.7 433.0h0M310.4 424.8h0M311.7 426.5h0M314.5 429.0h0M325.3 435.3h0M349.2 424.7h0M355.7 422.8h0M359.0 422.2h0M346.3 433.6h0M286.9 457.4h0M309.6 451.1h0M312.9 447.3h0M294.6 441.4h0M305.9 447.6h0M306.3 470.6h0M318.5 478.7h0M330.6 475.1h0M332.9 465.2h0M332.0 482.2h0M330.6 483.3h0M323.2 496.4h0M318.2 505.0h0M314.5 513.0h0M271.7 474.4h0M274.9 475.7h0M299.6 475.4h0M332.7 467.2h0M341.7 467.2h0M343.6 466.3h0M364.1 443.5h0M367.1 460.7h0M368.0 458.4h0M368.7 458.8h0M345.0 479.4h0M350.5 478.1h0M353.0 477.6h0M355.9 476.5h0M357.0 474.8h0M359.9 475.1h0M362.8 472.9h0M365.7 475.3h0M350.9 478.3h0M353.4 485.6h0M356.5 484.5h0M363.7 491.7h0M348.1 496.7h0M348.5 507.8h0M352.1 511.2h0M361.2 497.5h0M355.6 506.7h0M358.2 512.4h0M360.3 513.7h0M293.4 489.8h0M339.5 413.2h0M361.4 409.3h0M363.3 413.6h0M326.4 515.1h0" fill="none" stroke="#f4f4f4" stroke-opacity="0.95" stroke-width="2.00"/></g><g clip-path="url(#cC3)" filter="url(#bl)"><ellipse cx="337.8" cy="453.1" rx="1.70" ry="1.41" transform="rotate(168 337.8 453.1)" fill="#f0f0f0" fill-opacity="0.76"/><ellipse cx="278.9" cy="512.0" rx="1.70" ry="1.27" transform="rotate(45 278.9 512.0)" fill="#f0f0f0" fill-opacity="0.76"/><ellipse cx="291.3" cy="511.2" rx="1.70" ry="1.58" transform="rotate(95 291.3 511.2)" fill="#f0f0f0" fill-opacity="0.76"/><ellipse cx="327.0" cy="429.9" rx="1.44" ry="1.10" transform="rotate(22 327.0 429.9)" fill="#f0f0f0" fill-opacity="0.76"/><ellipse cx="317.1" cy="468.0" rx="1.67" ry="1.33" transform="rotate(116 317.1 468.0)" fill="#f0f0f0" fill-opacity="0.76"/><ellipse cx="356.9" cy="433.2" rx="1.77" ry="1.35" transform="rotate(35 356.9 433.2)" fill="#f0f0f0" fill-opacity="0.76"/></g>
<g clip-path="url(#cC3)" filter="url(#bl)"><circle cx="323.3" cy="474.9" r="0.9" fill="#ececec" fill-opacity="0.35"/><circle cx="332.4" cy="505.6" r="1.0" fill="#ececec" fill-opacity="0.32"/><circle cx="332.4" cy="473.1" r="0.8" fill="#ececec" fill-opacity="0.59"/><circle cx="318.6" cy="452.8" r="1.0" fill="#ececec" fill-opacity="0.47"/><circle cx="293.2" cy="436.6" r="0.7" fill="#ececec" fill-opacity="0.27"/><circle cx="327.4" cy="487.2" r="0.7" fill="#ececec" fill-opacity="0.55"/><circle cx="363.2" cy="465.8" r="0.8" fill="#ececec" fill-opacity="0.29"/><circle cx="265.8" cy="516.1" r="0.6" fill="#ececec" fill-opacity="0.32"/><circle cx="359.7" cy="488.9" r="0.6" fill="#ececec" fill-opacity="0.36"/><circle cx="286.6" cy="432.3" r="0.5" fill="#ececec" fill-opacity="0.43"/><circle cx="293.5" cy="446.7" r="0.6" fill="#ececec" fill-opacity="0.29"/><circle cx="263.2" cy="503.4" r="0.9" fill="#ececec" fill-opacity="0.45"/><circle cx="273.3" cy="417.7" r="0.6" fill="#ececec" fill-opacity="0.36"/><circle cx="265.9" cy="432.6" r="0.6" fill="#ececec" fill-opacity="0.32"/><circle cx="332.6" cy="454.2" r="0.7" fill="#ececec" fill-opacity="0.38"/><circle cx="319.8" cy="493.0" r="0.7" fill="#ececec" fill-opacity="0.27"/><circle cx="313.3" cy="444.9" r="0.9" fill="#ececec" fill-opacity="0.29"/><circle cx="357.1" cy="401.8" r="0.8" fill="#ececec" fill-opacity="0.41"/><circle cx="294.8" cy="505.3" r="0.9" fill="#ececec" fill-opacity="0.31"/><circle cx="314.8" cy="472.6" r="0.5" fill="#ececec" fill-opacity="0.28"/><circle cx="326.8" cy="486.4" r="0.7" fill="#ececec" fill-opacity="0.40"/><circle cx="316.2" cy="430.9" r="0.9" fill="#ececec" fill-opacity="0.59"/><circle cx="313.4" cy="402.4" r="0.7" fill="#ececec" fill-opacity="0.53"/><circle cx="295.8" cy="412.5" r="0.6" fill="#ececec" fill-opacity="0.50"/><circle cx="329.0" cy="433.9" r="0.8" fill="#ececec" fill-opacity="0.52"/><circle cx="367.5" cy="498.5" r="0.7" fill="#ececec" fill-opacity="0.53"/><circle cx="363.0" cy="503.0" r="0.9" fill="#ececec" fill-opacity="0.46"/><circle cx="316.7" cy="500.8" r="0.8" fill="#ececec" fill-opacity="0.50"/><circle cx="285.0" cy="410.9" r="0.6" fill="#ececec" fill-opacity="0.45"/><circle cx="323.6" cy="423.5" r="0.6" fill="#ececec" fill-opacity="0.58"/><circle cx="267.5" cy="509.8" r="0.9" fill="#ececec" fill-opacity="0.45"/><circle cx="370.8" cy="480.6" r="0.5" fill="#ececec" fill-opacity="0.58"/><circle cx="305.7" cy="508.6" r="0.9" fill="#ececec" fill-opacity="0.30"/><circle cx="263.9" cy="402.5" r="0.9" fill="#ececec" fill-opacity="0.53"/><circle cx="285.0" cy="413.4" r="0.7" fill="#ececec" fill-opacity="0.53"/><circle cx="342.3" cy="502.7" r="1.0" fill="#ececec" fill-opacity="0.51"/><circle cx="352.9" cy="401.9" r="0.5" fill="#ececec" fill-opacity="0.55"/><circle cx="328.7" cy="438.7" r="0.6" fill="#ececec" fill-opacity="0.37"/><circle cx="297.4" cy="458.7" r="0.7" fill="#ececec" fill-opacity="0.32"/><circle cx="268.7" cy="424.1" r="0.6" fill="#ececec" fill-opacity="0.29"/><circle cx="305.8" cy="415.4" r="0.9" fill="#ececec" fill-opacity="0.44"/><circle cx="310.9" cy="475.7" r="0.6" fill="#ececec" fill-opacity="0.26"/><circle cx="268.3" cy="440.0" r="0.7" fill="#ececec" fill-opacity="0.34"/><circle cx="293.8" cy="498.8" r="0.5" fill="#ececec" fill-opacity="0.41"/><circle cx="302.3" cy="433.4" r="0.9" fill="#ececec" fill-opacity="0.33"/><circle cx="264.2" cy="418.9" r="1.0" fill="#ececec" fill-opacity="0.37"/><circle cx="272.6" cy="515.0" r="0.8" fill="#ececec" fill-opacity="0.58"/><circle cx="296.5" cy="496.0" r="0.5" fill="#ececec" fill-opacity="0.33"/><circle cx="348.3" cy="461.1" r="0.9" fill="#ececec" fill-opacity="0.39"/><circle cx="357.5" cy="409.2" r="0.8" fill="#ececec" fill-opacity="0.32"/><circle cx="281.8" cy="504.7" r="0.7" fill="#ececec" fill-opacity="0.53"/><circle cx="291.2" cy="486.5" r="1.0" fill="#ececec" fill-opacity="0.47"/><circle cx="285.7" cy="479.2" r="1.0" fill="#ececec" fill-opacity="0.53"/><circle cx="309.1" cy="447.3" r="0.5" fill="#ececec" fill-opacity="0.52"/><circle cx="277.2" cy="425.9" r="0.5" fill="#ececec" fill-opacity="0.31"/><circle cx="302.4" cy="456.5" r="0.6" fill="#ececec" fill-opacity="0.40"/><circle cx="344.3" cy="411.5" r="0.6" fill="#ececec" fill-opacity="0.43"/><circle cx="360.6" cy="508.7" r="0.8" fill="#ececec" fill-opacity="0.28"/><circle cx="357.2" cy="517.6" r="0.9" fill="#ececec" fill-opacity="0.44"/><circle cx="302.3" cy="469.6" r="0.9" fill="#ececec" fill-opacity="0.60"/></g>
<g clip-path="url(#cC4)" filter="url(#bl)" stroke-linecap="round" stroke-linejoin="round"><path d="M417.8 412.4 L419.5 416.6" fill="none" stroke="#d0d0d0" stroke-width="1.16" stroke-opacity="0.25"/><path d="M392.9 453.1 L403.7 453.1" fill="none" stroke="#d0d0d0" stroke-width="1.66" stroke-opacity="0.25"/><path d="M428.6 458.9 L433.6 455.6" fill="none" stroke="#d0d0d0" stroke-width="1.38" stroke-opacity="0.25"/><path d="M408.7 461.4 L408.7 468.0" fill="none" stroke="#d0d0d0" stroke-width="1.61" stroke-opacity="0.25"/><path d="M451.0 499.6 L456.0 502.9" fill="none" stroke="#d0d0d0" stroke-width="1.55" stroke-opacity="0.25"/><path d="M410.3 437.3 L412.0 441.5" fill="none" stroke="#d0d0d0" stroke-width="1.15" stroke-opacity="0.25"/><path d="M392.9 416.6 L395.4 420.7" fill="none" stroke="#d0d0d0" stroke-width="1.62" stroke-opacity="0.25"/><path d="M412.3 441.3h0" fill="none" stroke="#f4f4f4" stroke-opacity="0.32" stroke-width="0.90"/><path d="M394.2 454.2h0M453.1 501.6h0M455.8 503.1h0" fill="none" stroke="#f4f4f4" stroke-opacity="0.51" stroke-width="0.90"/><path d="M408.6 467.8h0M450.9 500.1h0" fill="none" stroke="#f4f4f4" stroke-opacity="0.70" stroke-width="0.90"/><path d="M418.9 414.4h0M396.0 452.8h0M432.1 456.7h0M408.8 463.9h0M454.3 501.7h0M393.6 420.2h0" fill="none" stroke="#f4f4f4" stroke-opacity="0.32" stroke-width="1.40"/><path d="M401.0 452.7h0M403.6 453.5h0M428.7 458.5h0M393.2 417.5h0" fill="none" stroke="#f4f4f4" stroke-opacity="0.51" stroke-width="1.40"/><path d="M429.8 457.7h0M452.1 500.5h0M411.2 438.5h0" fill="none" stroke="#f4f4f4" stroke-opacity="0.70" stroke-width="1.40"/><path d="M417.5 413.2h0M402.5 453.3h0" fill="none" stroke="#f4f4f4" stroke-opacity="0.32" stroke-width="1.90"/><path d="M398.0 453.1h0M431.1 457.6h0M408.5 462.0h0M408.3 465.4h0M408.4 466.4h0M411.0 440.1h0" fill="none" stroke="#f4f4f4" stroke-opacity="0.51" stroke-width="1.90"/><path d="M418.9 415.6h0M399.4 453.7h0M433.7 456.3h0M394.6 418.3h0" fill="none" stroke="#f4f4f4" stroke-opacity="0.70" stroke-width="1.90"/></g><g clip-path="url(#cC4)" filter="url(#bl)"><ellipse cx="436.9" cy="404.1" rx="1.25" ry="1.24" transform="rotate(120 436.9 404.1)" fill="#f0f0f0" fill-opacity="0.58"/><ellipse cx="467.6" cy="403.3" rx="1.50" ry="1.19" transform="rotate(114 467.6 403.3)" fill="#f0f0f0" fill-opacity="0.76"/><ellipse cx="452.6" cy="408.3" rx="1.76" ry="1.65" transform="rotate(167 452.6 408.3)" fill="#f0f0f0" fill-opacity="0.76"/><ellipse cx="442.7" cy="412.4" rx="1.58" ry="1.19" transform="rotate(166 442.7 412.4)" fill="#f0f0f0" fill-opacity="0.76"/><ellipse cx="404.5" cy="414.1" rx="1.75" ry="1.69" transform="rotate(21 404.5 414.1)" fill="#f0f0f0" fill-opacity="0.94"/><ellipse cx="394.6" cy="413.3" rx="1.87" ry="1.81" transform="rotate(99 394.6 413.3)" fill="#f0f0f0" fill-opacity="0.76"/><ellipse cx="413.6" cy="414.9" rx="1.92" ry="1.54" transform="rotate(121 413.6 414.9)" fill="#f0f0f0" fill-opacity="0.76"/><ellipse cx="415.3" cy="407.4" rx="1.34" ry="1.30" transform="rotate(139 415.3 407.4)" fill="#f0f0f0" fill-opacity="0.58"/><ellipse cx="475.1" cy="415.7" rx="1.71" ry="1.51" transform="rotate(5 475.1 415.7)" fill="#f0f0f0" fill-opacity="0.76"/><ellipse cx="459.3" cy="419.1" rx="1.48" ry="1.33" transform="rotate(88 459.3 419.1)" fill="#f0f0f0" fill-opacity="0.76"/><ellipse cx="470.9" cy="420.7" rx="2.27" ry="2.05" transform="rotate(25 470.9 420.7)" fill="#f0f0f0" fill-opacity="0.94"/><circle cx="471.1" cy="420.7" r="0.79" fill="#707070" fill-opacity="0.55"/><ellipse cx="448.5" cy="419.1" rx="1.20" ry="1.15" transform="rotate(149 448.5 419.1)" fill="#f0f0f0" fill-opacity="0.58"/><ellipse cx="467.6" cy="424.0" rx="1.51" ry="1.34" transform="rotate(69 467.6 424.0)" fill="#f0f0f0" fill-opacity="0.76"/><ellipse cx="480.9" cy="429.0" rx="1.53" ry="1.26" transform="rotate(42 480.9 429.0)" fill="#f0f0f0" fill-opacity="0.58"/><ellipse cx="415.3" cy="424.0" rx="2.04" ry="2.02" transform="rotate(17 415.3 424.0)" fill="#f0f0f0" fill-opacity="0.94"/><circle cx="415.4" cy="424.3" r="0.71" fill="#707070" fill-opacity="0.55"/><ellipse cx="421.1" cy="429.9" rx="2.05" ry="1.76" transform="rotate(154 421.1 429.9)" fill="#f0f0f0" fill-opacity="0.94"/><ellipse cx="387.1" cy="429.0" rx="1.50" ry="1.46" transform="rotate(35 387.1 429.0)" fill="#f0f0f0" fill-opacity="0.76"/><ellipse cx="393.7" cy="435.7" rx="1.92" ry="1.84" transform="rotate(76 393.7 435.7)" fill="#f0f0f0" fill-opacity="0.94"/><ellipse cx="464.3" cy="439.0" rx="1.84" ry="1.78" transform="rotate(32 464.3 439.0)" fill="#f0f0f0" fill-opacity="0.94"/><circle cx="464.3" cy="438.9" r="0.64" fill="#707070" fill-opacity="0.55"/><ellipse cx="465.1" cy="444.8" rx="2.07" ry="2.02" transform="rotate(128 465.1 444.8)" fill="#f0f0f0" fill-opacity="0.94"/><circle cx="465.0" cy="444.8" r="0.72" fill="#707070" fill-opacity="0.55"/><ellipse cx="485.0" cy="444.8" rx="2.04" ry="1.89" transform="rotate(87 485.0 444.8)" fill="#f0f0f0" fill-opacity="0.94"/><circle cx="484.9" cy="445.0" r="0.71" fill="#707070" fill-opacity="0.55"/><ellipse cx="435.2" cy="444.0" rx="1.35" ry="1.27" transform="rotate(177 435.2 444.0)" fill="#f0f0f0" fill-opacity="0.58"/><ellipse cx="441.0" cy="450.6" rx="1.46" ry="1.34" transform="rotate(110 441.0 450.6)" fill="#f0f0f0" fill-opacity="0.58"/><ellipse cx="425.3" cy="463.0" rx="1.63" ry="1.59" transform="rotate(84 425.3 463.0)" fill="#f0f0f0" fill-opacity="0.76"/><ellipse cx="381.3" cy="462.2" rx="1.94" ry="1.60" transform="rotate(156 381.3 462.2)" fill="#f0f0f0" fill-opacity="0.76"/><ellipse cx="375.5" cy="467.2" rx="1.87" ry="1.69" transform="rotate(80 375.5 467.2)" fill="#f0f0f0" fill-opacity="0.76"/><ellipse cx="395.4" cy="467.2" rx="1.82" ry="1.72" transform="rotate(65 395.4 467.2)" fill="#f0f0f0" fill-opacity="0.94"/><ellipse cx="397.0" cy="471.3" rx="1.54" ry="1.18" transform="rotate(26 397.0 471.3)" fill="#f0f0f0" fill-opacity="0.76"/><ellipse cx="470.9" cy="466.4" rx="1.89" ry="1.50" transform="rotate(162 470.9 466.4)" fill="#f0f0f0" fill-opacity="0.76"/><ellipse cx="482.5" cy="470.5" rx="1.66" ry="1.48" transform="rotate(63 482.5 470.5)" fill="#f0f0f0" fill-opacity="0.76"/><ellipse cx="441.9" cy="470.5" rx="1.79" ry="1.38" transform="rotate(72 441.9 470.5)" fill="#f0f0f0" fill-opacity="0.76"/><ellipse cx="445.2" cy="476.3" rx="2.31" ry="1.84" transform="rotate(118 445.2 476.3)" fill="#f0f0f0" fill-opacity="0.94"/><circle cx="445.1" cy="476.0" r="0.81" fill="#707070" fill-opacity="0.55"/><ellipse cx="441.0" cy="482.1" rx="1.75" ry="1.73" transform="rotate(149 441.0 482.1)" fill="#f0f0f0" fill-opacity="0.94"/><ellipse cx="411.2" cy="477.2" rx="2.23" ry="2.21" transform="rotate(29 411.2 477.2)" fill="#f0f0f0" fill-opacity="0.94"/><circle cx="411.2" cy="477.2" r="0.78" fill="#707070" fill-opacity="0.55"/><ellipse cx="421.9" cy="474.7" rx="1.59" ry="1.50" transform="rotate(174 421.9 474.7)" fill="#f0f0f0" fill-opacity="0.58"/><ellipse cx="458.5" cy="473.0" rx="1.24" ry="1.14" transform="rotate(122 458.5 473.0)" fill="#f0f0f0" fill-opacity="0.58"/><ellipse cx="469.2" cy="488.8" rx="1.51" ry="1.37" transform="rotate(150 469.2 488.8)" fill="#f0f0f0" fill-opacity="0.58"/><ellipse cx="484.2" cy="488.8" rx="1.32" ry="1.30" transform="rotate(73 484.2 488.8)" fill="#f0f0f0" fill-opacity="0.58"/><ellipse cx="409.5" cy="492.9" rx="1.78" ry="1.73" transform="rotate(127 409.5 492.9)" fill="#f0f0f0" fill-opacity="0.76"/><ellipse cx="389.6" cy="494.6" rx="1.63" ry="1.31" transform="rotate(59 389.6 494.6)" fill="#f0f0f0" fill-opacity="0.76"/><ellipse cx="434.4" cy="496.2" rx="2.12" ry="2.12" transform="rotate(162 434.4 496.2)" fill="#f0f0f0" fill-opacity="0.94"/><circle cx="434.3" cy="496.4" r="0.74" fill="#707070" fill-opacity="0.55"/><ellipse cx="432.7" cy="491.3" rx="1.61" ry="1.38" transform="rotate(2 432.7 491.3)" fill="#f0f0f0" fill-opacity="0.76"/><ellipse cx="481.7" cy="497.9" rx="1.85" ry="1.64" transform="rotate(125 481.7 497.9)" fill="#f0f0f0" fill-opacity="0.94"/><ellipse cx="447.7" cy="496.2" rx="1.66" ry="1.64" transform="rotate(112 447.7 496.2)" fill="#f0f0f0" fill-opacity="0.76"/><ellipse cx="400.4" cy="501.2" rx="1.26" ry="0.97" transform="rotate(175 400.4 501.2)" fill="#f0f0f0" fill-opacity="0.58"/><ellipse cx="438.5" cy="505.4" rx="1.98" ry="1.94" transform="rotate(109 438.5 505.4)" fill="#f0f0f0" fill-opacity="0.76"/><ellipse cx="392.1" cy="511.2" rx="1.63" ry="1.26" transform="rotate(46 392.1 511.2)" fill="#f0f0f0" fill-opacity="0.76"/><ellipse cx="382.9" cy="504.5" rx="1.29" ry="1.27" transform="rotate(161 382.9 504.5)" fill="#f0f0f0" fill-opacity="0.58"/><ellipse cx="441.0" cy="517.0" rx="1.87" ry="1.47" transform="rotate(43 441.0 517.0)" fill="#f0f0f0" fill-opacity="0.76"/><ellipse cx="424.4" cy="514.5" rx="1.32" ry="1.30" transform="rotate(29 424.4 514.5)" fill="#f0f0f0" fill-opacity="0.58"/></g>
<g clip-path="url(#cC4)" filter="url(#bl)"><circle cx="433.0" cy="469.4" r="0.9" fill="#ececec" fill-opacity="0.37"/><circle cx="472.6" cy="443.2" r="1.0" fill="#ececec" fill-opacity="0.26"/><circle cx="408.1" cy="411.2" r="0.8" fill="#ececec" fill-opacity="0.19"/><circle cx="404.5" cy="472.4" r="0.9" fill="#ececec" fill-opacity="0.34"/><circle cx="383.5" cy="407.3" r="0.6" fill="#ececec" fill-opacity="0.29"/><circle cx="467.8" cy="494.9" r="1.0" fill="#ececec" fill-opacity="0.30"/><circle cx="445.1" cy="434.6" r="0.7" fill="#ececec" fill-opacity="0.20"/><circle cx="433.8" cy="472.0" r="0.8" fill="#ececec" fill-opacity="0.25"/><circle cx="421.3" cy="429.4" r="0.9" fill="#ececec" fill-opacity="0.30"/><circle cx="457.7" cy="496.2" r="0.6" fill="#ececec" fill-opacity="0.18"/><circle cx="405.5" cy="507.5" r="0.9" fill="#ececec" fill-opacity="0.25"/><circle cx="460.8" cy="440.5" r="0.9" fill="#ececec" fill-opacity="0.17"/><circle cx="456.8" cy="516.2" r="0.7" fill="#ececec" fill-opacity="0.27"/><circle cx="388.5" cy="432.6" r="0.6" fill="#ececec" fill-opacity="0.22"/><circle cx="381.5" cy="435.5" r="0.6" fill="#ececec" fill-opacity="0.28"/><circle cx="419.3" cy="427.0" r="1.0" fill="#ececec" fill-opacity="0.23"/><circle cx="433.3" cy="506.0" r="0.9" fill="#ececec" fill-opacity="0.39"/><circle cx="442.1" cy="503.2" r="0.5" fill="#ececec" fill-opacity="0.33"/><circle cx="411.4" cy="438.0" r="0.9" fill="#ececec" fill-opacity="0.34"/><circle cx="412.1" cy="443.1" r="0.6" fill="#ececec" fill-opacity="0.38"/><circle cx="442.6" cy="430.8" r="0.8" fill="#ececec" fill-opacity="0.16"/><circle cx="404.0" cy="459.4" r="1.0" fill="#ececec" fill-opacity="0.36"/><circle cx="435.1" cy="490.4" r="0.6" fill="#ececec" fill-opacity="0.32"/><circle cx="485.4" cy="418.2" r="1.0" fill="#ececec" fill-opacity="0.40"/><circle cx="415.0" cy="496.5" r="1.0" fill="#ececec" fill-opacity="0.19"/><circle cx="425.9" cy="470.4" r="0.9" fill="#ececec" fill-opacity="0.22"/><circle cx="458.0" cy="483.4" r="0.9" fill="#ececec" fill-opacity="0.33"/><circle cx="470.2" cy="471.6" r="0.8" fill="#ececec" fill-opacity="0.27"/><circle cx="419.4" cy="454.8" r="0.7" fill="#ececec" fill-opacity="0.25"/><circle cx="390.0" cy="447.1" r="1.0" fill="#ececec" fill-opacity="0.23"/><circle cx="483.9" cy="498.6" r="0.7" fill="#ececec" fill-opacity="0.20"/><circle cx="472.2" cy="513.2" r="0.7" fill="#ececec" fill-opacity="0.32"/><circle cx="458.2" cy="473.6" r="0.6" fill="#ececec" fill-opacity="0.21"/><circle cx="454.6" cy="475.2" r="0.8" fill="#ececec" fill-opacity="0.22"/><circle cx="472.3" cy="492.0" r="0.7" fill="#ececec" fill-opacity="0.36"/><circle cx="407.6" cy="463.2" r="0.8" fill="#ececec" fill-opacity="0.39"/><circle cx="478.8" cy="440.4" r="0.9" fill="#ececec" fill-opacity="0.22"/><circle cx="472.7" cy="505.7" r="0.8" fill="#ececec" fill-opacity="0.16"/><circle cx="408.0" cy="420.3" r="0.8" fill="#ececec" fill-opacity="0.16"/><circle cx="380.8" cy="411.8" r="0.9" fill="#ececec" fill-opacity="0.30"/></g>
<g clip-path="url(#cC5)" filter="url(#bl)" stroke-linecap="round" stroke-linejoin="round"><path d="M498.8 415.7 L506.2 416.6 L511.2 421.6 L516.2 424.9 L521.2 428.2 L522.8 434.0 L526.2 439.0 L531.1 443.1 L536.1 444.8 L541.1 448.1 L546.1 451.4 L552.7 455.6 L557.7 458.9 L561.0 463.0 L562.7 466.4" fill="none" stroke="#d0d0d0" stroke-width="2.98" stroke-opacity="0.4"/><path d="M488.8 424.9 L494.6 429.0 L502.9 429.9" fill="none" stroke="#d0d0d0" stroke-width="2.28" stroke-opacity="0.4"/><path d="M516.2 424.9 L522.8 423.2 L527.0 422.4" fill="none" stroke="#d0d0d0" stroke-width="2.97" stroke-opacity="0.4"/><path d="M516.2 424.9 L514.5 430.7" fill="none" stroke="#d0d0d0" stroke-width="2.80" stroke-opacity="0.4"/><path d="M519.5 402.5 L521.2 408.3" fill="none" stroke="#d0d0d0" stroke-width="2.48" stroke-opacity="0.4"/><path d="M567.6 402.5 L569.3 410.8 L573.5 415.7 L577.6 414.9" fill="none" stroke="#d0d0d0" stroke-width="2.93" stroke-opacity="0.4"/><path d="M562.7 401.6 L572.6 402.5" fill="none" stroke="#d0d0d0" stroke-width="2.31" stroke-opacity="0.4"/><path d="M539.4 429.0 L549.4 430.7 L552.7 426.5" fill="none" stroke="#d0d0d0" stroke-width="2.91" stroke-opacity="0.4"/><path d="M549.4 430.7 L561.0 432.3 L572.6 430.7 L577.6 434.8 L580.9 438.2 L585.9 434.0 L592.5 434.8" fill="none" stroke="#d0d0d0" stroke-width="2.14" stroke-opacity="0.4"/><path d="M580.9 438.2 L581.8 446.5 L579.3 449.8 L574.3 444.8 L566.0 439.8" fill="none" stroke="#d0d0d0" stroke-width="2.35" stroke-opacity="0.4"/><path d="M581.8 446.5 L585.9 453.1 L590.9 458.1 L599.2 457.2" fill="none" stroke="#d0d0d0" stroke-width="2.76" stroke-opacity="0.4"/><path d="M514.5 444.0 L519.5 442.3" fill="none" stroke="#d0d0d0" stroke-width="2.00" stroke-opacity="0.4"/><path d="M539.4 439.8 L541.1 444.8" fill="none" stroke="#d0d0d0" stroke-width="2.11" stroke-opacity="0.4"/><path d="M522.8 456.4 L531.1 457.2 L537.8 453.1 L541.1 448.1" fill="none" stroke="#d0d0d0" stroke-width="2.14" stroke-opacity="0.4"/><path d="M554.4 468.0 L556.0 474.7 L559.3 477.2 L556.0 481.3 L552.7 485.5 L547.7 488.8 L541.1 490.4 L534.5 490.4 L529.5 487.9 L532.8 483.0 L535.3 481.3" fill="none" stroke="#d0d0d0" stroke-width="2.89" stroke-opacity="0.4"/><path d="M589.2 464.7 L586.7 471.3 L584.2 476.3" fill="none" stroke="#d0d0d0" stroke-width="2.83" stroke-opacity="0.4"/><path d="M568.5 476.3 L573.5 479.6 L580.9 479.6 L584.2 476.3" fill="none" stroke="#d0d0d0" stroke-width="2.25" stroke-opacity="0.4"/><path d="M573.5 479.6 L572.6 485.5" fill="none" stroke="#d0d0d0" stroke-width="2.64" stroke-opacity="0.4"/><path d="M488.8 471.3 L493.0 474.7 L495.4 481.3 L499.6 484.6 L507.9 485.5 L511.2 489.6 L510.4 494.6" fill="none" stroke="#d0d0d0" stroke-width="2.16" stroke-opacity="0.4"/><path d="M507.9 485.5 L516.2 481.3 L518.7 478.0" fill="none" stroke="#d0d0d0" stroke-width="2.87" stroke-opacity="0.4"/><path d="M516.2 481.3 L521.2 484.6" fill="none" stroke="#d0d0d0" stroke-width="3.00" stroke-opacity="0.4"/><path d="M578.4 490.4 L584.2 492.9 L586.7 489.6" fill="none" stroke="#d0d0d0" stroke-width="2.59" stroke-opacity="0.4"/><path d="M584.2 492.9 L590.9 498.7" fill="none" stroke="#d0d0d0" stroke-width="2.90" stroke-opacity="0.4"/><path d="M562.7 498.7 L559.3 501.2" fill="none" stroke="#d0d0d0" stroke-width="2.61" stroke-opacity="0.4"/><path d="M525.3 500.4 L522.8 504.5" fill="none" stroke="#d0d0d0" stroke-width="2.93" stroke-opacity="0.4"/><path d="M574.3 509.5 L582.6 511.2 L590.9 509.5 L599.2 511.2" fill="none" stroke="#d0d0d0" stroke-width="2.66" stroke-opacity="0.4"/><path d="M507.9 512.8 L513.7 513.7 L517.9 509.5" fill="none" stroke="#d0d0d0" stroke-width="2.30" stroke-opacity="0.4"/><path d="M499.7 413.7h0M500.1 417.1h0M502.1 416.9h0M509.2 421.6h0M510.7 421.7h0M515.3 424.5h0M522.0 429.3h0M522.7 436.1h0M522.7 437.4h0M526.4 436.3h0M531.8 439.9h0M534.2 444.7h0M537.9 443.0h0M540.4 445.2h0M543.4 447.8h0M543.3 452.6h0M546.7 454.6h0M550.5 451.7h0M551.5 454.7h0M552.0 456.6h0M553.5 454.6h0M555.4 455.2h0M554.3 458.9h0M559.8 458.8h0M559.0 460.5h0M563.4 463.7h0M561.1 465.7h0M563.3 465.6h0M493.7 427.9h0M494.9 427.2h0M497.1 430.0h0M502.2 432.9h0M521.8 422.2h0M524.1 423.5h0M525.8 421.8h0M514.6 425.4h0M514.5 430.3h0M517.9 405.5h0M520.0 406.5h0M565.7 402.9h0M565.2 403.8h0M570.1 403.7h0M567.6 406.7h0M567.0 407.5h0M567.8 410.1h0M570.3 410.4h0M571.4 411.5h0M571.7 414.9h0M576.7 412.6h0M571.3 401.6h0M540.0 427.5h0M540.5 428.8h0M545.4 431.4h0M546.4 431.9h0M548.2 431.0h0M550.0 430.6h0M551.1 430.6h0M552.2 426.7h0M549.8 431.5h0M550.6 432.3h0M551.6 429.6h0M552.3 429.9h0M554.1 430.9h0M555.0 432.2h0M560.8 433.5h0M561.5 431.1h0M562.8 434.3h0M569.2 429.6h0M573.7 433.4h0M576.9 433.2h0M576.1 435.8h0M579.3 433.3h0M578.1 436.6h0M578.7 437.2h0M581.0 437.9h0M582.2 436.4h0M584.1 437.2h0M586.8 432.4h0M588.6 435.6h0M590.0 433.1h0M581.7 438.6h0M583.7 440.1h0M581.0 442.2h0M580.8 448.9h0M579.6 448.9h0M577.3 445.7h0M575.6 443.7h0M572.2 442.0h0M571.3 441.6h0M568.8 444.6h0M569.5 440.1h0M566.2 440.9h0M583.9 446.0h0M583.2 447.5h0M582.8 449.1h0M582.7 450.2h0M588.8 451.8h0M590.0 453.8h0M591.1 455.3h0M590.8 457.4h0M594.5 455.5h0M515.8 442.6h0M540.7 440.1h0M524.9 457.2h0M529.1 458.8h0M530.4 456.0h0M532.1 458.3h0M533.7 453.9h0M537.7 449.4h0M539.9 450.0h0M539.0 447.3h0M556.2 468.2h0M554.7 469.4h0M555.1 473.6h0M560.2 474.0h0M559.5 479.2h0M558.7 480.0h0M551.5 481.3h0M552.2 482.8h0M551.0 483.3h0M547.4 488.1h0M545.0 488.4h0M544.7 489.7h0M535.7 489.7h0M534.5 489.3h0M532.1 481.1h0M587.3 465.5h0M588.8 467.1h0M586.6 469.7h0M567.9 477.5h0M570.1 476.0h0M569.8 478.5h0M575.8 480.9h0M577.6 480.9h0M579.5 479.0h0M583.4 477.0h0M489.1 472.7h0M496.6 477.4h0M496.1 478.5h0M496.0 479.5h0M497.2 485.9h0M500.3 483.1h0M501.8 482.5h0M503.7 486.6h0M505.9 484.8h0M506.9 487.1h0M510.2 491.9h0M509.4 493.7h0M507.8 484.0h0M509.0 483.0h0M510.1 482.7h0M514.3 483.1h0M514.4 481.5h0M521.6 482.6h0M580.4 489.7h0M582.4 491.6h0M583.3 491.1h0M582.3 490.7h0M586.0 491.3h0M587.5 491.4h0M588.5 491.2h0M587.3 491.8h0M587.2 493.6h0M586.0 496.5h0M587.6 496.0h0M590.1 497.5h0M524.1 505.2h0M574.1 510.9h0M575.1 511.0h0M579.3 511.9h0M585.7 511.2h0M589.2 510.7h0M589.7 507.7h0M592.5 508.9h0M593.9 512.2h0M510.2 513.9h0M511.6 512.2h0M516.4 511.7h0" fill="none" stroke="#303030" stroke-opacity="0.5" stroke-width="1.2"/><path d="M503.9 416.2h0M508.3 418.3h0M508.6 419.7h0M527.7 439.9h0M542.1 451.4h0M544.8 452.3h0M549.9 452.7h0M552.8 455.7h0M562.2 464.3h0M502.4 431.4h0M526.1 423.1h0M542.6 429.7h0M550.7 431.2h0M570.8 429.9h0M572.1 431.1h0M579.3 436.6h0M588.7 434.5h0M585.3 452.6h0M529.2 457.5h0M553.1 487.9h0M540.9 490.1h0M572.6 479.3h0M573.5 479.5h0M577.6 479.4h0M583.9 478.4h0M510.7 487.7h0M511.4 491.0h0M509.5 484.0h0M582.1 492.5h0M582.8 492.4h0M585.1 490.7h0M588.4 495.1h0M590.1 498.4h0M560.4 499.0h0M585.2 511.6h0M591.3 509.8h0M517.3 510.2h0" fill="none" stroke="#f4f4f4" stroke-opacity="0.43" stroke-width="1.10"/><path d="M501.3 414.8h0M502.3 415.3h0M505.2 418.6h0M514.1 422.5h0M522.4 430.3h0M526.6 440.0h0M535.9 444.7h0M537.1 444.2h0M536.9 447.4h0M538.4 447.0h0M539.7 446.3h0M541.7 448.6h0M544.0 451.6h0M560.4 462.2h0M490.3 425.8h0M491.5 429.1h0M499.8 429.9h0M519.8 423.6h0M524.4 425.0h0M525.3 423.8h0M514.8 428.3h0M513.7 430.1h0M520.6 407.8h0M566.8 402.7h0M567.2 401.1h0M541.6 428.8h0M550.8 429.1h0M554.0 431.8h0M561.6 431.9h0M564.1 431.0h0M565.5 432.1h0M572.6 431.6h0M583.4 436.3h0M580.1 442.3h0M578.6 449.9h0M571.7 442.7h0M569.0 441.0h0M585.5 451.6h0M589.9 457.3h0M591.0 456.7h0M592.8 457.8h0M597.9 457.3h0M598.6 456.0h0M527.6 456.9h0M534.5 455.2h0M556.4 469.7h0M554.0 473.1h0M557.8 475.9h0M555.2 482.1h0M551.8 483.9h0M550.3 487.1h0M550.1 488.5h0M547.0 488.9h0M539.8 490.4h0M538.2 491.4h0M534.8 482.0h0M586.3 468.4h0M585.8 472.8h0M585.5 473.6h0M570.4 477.6h0M573.3 480.7h0M573.5 482.8h0M491.4 477.0h0M498.0 484.8h0M501.7 484.0h0M514.3 484.7h0M515.8 480.8h0M517.5 478.6h0M518.2 481.4h0M518.8 482.3h0M521.0 483.5h0M579.9 490.7h0M586.7 490.8h0M586.8 511.0h0M598.3 511.0h0M515.6 510.9h0" fill="none" stroke="#f4f4f4" stroke-opacity="0.69" stroke-width="1.10"/><path d="M509.9 420.8h0M520.4 425.5h0M521.2 431.9h0M546.1 451.8h0M558.4 459.1h0M520.7 402.2h0M521.0 406.3h0M568.2 402.7h0M551.5 430.7h0M566.2 431.1h0M585.4 436.1h0M580.6 438.7h0M582.3 448.9h0M595.5 456.7h0M539.5 440.5h0M525.9 457.7h0M538.2 455.1h0M538.7 450.0h0M558.2 477.2h0M547.7 489.5h0M544.9 490.6h0M541.3 490.6h0M531.8 483.2h0M533.3 481.7h0M575.8 479.6h0M581.4 479.5h0M496.1 483.0h0M498.3 482.9h0M508.4 487.1h0M518.4 484.2h0M586.9 495.6h0M589.4 498.3h0M561.2 497.8h0M523.3 504.8h0M577.4 509.5h0M577.9 511.2h0M588.5 510.8h0M591.1 511.3h0M592.3 509.8h0M515.4 511.7h0" fill="none" stroke="#f4f4f4" stroke-opacity="0.95" stroke-width="1.10"/><path d="M500.0 418.2h0M517.6 424.2h0M519.4 428.4h0M521.3 426.9h0M526.9 438.5h0M528.6 440.2h0M532.8 443.6h0M540.2 446.8h0M542.9 448.6h0M543.8 450.7h0M546.7 452.8h0M550.5 455.1h0M553.8 456.0h0M560.1 459.6h0M559.1 461.9h0M491.7 427.3h0M493.1 428.7h0M500.4 429.7h0M516.7 425.0h0M523.4 424.4h0M519.3 405.1h0M567.5 405.3h0M569.3 411.3h0M571.0 413.1h0M574.9 415.5h0M575.7 414.3h0M564.5 402.7h0M565.6 402.7h0M569.4 402.4h0M570.0 403.2h0M545.6 430.1h0M547.8 430.1h0M562.7 433.1h0M563.6 432.9h0M568.2 430.5h0M576.6 435.1h0M577.9 435.9h0M579.1 435.6h0M582.9 437.2h0M585.1 434.7h0M590.9 435.0h0M576.2 448.1h0M576.5 446.4h0M573.8 444.8h0M572.9 444.5h0M569.5 443.4h0M586.8 452.8h0M589.1 454.7h0M518.3 442.9h0M541.7 443.4h0M523.8 456.3h0M530.2 457.3h0M536.0 453.7h0M538.7 452.4h0M540.1 448.1h0M556.1 469.1h0M559.3 475.1h0M558.1 478.6h0M556.9 480.9h0M552.6 482.2h0M545.4 489.7h0M543.8 490.6h0M539.0 490.6h0M530.7 487.5h0M532.8 484.9h0M588.6 468.1h0M583.9 475.7h0M582.4 477.8h0M571.8 483.4h0M489.9 471.8h0M501.0 484.7h0M504.7 485.2h0M506.6 485.2h0M580.8 490.7h0M583.3 492.8h0M583.1 491.2h0M588.5 496.8h0M524.1 501.8h0M523.0 502.6h0M523.7 503.8h0M575.4 509.5h0M576.1 510.5h0M580.5 510.9h0M582.0 510.6h0M584.1 509.5h0M589.0 509.7h0M595.6 512.8h0M508.8 512.3h0M509.7 512.8h0" fill="none" stroke="#f4f4f4" stroke-opacity="0.43" stroke-width="1.65"/><path d="M499.6 415.3h0M513.1 421.0h0M515.8 423.7h0M517.5 425.9h0M518.9 425.7h0M520.8 432.9h0M522.2 433.2h0M522.1 435.4h0M523.7 436.7h0M529.2 441.2h0M530.7 442.5h0M531.8 443.1h0M534.0 442.7h0M534.6 446.0h0M540.5 448.2h0M547.4 453.5h0M548.3 453.6h0M550.8 455.9h0M562.6 466.0h0M489.6 424.9h0M494.7 428.4h0M497.2 429.2h0M498.2 429.5h0M517.6 422.8h0M518.9 424.7h0M521.5 424.0h0M520.3 407.2h0M566.3 403.6h0M567.6 406.1h0M568.7 406.5h0M568.4 408.0h0M568.6 409.9h0M570.4 412.3h0M572.4 413.0h0M572.5 414.3h0M572.0 415.9h0M574.9 414.4h0M563.4 402.1h0M566.6 401.2h0M571.8 403.3h0M540.7 427.7h0M543.8 428.8h0M549.2 430.7h0M551.9 428.7h0M555.1 431.3h0M559.6 433.0h0M561.0 432.4h0M567.3 430.3h0M570.3 431.3h0M574.4 432.6h0M575.9 434.4h0M581.8 437.1h0M584.0 435.9h0M586.7 433.7h0M587.6 433.9h0M589.8 434.5h0M581.9 439.5h0M582.6 440.2h0M580.7 441.5h0M581.7 447.3h0M579.4 448.2h0M574.8 445.6h0M570.5 442.9h0M566.8 440.0h0M582.3 448.1h0M587.9 452.7h0M586.9 454.6h0M592.1 458.6h0M593.9 457.0h0M594.6 457.1h0M516.1 443.4h0M540.3 442.6h0M532.5 457.3h0M539.3 451.6h0M538.9 449.3h0M540.7 449.5h0M554.8 468.6h0M553.8 472.2h0M557.3 474.0h0M558.4 478.3h0M558.0 479.3h0M557.1 482.2h0M554.5 482.6h0M549.3 489.0h0M542.5 489.3h0M531.9 490.2h0M532.2 487.8h0M530.5 489.7h0M529.8 487.4h0M529.3 486.7h0M588.3 465.9h0M585.7 470.9h0M571.9 476.9h0M574.8 479.4h0M576.9 478.6h0M579.5 480.1h0M581.5 478.5h0M584.1 477.8h0M585.0 477.6h0M574.5 482.0h0M489.0 471.4h0M490.2 473.0h0M492.2 475.2h0M493.8 477.4h0M495.3 477.9h0M495.1 478.9h0M497.8 482.4h0M499.8 483.8h0M508.1 486.2h0M510.9 490.2h0M511.5 492.1h0M508.3 484.9h0M509.8 486.2h0M510.5 483.5h0M512.1 482.9h0M514.9 482.5h0M517.1 479.7h0M518.7 478.4h0M520.0 483.0h0M521.5 483.8h0M584.2 492.9h0M584.9 491.3h0M584.7 493.4h0M586.4 492.8h0M559.9 499.7h0M523.1 499.9h0M574.3 509.7h0M579.1 509.8h0M581.3 510.6h0M583.4 511.0h0M585.5 510.3h0M590.0 509.1h0M593.3 510.5h0M595.4 509.6h0M511.5 513.3h0M512.1 513.7h0M515.4 513.1h0" fill="none" stroke="#f4f4f4" stroke-opacity="0.69" stroke-width="1.65"/><path d="M507.2 418.3h0M510.0 419.5h0M512.8 422.7h0M514.6 423.8h0M523.2 429.0h0M524.0 435.2h0M526.0 437.7h0M534.6 443.6h0M536.7 445.8h0M550.5 453.5h0M552.5 455.7h0M558.0 458.1h0M488.7 425.0h0M496.1 429.8h0M499.3 428.3h0M516.5 426.8h0M519.6 404.0h0M569.1 403.9h0M573.8 414.8h0M576.7 415.5h0M577.0 413.9h0M546.6 430.9h0M553.1 427.5h0M552.1 431.4h0M553.3 430.4h0M556.9 432.4h0M560.4 431.9h0M569.4 430.8h0M579.9 437.4h0M581.6 436.8h0M592.4 435.2h0M581.8 444.1h0M575.0 444.4h0M567.4 440.1h0M586.0 449.3h0M584.4 451.4h0M588.1 454.4h0M517.2 443.0h0M531.3 457.0h0M534.0 455.8h0M535.8 454.6h0M538.0 452.7h0M556.9 474.0h0M546.3 489.6h0M542.0 490.2h0M533.5 491.1h0M529.4 487.5h0M532.5 481.8h0M587.1 471.1h0M586.6 472.2h0M586.0 474.5h0M584.5 474.7h0M568.6 476.5h0M573.5 479.8h0M578.7 478.9h0M573.9 479.8h0M492.4 475.0h0M493.8 475.2h0M495.1 482.6h0M503.8 485.6h0M507.7 485.3h0M510.8 488.7h0M510.0 492.9h0M510.2 494.5h0M581.9 490.6h0M559.8 500.9h0M579.6 510.5h0M587.2 508.7h0M597.2 510.5h0M513.8 512.9h0" fill="none" stroke="#f4f4f4" stroke-opacity="0.95" stroke-width="1.65"/><path d="M505.7 414.4h0M525.6 436.9h0M526.2 438.6h0M554.7 456.3h0M556.0 457.8h0M557.2 457.8h0M558.8 459.6h0M495.3 430.0h0M522.1 423.2h0M526.8 422.8h0M521.1 405.5h0M586.0 434.8h0M582.7 443.0h0M579.6 449.1h0M578.6 447.6h0M577.6 447.7h0M583.7 449.6h0M596.7 457.6h0M538.9 441.4h0M523.1 455.8h0M553.4 483.7h0M536.4 492.0h0M531.4 486.0h0M589.6 467.4h0M569.3 477.1h0M494.7 480.1h0M494.5 481.0h0M512.1 485.0h0M598.8 512.3h0M510.4 512.7h0M516.6 510.4h0M518.8 510.6h0" fill="none" stroke="#f4f4f4" stroke-opacity="0.43" stroke-width="2.20"/><path d="M503.2 416.3h0M504.5 416.5h0M511.4 421.0h0M520.0 429.1h0M552.7 453.9h0M555.2 457.6h0M560.2 464.6h0M560.2 466.2h0M517.0 423.5h0M515.5 425.6h0M515.6 427.9h0M515.5 429.2h0M514.6 429.6h0M519.2 403.5h0M568.6 407.2h0M569.0 408.7h0M568.6 410.6h0M569.8 411.9h0M571.2 402.5h0M539.7 429.0h0M544.8 429.2h0M548.4 430.0h0M551.3 426.9h0M550.0 430.0h0M556.1 431.9h0M558.0 430.6h0M558.9 432.0h0M575.0 433.6h0M578.3 434.3h0M581.9 439.0h0M591.7 434.5h0M581.4 446.0h0M579.9 448.2h0M575.7 445.7h0M572.4 443.7h0M583.0 446.6h0M590.2 456.2h0M590.1 458.1h0M518.7 442.2h0M539.3 442.3h0M525.0 455.8h0M528.3 455.7h0M534.9 454.7h0M554.9 471.0h0M557.0 475.0h0M558.1 480.4h0M552.2 485.0h0M537.2 491.3h0M535.7 490.9h0M534.5 490.8h0M530.0 485.9h0M589.9 465.7h0M587.4 470.0h0M571.9 478.7h0M574.2 480.3h0M580.2 479.3h0M491.0 473.7h0M492.3 473.3h0M510.4 493.8h0M515.5 481.6h0M515.4 484.0h0M587.3 490.3h0M586.3 494.6h0M589.3 497.1h0M561.0 498.7h0M523.9 502.4h0M594.2 510.9h0M512.9 512.8h0" fill="none" stroke="#f4f4f4" stroke-opacity="0.69" stroke-width="2.20"/><path d="M511.6 421.6h0M531.1 440.7h0M560.3 463.6h0M561.2 463.4h0M491.3 425.8h0M494.2 428.9h0M501.4 429.2h0M520.8 424.9h0M516.4 425.1h0M514.4 426.8h0M550.9 431.4h0M550.1 429.8h0M573.6 431.7h0M580.9 445.3h0M569.8 441.4h0M567.7 441.6h0M583.7 448.5h0M589.3 455.8h0M515.0 443.6h0M526.8 458.0h0M532.7 455.9h0M556.1 473.4h0M551.1 486.5h0M547.7 488.7h0M532.8 490.5h0M530.7 484.3h0M572.7 484.5h0M500.0 485.4h0M502.7 484.5h0M505.8 485.9h0M508.7 488.0h0M513.9 482.2h0M516.2 480.3h0M579.2 489.4h0" fill="none" stroke="#f4f4f4" stroke-opacity="0.95" stroke-width="2.20"/></g><g clip-path="url(#cC5)" filter="url(#bl)"><ellipse cx="518.7" cy="425.7" rx="2.16" ry="2.05" transform="rotate(34 518.7 425.7)" fill="#f0f0f0" fill-opacity="0.76"/><ellipse cx="546.9" cy="410.8" rx="2.04" ry="1.67" transform="rotate(139 546.9 410.8)" fill="#f0f0f0" fill-opacity="0.76"/><ellipse cx="548.6" cy="411.6" rx="2.24" ry="1.97" transform="rotate(92 548.6 411.6)" fill="#f0f0f0" fill-opacity="0.76"/><ellipse cx="535.3" cy="419.1" rx="1.90" ry="1.77" transform="rotate(101 535.3 419.1)" fill="#f0f0f0" fill-opacity="0.76"/><ellipse cx="594.2" cy="408.3" rx="1.91" ry="1.67" transform="rotate(94 594.2 408.3)" fill="#f0f0f0" fill-opacity="0.76"/><ellipse cx="583.4" cy="424.9" rx="1.77" ry="1.52" transform="rotate(153 583.4 424.9)" fill="#f0f0f0" fill-opacity="0.76"/><ellipse cx="596.7" cy="427.4" rx="2.02" ry="1.60" transform="rotate(5 596.7 427.4)" fill="#f0f0f0" fill-opacity="0.76"/><ellipse cx="502.9" cy="454.8" rx="1.93" ry="1.55" transform="rotate(79 502.9 454.8)" fill="#f0f0f0" fill-opacity="0.76"/><ellipse cx="517.9" cy="458.9" rx="2.04" ry="1.59" transform="rotate(111 517.9 458.9)" fill="#f0f0f0" fill-opacity="0.76"/><ellipse cx="569.3" cy="453.9" rx="2.22" ry="1.96" transform="rotate(17 569.3 453.9)" fill="#f0f0f0" fill-opacity="0.76"/><ellipse cx="589.2" cy="483.0" rx="2.04" ry="1.94" transform="rotate(84 589.2 483.0)" fill="#f0f0f0" fill-opacity="0.76"/><ellipse cx="599.2" cy="478.0" rx="2.07" ry="1.76" transform="rotate(62 599.2 478.0)" fill="#f0f0f0" fill-opacity="0.76"/><ellipse cx="565.2" cy="489.6" rx="1.98" ry="1.56" transform="rotate(31 565.2 489.6)" fill="#f0f0f0" fill-opacity="0.76"/><ellipse cx="541.1" cy="494.6" rx="2.05" ry="1.58" transform="rotate(150 541.1 494.6)" fill="#f0f0f0" fill-opacity="0.76"/><ellipse cx="506.2" cy="502.1" rx="1.86" ry="1.49" transform="rotate(100 506.2 502.1)" fill="#f0f0f0" fill-opacity="0.76"/><ellipse cx="592.5" cy="504.5" rx="2.10" ry="2.03" transform="rotate(110 592.5 504.5)" fill="#f0f0f0" fill-opacity="0.76"/><ellipse cx="552.7" cy="512.0" rx="2.21" ry="2.05" transform="rotate(159 552.7 512.0)" fill="#f0f0f0" fill-opacity="0.76"/><ellipse cx="490.5" cy="506.2" rx="2.15" ry="1.89" transform="rotate(3 490.5 506.2)" fill="#f0f0f0" fill-opacity="0.76"/><ellipse cx="541.1" cy="517.0" rx="1.99" ry="1.60" transform="rotate(80 541.1 517.0)" fill="#f0f0f0" fill-opacity="0.76"/><ellipse cx="580.1" cy="448.1" rx="2.10" ry="1.88" transform="rotate(161 580.1 448.1)" fill="#f0f0f0" fill-opacity="0.76"/><ellipse cx="557.7" cy="460.6" rx="1.85" ry="1.83" transform="rotate(59 557.7 460.6)" fill="#f0f0f0" fill-opacity="0.76"/></g>
<g clip-path="url(#cC6)"><rect x="602.4" y="400" width="112.1" height="118.5" filter="url(#noiseD)" opacity="0.8"/></g>
<g clip-path="url(#cC6)" filter="url(#bl3)" stroke-linecap="round" stroke-linejoin="round"><path d="M602.8 413.2 L611.2 416.5 L616.2 425.0 L621.0 430.0 L627.4 436.3 L636.0 442.8" fill="none" stroke="#b4b4b4" stroke-width="7.37" stroke-opacity="0.5"/><path d="M616.6 425.0 L610.8 433.1 L604.8 442.9" fill="none" stroke="#b4b4b4" stroke-width="5.86" stroke-opacity="0.5"/><path d="M631.5 403.1 L632.8 411.7 L628.3 416.4" fill="none" stroke="#b4b4b4" stroke-width="5.33" stroke-opacity="0.5"/><path d="M638.1 410.8 L647.5 411.3" fill="none" stroke="#b4b4b4" stroke-width="6.09" stroke-opacity="0.5"/><path d="M632.4 426.7 L643.0 427.7 L651.5 430.7 L658.2 431.5 L666.3 431.5" fill="none" stroke="#b4b4b4" stroke-width="6.99" stroke-opacity="0.5"/><path d="M657.6 431.5 L653.2 438.4" fill="none" stroke="#b4b4b4" stroke-width="7.12" stroke-opacity="0.5"/><path d="M655.8 411.2 L664.0 407.9 L672.2 409.2 L681.4 412.9 L681.2 420.3 L676.3 424.5" fill="none" stroke="#b4b4b4" stroke-width="7.07" stroke-opacity="0.5"/><path d="M659.8 430.7 L667.3 437.0 L675.9 441.1 L683.9 444.7 L691.3 444.5 L694.6 441.8" fill="none" stroke="#b4b4b4" stroke-width="6.47" stroke-opacity="0.5"/><path d="M684.3 444.8 L680.6 451.6 L676.2 456.6 L669.2 459.7 L663.0 463.3 L654.0 464.5 L647.5 466.6 L642.7 467.9" fill="none" stroke="#b4b4b4" stroke-width="5.85" stroke-opacity="0.5"/><path d="M659.1 445.2 L662.9 451.2 L664.4 458.4" fill="none" stroke="#b4b4b4" stroke-width="7.70" stroke-opacity="0.5"/><path d="M643.1 450.2 L647.8 453.2 L653.1 449.8" fill="none" stroke="#b4b4b4" stroke-width="5.84" stroke-opacity="0.5"/><path d="M643.0 450.0 L646.5 457.7" fill="none" stroke="#b4b4b4" stroke-width="5.27" stroke-opacity="0.5"/><path d="M623.1 460.2 L621.6 466.8 L625.9 471.0 L633.0 473.3 L639.1 475.1 L647.5 477.7 L656.0 477.7 L664.0 475.9 L672.2 474.3" fill="none" stroke="#b4b4b4" stroke-width="7.19" stroke-opacity="0.5"/><path d="M604.6 468.3 L613.0 472.9 L619.8 476.4 L625.8 471.8" fill="none" stroke="#b4b4b4" stroke-width="6.22" stroke-opacity="0.5"/><path d="M632.5 472.6 L630.7 481.2 L628.2 487.9 L623.3 492.6" fill="none" stroke="#b4b4b4" stroke-width="8.03" stroke-opacity="0.5"/><path d="M672.2 475.1 L681.0 478.0 L689.8 479.5 L697.7 484.7 L705.7 485.9" fill="none" stroke="#b4b4b4" stroke-width="6.46" stroke-opacity="0.5"/><path d="M680.8 459.5 L681.4 468.0 L684.5 475.9" fill="none" stroke="#b4b4b4" stroke-width="7.58" stroke-opacity="0.5"/><path d="M672.5 474.8 L669.8 484.9 L667.2 492.5 L664.8 501.1 L661.5 506.2" fill="none" stroke="#b4b4b4" stroke-width="7.64" stroke-opacity="0.5"/><path d="M648.2 492.8 L656.4 498.1 L664.7 501.7 L673.0 503.1" fill="none" stroke="#b4b4b4" stroke-width="6.13" stroke-opacity="0.5"/><path d="M637.4 497.9 L639.4 504.0 L635.7 510.9" fill="none" stroke="#b4b4b4" stroke-width="6.43" stroke-opacity="0.5"/><path d="M680.7 487.8 L684.8 495.1 L687.3 501.4" fill="none" stroke="#b4b4b4" stroke-width="7.43" stroke-opacity="0.5"/><path d="M689.4 479.2 L690.7 491.7" fill="none" stroke="#b4b4b4" stroke-width="7.86" stroke-opacity="0.5"/><path d="M697.4 484.9 L696.2 494.5 L694.1 504.5 L697.6 514.0" fill="none" stroke="#b4b4b4" stroke-width="5.26" stroke-opacity="0.5"/><path d="M706.0 486.3 L712.7 491.3" fill="none" stroke="#b4b4b4" stroke-width="5.26" stroke-opacity="0.5"/><path d="M700.9 427.8 L707.9 424.7 L714.1 423.3" fill="none" stroke="#b4b4b4" stroke-width="7.30" stroke-opacity="0.5"/><path d="M697.1 438.6 L706.3 440.1 L713.9 439.1" fill="none" stroke="#b4b4b4" stroke-width="6.46" stroke-opacity="0.5"/><path d="M701.3 444.5 L707.3 448.5 L714.0 446.4" fill="none" stroke="#b4b4b4" stroke-width="7.88" stroke-opacity="0.5"/><path d="M704.1 401.4 L712.1 403.3" fill="none" stroke="#b4b4b4" stroke-width="5.63" stroke-opacity="0.5"/><path d="M605.0 487.6 L614.2 489.2 L619.7 487.7" fill="none" stroke="#b4b4b4" stroke-width="5.99" stroke-opacity="0.5"/><path d="M605.1 504.1 L611.1 509.0" fill="none" stroke="#b4b4b4" stroke-width="6.23" stroke-opacity="0.5"/><path d="M667.5 517.8 L677.5 516.6 L687.9 518.2" fill="none" stroke="#b4b4b4" stroke-width="6.99" stroke-opacity="0.5"/><path d="M679.4 421.3h0M664.5 474.0h0M663.2 502.1h0" fill="none" stroke="#f4f4f4" stroke-opacity="0.00" stroke-width="0.90"/><path d="M644.2 478.3h0M665.2 504.8h0" fill="none" stroke="#f4f4f4" stroke-opacity="0.00" stroke-width="0.90"/><path d="M643.8 429.0h0M681.7 420.2h0M678.3 438.6h0M687.8 446.3h0M629.6 480.5h0M654.9 498.1h0M707.2 488.3h0M704.4 440.8h0" fill="none" stroke="#f4f4f4" stroke-opacity="0.00" stroke-width="1.40"/><path d="M672.3 410.6h0M701.9 484.5h0M664.4 501.1h0" fill="none" stroke="#f4f4f4" stroke-opacity="0.00" stroke-width="1.40"/><path d="M676.5 439.3h0M644.8 467.4h0" fill="none" stroke="#f4f4f4" stroke-opacity="0.00" stroke-width="1.90"/><path d="M641.1 502.9h0" fill="none" stroke="#f4f4f4" stroke-opacity="0.00" stroke-width="1.90"/></g>
<g clip-path="url(#cC6)" filter="url(#bl)" stroke-linecap="round" stroke-linejoin="round"><path d="M604.0 415.0h0M608.8 417.8h0M614.6 416.7h0M609.7 420.2h0M614.7 418.8h0M613.8 419.9h0M613.4 420.9h0M612.4 422.6h0M615.6 422.1h0M616.4 422.5h0M616.5 424.8h0M618.4 426.2h0M620.3 427.6h0M621.4 428.7h0M622.5 429.0h0M623.7 432.0h0M623.6 436.4h0M624.4 437.5h0M627.9 435.5h0M628.2 439.3h0M628.2 441.6h0M632.6 441.4h0M632.6 443.0h0M633.6 443.7h0M633.9 443.9h0M635.3 444.0h0M618.8 427.6h0M614.7 425.6h0M616.7 428.0h0M614.2 427.9h0M611.7 428.7h0M611.4 429.8h0M612.2 432.5h0M610.1 431.7h0M609.6 433.1h0M611.4 436.9h0M610.3 437.7h0M609.8 438.6h0M610.2 442.0h0M606.2 439.6h0M629.2 404.8h0M634.2 406.5h0M632.3 410.8h0M634.4 414.3h0M630.3 411.5h0M630.1 414.4h0M630.7 415.6h0M628.6 417.2h0M640.4 410.2h0M642.6 410.7h0M643.0 412.4h0M644.1 407.8h0M644.4 409.2h0M645.2 412.2h0M645.6 413.4h0M645.9 414.7h0M646.9 411.0h0M632.5 428.5h0M633.6 427.5h0M635.0 424.5h0M635.3 427.8h0M637.1 430.1h0M639.7 424.6h0M641.6 422.6h0M642.8 426.1h0M645.0 426.3h0M645.1 427.5h0M646.9 429.1h0M646.8 431.1h0M649.0 428.1h0M649.8 429.3h0M651.1 430.3h0M651.6 429.5h0M652.6 426.1h0M654.7 428.8h0M660.2 430.4h0M661.1 433.2h0M661.4 434.7h0M663.9 432.0h0M658.4 434.1h0M653.6 435.2h0M655.3 437.2h0M652.2 436.2h0M656.1 412.6h0M656.0 410.1h0M657.5 412.2h0M658.3 410.0h0M658.5 407.2h0M660.7 410.3h0M660.4 408.2h0M661.1 408.2h0M663.7 407.9h0M663.7 407.1h0M666.2 404.5h0M666.5 410.1h0M669.8 405.3h0M669.9 407.0h0M670.4 409.9h0M671.8 405.4h0M673.8 409.1h0M673.7 411.7h0M677.1 411.0h0M681.0 416.8h0M683.4 417.9h0M683.9 419.1h0M678.8 423.0h0M660.1 430.4h0M660.6 430.6h0M665.6 430.5h0M663.7 433.8h0M664.0 435.0h0M664.6 435.3h0M666.3 434.6h0M666.5 435.6h0M664.7 438.6h0M669.5 434.4h0M667.5 439.4h0M669.0 439.7h0M670.3 439.5h0M673.0 438.2h0M671.3 442.1h0M671.5 443.0h0M675.0 438.1h0M676.4 436.5h0M677.3 440.3h0M677.2 442.8h0M677.8 442.4h0M678.2 444.3h0M680.9 442.0h0M681.0 444.8h0M683.3 443.2h0M683.9 443.2h0M684.1 444.5h0M684.2 442.6h0M685.4 445.1h0M688.1 444.1h0M689.3 442.4h0M689.9 447.6h0M688.1 442.3h0M694.5 447.5h0M692.5 443.6h0M693.0 442.2h0M681.4 443.7h0M683.9 447.8h0M682.5 449.5h0M680.6 451.1h0M677.6 448.8h0M681.3 453.4h0M679.7 453.4h0M681.4 456.7h0M675.8 453.5h0M676.3 454.8h0M676.9 458.8h0M673.6 455.5h0M673.3 456.2h0M674.5 459.5h0M674.1 459.9h0M674.0 460.6h0M670.4 455.6h0M672.0 459.4h0M664.9 459.9h0M665.0 463.1h0M662.8 459.9h0M662.7 464.8h0M660.9 462.8h0M658.0 465.8h0M657.9 467.8h0M655.8 462.6h0M653.7 464.6h0M651.9 466.2h0M648.7 467.5h0M646.2 461.0h0M648.5 472.3h0M642.9 465.4h0M658.4 445.6h0M661.8 444.5h0M660.7 446.5h0M659.9 448.3h0M659.4 449.1h0M656.9 451.1h0M659.0 450.9h0M661.8 452.5h0M659.3 453.9h0M664.2 453.1h0M664.7 454.0h0M665.4 454.4h0M644.9 449.0h0M645.3 450.4h0M646.0 450.1h0M644.8 453.2h0M648.4 451.1h0M647.8 452.5h0M648.1 452.2h0M649.0 453.1h0M648.0 449.7h0M652.9 450.1h0M644.3 451.7h0M647.8 451.8h0M646.3 455.0h0M644.9 456.2h0M643.4 457.4h0M645.8 457.3h0M623.0 460.8h0M619.2 460.5h0M623.7 462.1h0M622.0 463.4h0M621.6 463.8h0M624.3 467.5h0M621.7 470.4h0M622.9 470.2h0M622.4 471.5h0M627.7 470.8h0M626.6 475.9h0M627.7 472.2h0M630.0 471.7h0M631.0 474.6h0M631.4 475.3h0M634.4 469.5h0M633.5 475.5h0M637.0 471.9h0M637.9 471.4h0M638.3 472.1h0M640.1 475.0h0M639.9 477.5h0M643.4 473.7h0M643.0 476.3h0M644.0 476.5h0M644.1 478.0h0M646.2 474.2h0M647.2 478.1h0M648.6 477.9h0M650.0 478.0h0M650.6 474.2h0M652.9 476.3h0M654.1 480.1h0M654.7 475.8h0M655.7 481.4h0M657.3 480.2h0M657.1 476.0h0M658.5 479.5h0M660.0 480.2h0M660.8 476.4h0M660.1 470.8h0M660.7 471.6h0M664.6 479.0h0M664.9 478.6h0M665.1 475.3h0M667.1 480.8h0M667.1 474.9h0M668.1 475.9h0M668.6 476.2h0M669.9 478.8h0M669.6 473.9h0M604.2 470.1h0M605.8 470.4h0M607.4 470.6h0M610.8 468.9h0M610.1 473.8h0M615.3 467.9h0M613.2 472.3h0M612.7 474.6h0M614.9 471.2h0M615.1 474.0h0M614.5 476.2h0M615.6 475.3h0M620.4 472.3h0M619.5 475.8h0M623.2 476.6h0M622.6 475.0h0M625.1 472.9h0M626.2 473.7h0M625.3 470.6h0M630.1 473.4h0M631.5 474.9h0M632.3 479.0h0M629.2 480.0h0M631.6 482.1h0M630.7 482.3h0M630.4 482.8h0M630.6 483.2h0M632.7 484.9h0M627.7 484.8h0M629.7 486.2h0M625.5 487.0h0M625.3 486.2h0M629.4 491.9h0M625.5 488.1h0M627.6 493.2h0M623.1 491.6h0M674.2 476.9h0M677.0 476.0h0M680.4 476.4h0M681.2 476.4h0M681.4 475.4h0M681.7 477.8h0M687.6 484.2h0M690.9 478.6h0M689.9 481.2h0M690.6 481.1h0M692.5 481.5h0M694.6 480.2h0M699.6 483.2h0M700.0 484.8h0M701.0 484.3h0M705.0 483.0h0M705.1 485.1h0M705.6 485.2h0M683.3 461.4h0M679.8 463.3h0M681.0 463.8h0M683.5 464.9h0M680.5 465.9h0M679.7 468.6h0M681.9 470.0h0M680.1 471.2h0M682.5 470.7h0M684.1 471.8h0M685.0 472.4h0M686.9 472.0h0M683.9 473.6h0M686.6 474.0h0M671.8 474.7h0M671.6 475.7h0M671.6 477.2h0M671.5 478.8h0M672.7 480.2h0M671.0 481.5h0M670.6 481.8h0M669.2 482.0h0M669.7 485.4h0M668.5 486.9h0M670.7 492.9h0M668.2 493.6h0M665.3 494.6h0M665.4 495.6h0M667.7 497.9h0M665.1 498.5h0M667.4 500.4h0M667.2 503.8h0M662.0 501.8h0M648.2 496.8h0M649.0 497.7h0M649.7 497.4h0M653.9 495.8h0M654.4 498.8h0M657.6 497.1h0M658.1 498.0h0M660.6 499.2h0M660.7 500.0h0M661.4 500.1h0M662.8 501.5h0M666.0 501.0h0M666.7 501.8h0M671.6 503.1h0M672.5 500.6h0M639.7 498.1h0M636.2 500.9h0M638.3 501.1h0M638.5 502.1h0M643.8 506.1h0M633.5 505.5h0M637.6 509.5h0M636.8 509.7h0M640.3 512.6h0M680.9 489.3h0M679.5 490.5h0M686.4 489.2h0M682.8 491.3h0M682.3 495.3h0M685.4 493.9h0M685.5 494.4h0M681.6 498.0h0M685.3 496.1h0M686.6 496.3h0M686.7 497.3h0M683.8 499.9h0M684.6 500.1h0M689.0 498.0h0M685.5 502.8h0M688.2 480.0h0M690.3 480.7h0M688.5 481.4h0M689.2 482.5h0M688.6 486.6h0M691.5 486.7h0M693.3 489.1h0M694.2 489.6h0M691.8 490.3h0M697.3 484.5h0M697.4 484.9h0M696.1 487.3h0M697.9 489.0h0M697.0 490.5h0M699.5 492.2h0M696.5 493.1h0M694.6 493.3h0M695.2 498.9h0M694.2 500.0h0M696.2 500.6h0M695.9 504.0h0M695.9 506.8h0M695.3 508.6h0M696.8 509.3h0M699.2 513.7h0M706.8 486.3h0M708.1 486.3h0M708.3 487.1h0M709.5 486.5h0M707.7 492.2h0M710.2 490.5h0M711.0 490.9h0M711.3 492.2h0M701.3 427.8h0M702.1 427.9h0M706.5 426.2h0M707.8 428.0h0M708.0 425.7h0M708.6 426.0h0M710.9 423.7h0M712.2 423.4h0M714.4 425.3h0M697.8 438.4h0M701.3 439.4h0M703.6 437.9h0M704.4 440.6h0M704.9 439.6h0M705.3 440.4h0M708.8 441.2h0M709.3 437.0h0M709.9 439.6h0M711.1 440.3h0M711.7 441.5h0M713.3 442.0h0M713.9 441.3h0M703.6 445.1h0M703.7 446.5h0M706.7 442.6h0M705.5 446.6h0M705.6 447.4h0M708.8 447.4h0M709.4 448.5h0M712.2 451.2h0M712.7 446.1h0M714.2 445.6h0M704.6 402.7h0M704.8 403.6h0M706.6 400.9h0M708.0 398.7h0M708.8 402.1h0M711.2 403.1h0M711.4 404.7h0M713.0 402.4h0M605.5 491.8h0M606.6 488.1h0M608.3 488.3h0M608.9 488.8h0M611.7 488.7h0M613.6 492.1h0M615.2 489.7h0M616.1 487.4h0M605.1 504.1h0M604.9 507.2h0M606.1 506.4h0M608.6 505.2h0M608.6 507.2h0M608.4 508.8h0M610.3 509.0h0M612.2 508.0h0M669.2 519.3h0M672.2 519.2h0M674.1 515.8h0M674.6 516.0h0M675.8 517.0h0M677.3 516.0h0M679.4 516.4h0M680.8 515.6h0M681.3 515.6h0M684.8 515.7h0M687.2 516.8h0M687.6 517.0h0" fill="none" stroke="#303030" stroke-opacity="0.5" stroke-width="1.2"/><path d="M609.9 417.3h0M615.0 427.1h0M626.1 432.5h0M625.9 435.1h0M634.0 444.8h0M610.4 429.1h0M610.6 433.8h0M605.0 442.7h0M632.9 402.3h0M632.8 406.9h0M630.7 407.9h0M633.4 407.8h0M635.0 410.5h0M630.2 410.5h0M629.9 414.8h0M641.4 412.0h0M646.2 429.0h0M648.0 429.0h0M652.4 427.3h0M656.5 433.9h0M655.3 435.6h0M663.3 407.1h0M664.2 407.9h0M666.6 406.2h0M672.3 408.7h0M674.2 410.6h0M679.8 416.7h0M672.0 438.7h0M674.7 440.4h0M682.1 446.3h0M681.7 447.7h0M681.5 448.3h0M680.3 452.4h0M680.4 454.1h0M670.0 459.9h0M664.2 461.7h0M661.6 463.1h0M650.3 467.6h0M649.5 466.3h0M648.5 466.6h0M648.0 470.8h0M643.8 449.8h0M647.3 450.8h0M643.8 456.7h0M644.6 457.8h0M644.8 458.4h0M622.6 462.5h0M619.7 464.0h0M623.2 467.5h0M631.2 473.7h0M640.2 476.5h0M642.5 472.8h0M656.9 474.7h0M660.3 481.3h0M661.0 473.1h0M668.7 473.3h0M608.3 470.0h0M610.4 472.1h0M609.6 475.5h0M615.6 472.8h0M624.3 475.1h0M675.7 472.5h0M681.9 478.7h0M682.4 479.2h0M682.4 460.8h0M680.4 465.6h0M681.5 465.9h0M685.5 474.4h0M670.1 478.3h0M667.6 496.9h0M649.0 495.5h0M654.9 498.0h0M660.1 500.5h0M670.0 501.6h0M636.8 504.5h0M639.6 506.6h0M688.0 482.1h0M696.3 484.4h0M699.2 487.3h0M697.7 491.3h0M697.4 493.2h0M696.8 504.1h0M694.4 506.1h0M702.8 429.2h0M704.5 428.0h0M707.1 427.4h0M707.1 426.7h0M705.5 439.2h0M711.1 439.0h0M703.3 445.9h0M710.2 402.9h0M605.2 487.1h0M613.7 490.9h0M617.0 493.2h0M610.1 508.0h0M676.3 517.3h0" fill="none" stroke="#f4f4f4" stroke-opacity="0.41" stroke-width="1.00"/><path d="M604.2 411.4h0M606.3 411.4h0M606.8 413.3h0M606.9 417.1h0M609.0 414.4h0M609.9 413.0h0M613.8 421.9h0M614.4 422.7h0M615.6 422.9h0M617.6 425.8h0M621.2 426.6h0M618.9 430.6h0M621.4 430.9h0M623.5 431.5h0M622.6 433.1h0M624.5 435.0h0M631.0 441.3h0M634.7 444.8h0M610.3 436.1h0M609.6 437.2h0M609.2 439.9h0M605.4 439.1h0M629.8 403.8h0M632.5 405.5h0M633.8 409.0h0M631.4 412.0h0M633.8 413.6h0M629.1 416.5h0M638.2 410.3h0M638.7 411.0h0M633.9 425.9h0M641.4 423.8h0M644.0 425.9h0M650.1 426.9h0M661.1 432.4h0M656.2 434.4h0M654.4 435.8h0M653.0 436.8h0M660.7 408.9h0M664.1 407.9h0M676.4 408.7h0M677.7 411.4h0M680.4 413.7h0M682.7 417.3h0M680.9 418.3h0M679.2 421.3h0M676.7 423.1h0M662.7 435.8h0M677.3 443.6h0M690.3 446.0h0M679.6 446.3h0M675.8 455.0h0M678.4 458.7h0M674.0 457.5h0M672.2 461.2h0M668.2 457.4h0M667.4 457.9h0M666.6 459.2h0M663.1 461.8h0M662.6 464.0h0M662.1 463.5h0M660.0 465.1h0M659.1 463.3h0M657.7 464.2h0M655.5 465.1h0M652.6 462.0h0M643.0 467.8h0M660.8 448.4h0M660.3 453.0h0M663.3 453.3h0M660.8 454.5h0M645.3 452.4h0M646.4 453.3h0M649.6 450.6h0M643.8 455.3h0M622.8 463.6h0M622.8 464.0h0M622.2 470.9h0M623.3 470.8h0M626.6 471.8h0M626.8 475.1h0M628.0 470.9h0M634.6 477.2h0M636.7 473.1h0M643.8 475.4h0M652.9 477.2h0M654.1 478.6h0M658.6 478.2h0M659.8 477.0h0M664.5 478.1h0M671.7 475.0h0M606.5 469.2h0M614.7 468.9h0M618.0 474.4h0M619.0 474.3h0M632.2 476.3h0M631.1 477.1h0M631.6 484.4h0M629.8 484.6h0M629.0 485.4h0M628.3 485.6h0M627.8 491.7h0M675.7 477.1h0M687.9 479.7h0M697.0 481.9h0M697.3 485.3h0M679.9 466.4h0M684.4 470.5h0M683.5 472.9h0M684.3 474.5h0M683.8 475.7h0M670.1 477.9h0M671.7 482.2h0M671.6 483.9h0M668.5 485.2h0M667.1 493.3h0M666.5 497.4h0M664.1 504.3h0M658.1 495.7h0M664.3 501.5h0M667.3 501.0h0M673.0 500.6h0M638.1 498.9h0M638.8 503.6h0M639.7 504.0h0M638.5 508.7h0M685.6 497.5h0M685.3 499.6h0M688.3 480.5h0M687.5 483.2h0M688.5 484.6h0M689.8 489.1h0M689.8 491.2h0M696.7 488.8h0M695.2 489.8h0M698.1 491.9h0M696.2 493.6h0M692.7 500.7h0M695.6 504.3h0M696.3 508.3h0M709.2 488.9h0M711.5 491.0h0M705.2 424.9h0M708.2 424.7h0M712.5 424.5h0M713.4 423.6h0M701.8 438.4h0M702.5 441.7h0M706.8 439.9h0M709.3 438.4h0M702.3 447.1h0M712.0 445.9h0M712.9 445.1h0M705.1 402.3h0M709.1 404.7h0M710.7 403.3h0M712.3 403.5h0M605.6 490.9h0M609.5 487.7h0M613.2 490.0h0M617.9 487.7h0M605.4 504.3h0M608.9 507.9h0M668.9 517.9h0M675.3 516.5h0M683.9 516.9h0" fill="none" stroke="#f4f4f4" stroke-opacity="0.65" stroke-width="1.00"/><path d="M604.2 415.6h0M617.4 427.3h0M622.9 431.2h0M630.2 440.5h0M615.6 425.1h0M613.0 434.9h0M632.7 404.4h0M631.8 410.9h0M644.3 410.3h0M641.5 427.0h0M652.5 432.1h0M662.1 429.3h0M663.8 433.4h0M662.5 408.5h0M678.2 411.5h0M681.1 414.5h0M679.8 420.1h0M680.9 421.7h0M669.6 434.8h0M680.4 447.3h0M684.9 444.3h0M688.4 448.6h0M696.1 444.4h0M683.3 451.3h0M682.4 453.4h0M676.2 457.5h0M674.0 458.6h0M673.5 458.7h0M673.3 459.4h0M665.5 460.9h0M658.8 446.8h0M658.2 450.3h0M666.0 454.9h0M666.4 456.0h0M648.6 451.1h0M650.6 453.9h0M626.5 471.3h0M628.1 472.6h0M633.8 474.4h0M634.3 474.3h0M637.5 472.9h0M643.8 478.8h0M669.7 477.4h0M671.6 478.1h0M672.8 478.2h0M611.5 473.4h0M630.9 480.9h0M631.6 482.7h0M626.2 489.0h0M624.3 492.2h0M683.1 477.7h0M689.1 482.4h0M682.1 462.0h0M673.0 476.1h0M672.4 476.4h0M668.1 483.3h0M669.6 490.2h0M669.1 491.2h0M666.1 498.8h0M650.5 496.0h0M653.1 498.4h0M655.4 495.8h0M671.3 501.5h0M639.1 499.5h0M681.7 491.8h0M683.3 493.5h0M686.0 494.7h0M689.6 484.1h0M690.9 490.5h0M696.2 494.0h0M693.1 501.4h0M695.3 502.3h0M705.7 487.1h0M709.2 485.8h0M711.6 490.1h0M710.5 424.5h0M710.6 422.7h0M700.5 438.3h0M701.5 437.8h0M713.9 440.5h0M706.1 443.9h0M706.0 446.5h0M605.4 489.0h0M608.6 490.2h0M612.8 489.4h0M614.6 485.9h0M667.9 515.9h0M669.5 518.7h0M677.5 517.1h0M682.9 513.6h0M683.1 516.9h0M686.6 516.5h0M686.9 518.2h0" fill="none" stroke="#f4f4f4" stroke-opacity="0.90" stroke-width="1.00"/><path d="M612.6 420.5h0M616.8 425.8h0M618.7 426.8h0M620.8 429.4h0M628.7 434.2h0M631.7 441.1h0M616.3 430.4h0M615.2 431.4h0M612.5 431.2h0M610.1 435.4h0M611.9 439.3h0M610.8 439.3h0M610.7 440.5h0M609.2 441.3h0M606.0 440.9h0M630.6 404.4h0M629.5 407.1h0M631.4 412.6h0M629.9 413.5h0M629.3 413.6h0M640.1 408.5h0M636.6 427.1h0M637.0 428.1h0M637.2 429.2h0M644.6 427.4h0M646.3 429.7h0M650.1 428.3h0M649.3 432.7h0M653.3 431.3h0M655.1 430.6h0M659.7 432.3h0M661.5 433.4h0M656.4 433.2h0M654.3 433.7h0M655.7 410.8h0M657.7 410.3h0M660.7 407.4h0M664.5 410.6h0M681.6 415.1h0M681.2 422.9h0M663.8 431.6h0M664.9 431.3h0M668.5 435.6h0M668.8 439.2h0M669.9 439.0h0M671.7 441.4h0M674.6 438.8h0M675.7 440.9h0M676.8 441.4h0M677.5 442.0h0M678.6 443.2h0M683.8 441.8h0M684.4 442.0h0M689.9 446.7h0M689.5 443.1h0M692.3 442.4h0M693.0 441.4h0M679.2 451.9h0M668.1 462.6h0M667.2 462.9h0M663.3 460.9h0M661.1 464.0h0M653.8 462.3h0M660.4 450.1h0M660.6 450.5h0M651.8 451.2h0M652.0 450.0h0M642.4 450.5h0M620.3 465.1h0M623.6 468.0h0M625.9 470.1h0M632.9 472.4h0M632.8 474.3h0M643.4 475.3h0M647.2 480.0h0M649.0 479.8h0M653.5 481.8h0M658.7 480.7h0M660.4 476.9h0M660.3 472.0h0M666.0 476.6h0M605.0 468.8h0M606.8 471.6h0M615.1 474.9h0M619.0 476.9h0M622.5 475.7h0M623.5 471.8h0M626.0 471.5h0M633.0 475.3h0M631.1 478.7h0M628.1 487.4h0M627.0 492.5h0M623.3 490.1h0M673.7 474.1h0M674.7 475.8h0M676.3 477.3h0M680.6 477.5h0M681.3 476.3h0M681.5 478.9h0M684.2 476.9h0M686.8 477.2h0M687.7 483.3h0M689.6 478.6h0M690.3 479.5h0M691.2 480.0h0M694.1 480.9h0M698.4 484.0h0M699.4 484.1h0M703.5 487.7h0M681.0 462.6h0M680.8 468.1h0M681.4 469.5h0M683.3 471.7h0M683.1 474.3h0M670.6 477.4h0M673.1 479.9h0M673.9 482.0h0M667.8 481.5h0M670.2 489.9h0M666.2 493.6h0M664.9 497.8h0M663.1 500.1h0M665.6 502.3h0M665.4 506.4h0M661.4 504.7h0M646.3 496.6h0M649.8 496.4h0M656.6 497.9h0M658.6 498.3h0M661.3 498.6h0M663.3 500.3h0M664.1 500.2h0M636.3 506.1h0M638.1 510.2h0M637.4 510.4h0M638.1 511.2h0M690.2 486.3h0M693.1 489.7h0M696.9 488.0h0M697.5 489.7h0M698.9 497.5h0M697.2 498.7h0M695.7 509.1h0M708.4 491.2h0M708.9 491.4h0M704.6 425.3h0M707.6 424.8h0M713.9 423.8h0M704.2 437.4h0M705.0 438.6h0M705.9 439.8h0M707.7 438.6h0M709.9 438.8h0M701.9 443.6h0M701.6 447.7h0M704.9 445.3h0M707.5 446.1h0M708.4 448.1h0M712.0 449.6h0M706.2 402.3h0M709.2 402.6h0M606.8 487.3h0M607.9 484.6h0M607.9 488.3h0M610.1 487.6h0M612.1 489.5h0M619.0 487.7h0M619.7 488.3h0M608.0 505.2h0M679.0 516.3h0M679.3 518.8h0" fill="none" stroke="#f4f4f4" stroke-opacity="0.41" stroke-width="1.65"/><path d="M606.5 415.4h0M608.5 414.2h0M609.2 418.1h0M609.8 417.4h0M611.3 418.9h0M613.5 419.4h0M614.8 422.9h0M615.9 425.5h0M621.0 427.7h0M619.5 431.8h0M623.5 438.4h0M626.4 440.7h0M632.2 439.0h0M633.0 440.1h0M634.0 440.3h0M633.3 442.1h0M633.9 442.3h0M617.5 428.5h0M612.6 426.2h0M611.4 427.9h0M611.1 431.9h0M609.0 433.1h0M607.4 437.6h0M606.8 442.1h0M606.0 442.7h0M633.7 409.6h0M640.7 412.9h0M641.8 412.3h0M644.7 412.1h0M632.6 427.5h0M635.1 426.6h0M635.6 429.2h0M640.3 428.0h0M641.9 427.8h0M643.0 424.6h0M642.8 430.7h0M646.6 424.6h0M647.2 428.4h0M650.6 431.8h0M651.4 430.5h0M654.1 430.0h0M654.6 430.1h0M655.3 433.9h0M657.0 434.6h0M660.1 431.5h0M660.6 434.2h0M665.0 433.3h0M665.6 431.5h0M658.4 432.7h0M657.6 433.5h0M654.4 434.4h0M654.7 437.3h0M654.3 438.6h0M656.8 410.9h0M658.7 411.0h0M658.5 409.7h0M659.0 408.3h0M666.0 405.8h0M667.4 408.4h0M668.3 408.9h0M669.5 406.7h0M669.8 409.8h0M670.6 408.9h0M671.6 406.5h0M671.4 410.0h0M672.4 409.7h0M673.4 409.8h0M674.2 412.1h0M676.5 409.5h0M680.3 413.0h0M682.5 419.0h0M680.8 420.8h0M678.8 422.4h0M676.1 423.0h0M661.3 429.7h0M660.9 431.0h0M660.6 432.3h0M661.8 431.7h0M663.1 430.8h0M663.9 436.1h0M666.2 435.3h0M665.6 436.8h0M672.3 439.4h0M675.4 443.9h0M679.1 440.2h0M678.9 443.5h0M680.6 442.8h0M683.8 445.3h0M684.1 443.9h0M685.4 444.2h0M687.8 443.1h0M688.1 445.2h0M689.7 443.8h0M688.7 443.1h0M691.3 444.5h0M683.9 445.5h0M683.5 446.5h0M685.1 448.4h0M681.7 449.6h0M679.4 448.9h0M682.3 451.4h0M677.7 452.0h0M680.4 455.6h0M677.2 454.2h0M677.0 455.5h0M675.2 457.0h0M672.0 457.8h0M669.9 454.5h0M671.3 458.0h0M671.0 460.5h0M668.3 464.1h0M665.8 462.2h0M658.8 464.6h0M658.4 465.4h0M654.0 465.6h0M652.4 464.3h0M651.7 465.2h0M646.5 461.8h0M648.0 467.6h0M647.0 466.7h0M645.7 469.1h0M657.1 446.3h0M660.5 445.2h0M659.6 447.7h0M663.2 454.4h0M664.9 456.8h0M643.6 449.2h0M644.2 450.0h0M645.4 451.1h0M647.4 451.7h0M650.6 451.2h0M651.0 450.6h0M653.5 452.2h0M653.3 451.0h0M644.3 452.5h0M646.7 452.2h0M645.5 453.9h0M645.2 455.4h0M642.5 457.7h0M642.7 458.1h0M624.0 461.0h0M620.6 465.9h0M622.8 469.5h0M626.3 468.8h0M629.2 472.5h0M630.4 472.9h0M631.6 474.1h0M632.2 474.6h0M635.7 474.5h0M639.1 474.6h0M646.7 476.0h0M648.6 477.0h0M649.3 482.4h0M650.0 477.0h0M650.6 475.2h0M651.0 479.2h0M655.2 477.9h0M655.7 480.4h0M662.3 476.8h0M664.7 477.0h0M665.2 476.3h0M665.8 477.4h0M666.9 479.6h0M668.2 478.6h0M667.9 474.6h0M668.8 477.1h0M669.8 474.8h0M606.2 467.8h0M610.0 468.3h0M610.2 471.3h0M610.9 472.4h0M613.8 471.3h0M613.4 472.3h0M613.1 473.8h0M616.4 476.6h0M618.9 473.3h0M618.0 471.2h0M623.9 475.7h0M624.5 472.1h0M631.2 473.7h0M632.6 474.6h0M634.9 476.5h0M632.8 478.0h0M630.3 480.3h0M629.7 480.8h0M630.2 481.5h0M628.5 483.6h0M628.6 486.4h0M627.2 486.4h0M675.4 475.8h0M676.5 474.7h0M678.1 478.2h0M678.4 479.1h0M683.2 480.4h0M684.4 479.9h0M685.2 479.2h0M687.2 477.3h0M691.6 480.4h0M691.8 482.6h0M694.7 483.2h0M695.5 482.9h0M695.2 483.9h0M696.4 484.8h0M699.7 486.1h0M701.2 483.3h0M700.9 487.5h0M701.5 486.7h0M701.9 488.6h0M702.8 486.1h0M705.7 484.4h0M682.0 460.2h0M681.9 461.5h0M679.5 463.8h0M679.3 464.5h0M682.0 464.9h0M680.0 467.3h0M681.3 468.7h0M683.0 472.3h0M682.3 473.0h0M670.2 481.2h0M668.3 484.5h0M667.6 485.6h0M669.6 487.1h0M666.3 487.0h0M668.0 487.9h0M666.2 487.9h0M665.8 489.8h0M668.9 493.1h0M666.8 495.2h0M665.1 496.5h0M664.2 498.9h0M666.0 503.0h0M663.5 503.3h0M661.0 503.0h0M648.6 494.1h0M650.1 494.6h0M651.2 495.7h0M657.7 499.1h0M658.9 499.0h0M665.1 502.9h0M667.5 503.4h0M669.1 502.8h0M635.4 498.2h0M640.5 498.0h0M639.4 500.0h0M637.4 500.8h0M639.8 501.0h0M639.3 502.0h0M642.0 507.1h0M634.5 506.6h0M680.5 490.6h0M682.5 490.4h0M681.6 492.6h0M682.4 497.5h0M686.0 496.2h0M685.7 498.0h0M684.5 499.4h0M688.0 498.6h0M690.4 482.3h0M686.3 486.1h0M690.5 487.5h0M692.1 489.3h0M695.9 485.3h0M694.5 486.1h0M698.3 488.7h0M697.4 489.3h0M698.1 492.3h0M693.6 494.7h0M694.5 495.9h0M697.9 499.9h0M695.7 500.1h0M694.0 502.6h0M694.2 505.5h0M695.4 511.0h0M698.5 510.8h0M692.9 513.1h0M698.9 512.3h0M706.3 487.9h0M710.8 490.3h0M714.3 488.6h0M702.6 427.8h0M703.5 428.1h0M704.7 427.1h0M704.3 425.5h0M708.3 423.8h0M709.9 425.0h0M713.1 424.4h0M697.9 437.5h0M699.8 439.6h0M703.4 438.9h0M707.2 439.2h0M710.5 439.2h0M711.7 440.6h0M712.3 439.9h0M712.9 440.9h0M713.3 440.7h0M714.4 440.8h0M701.0 446.8h0M701.9 445.8h0M705.1 447.6h0M705.3 449.8h0M708.6 446.2h0M709.2 447.1h0M711.2 448.0h0M712.8 447.1h0M707.4 403.5h0M708.7 400.6h0M709.0 401.2h0M711.6 403.7h0M608.2 489.2h0M614.9 490.4h0M616.4 488.6h0M617.6 488.4h0M605.5 506.2h0M605.5 508.2h0M609.1 504.4h0M611.6 509.0h0M670.6 519.8h0M670.3 515.1h0M672.0 518.3h0M672.1 515.4h0M673.7 516.9h0M677.9 517.2h0M679.0 514.6h0M681.4 518.4h0M682.5 517.1h0M684.6 516.8h0M686.1 516.8h0M687.2 518.5h0M687.8 517.9h0" fill="none" stroke="#f4f4f4" stroke-opacity="0.65" stroke-width="1.65"/><path d="M605.9 414.7h0M610.8 419.7h0M614.4 420.4h0M617.4 423.1h0M612.9 426.0h0M626.6 438.8h0M626.8 439.6h0M628.4 439.8h0M627.4 442.6h0M634.7 442.9h0M617.7 427.0h0M615.6 426.2h0M613.2 427.3h0M612.0 431.9h0M611.5 433.3h0M630.7 405.5h0M639.1 412.0h0M644.0 408.7h0M633.1 428.3h0M635.4 426.9h0M639.5 426.1h0M645.6 426.2h0M645.8 428.1h0M656.1 431.0h0M662.3 405.8h0M666.7 409.3h0M668.7 408.8h0M669.7 407.9h0M678.9 412.5h0M679.4 413.8h0M678.5 416.0h0M677.8 421.9h0M677.2 422.2h0M677.2 422.8h0M675.7 423.6h0M660.8 429.5h0M664.8 433.9h0M670.7 434.8h0M668.3 440.9h0M672.2 441.8h0M674.8 441.6h0M679.6 443.7h0M681.2 442.6h0M680.5 446.1h0M693.5 446.3h0M692.0 442.9h0M693.8 443.2h0M685.9 445.3h0M675.8 451.8h0M676.9 454.6h0M674.1 456.4h0M664.3 460.5h0M663.1 463.0h0M660.4 463.9h0M657.7 466.8h0M656.5 462.6h0M667.5 450.2h0M660.7 453.5h0M663.7 457.7h0M644.5 451.7h0M647.8 452.0h0M643.1 450.7h0M646.8 452.9h0M620.3 460.8h0M621.1 467.1h0M629.0 470.1h0M629.7 473.0h0M631.0 472.1h0M636.5 475.6h0M637.9 473.4h0M640.2 473.0h0M647.5 475.6h0M651.4 478.9h0M656.2 477.6h0M663.7 477.0h0M670.8 477.2h0M672.9 475.8h0M607.0 467.6h0M614.3 472.5h0M615.2 476.3h0M616.4 475.1h0M621.8 473.9h0M625.6 472.9h0M633.5 473.8h0M633.1 477.0h0M629.0 477.4h0M631.5 480.0h0M629.4 482.3h0M629.3 482.7h0M623.3 489.4h0M623.3 492.7h0M685.8 479.0h0M687.7 477.4h0M688.6 481.6h0M692.5 480.3h0M692.3 482.5h0M695.0 480.3h0M696.2 484.0h0M682.3 459.6h0M681.8 466.7h0M681.4 471.1h0M685.6 472.5h0M666.6 486.1h0M666.0 494.2h0M666.7 496.0h0M666.1 497.7h0M664.3 500.1h0M662.4 501.3h0M662.1 506.2h0M652.8 496.4h0M655.9 498.4h0M662.4 499.3h0M665.0 500.9h0M665.7 502.5h0M666.1 503.4h0M668.6 503.6h0M639.5 502.9h0M642.3 505.5h0M642.3 506.1h0M638.5 509.8h0M684.6 493.7h0M683.3 494.9h0M685.5 496.9h0M687.5 500.3h0M690.6 486.9h0M690.8 488.3h0M698.8 485.2h0M696.6 485.9h0M694.6 496.6h0M698.6 498.4h0M693.6 498.8h0M695.6 504.7h0M695.7 509.7h0M695.2 510.6h0M705.8 487.6h0M708.2 489.3h0M710.7 493.0h0M708.6 428.1h0M698.3 437.2h0M699.3 438.8h0M708.4 438.3h0M704.3 403.7h0M707.7 399.9h0M710.9 404.2h0M611.0 486.9h0M611.6 489.5h0M618.4 487.5h0M606.6 505.6h0M609.4 505.9h0M674.4 517.3h0M676.8 516.9h0M677.4 516.8h0M680.4 517.1h0M684.1 514.2h0" fill="none" stroke="#f4f4f4" stroke-opacity="0.90" stroke-width="1.65"/><path d="M619.2 424.8h0M619.4 427.0h0M621.4 430.1h0M628.6 435.7h0M628.8 438.5h0M607.1 441.1h0M603.8 440.5h0M605.8 443.8h0M630.7 412.8h0M629.6 417.7h0M628.0 416.6h0M645.3 410.9h0M638.0 427.4h0M647.2 429.9h0M650.6 430.6h0M659.1 431.4h0M662.5 432.8h0M663.2 431.8h0M664.6 432.2h0M655.7 411.8h0M660.2 409.2h0M667.7 409.1h0M676.6 412.0h0M683.4 414.2h0M681.8 417.8h0M660.9 434.4h0M666.3 437.3h0M668.1 438.2h0M674.9 443.7h0M683.2 442.2h0M685.8 443.7h0M692.3 444.0h0M686.8 447.6h0M656.1 466.6h0M644.7 450.2h0M648.5 452.2h0M643.7 449.3h0M623.0 465.1h0M621.7 467.9h0M627.0 471.8h0M634.8 473.5h0M637.8 476.4h0M646.9 474.0h0M646.6 479.5h0M654.6 476.9h0M657.5 481.4h0M662.2 473.6h0M614.3 474.1h0M619.9 473.6h0M624.4 470.1h0M626.0 487.0h0M626.7 491.2h0M673.7 475.0h0M680.1 477.1h0M698.9 484.5h0M700.3 485.4h0M681.2 463.2h0M681.3 470.7h0M671.8 479.9h0M670.6 480.2h0M666.0 495.3h0M650.8 491.6h0M661.7 499.3h0M680.8 489.9h0M684.9 489.8h0M681.8 493.4h0M689.6 498.4h0M690.0 488.0h0M696.1 497.6h0M695.4 500.5h0M694.8 507.1h0M694.2 508.0h0M708.7 487.7h0M700.5 426.4h0M714.0 448.1h0M705.6 402.6h0M712.7 403.6h0M611.2 489.5h0M614.5 490.1h0M614.9 488.6h0M604.5 506.6h0M610.9 509.0h0" fill="none" stroke="#f4f4f4" stroke-opacity="0.41" stroke-width="2.30"/><path d="M604.1 413.2h0M603.5 416.2h0M609.1 416.7h0M610.8 416.1h0M612.5 416.5h0M611.0 418.0h0M613.0 419.2h0M614.2 420.1h0M615.7 420.3h0M613.8 422.6h0M613.6 424.6h0M615.7 425.1h0M618.5 428.5h0M623.9 429.3h0M621.9 434.4h0M622.3 434.8h0M623.7 434.4h0M624.4 435.6h0M629.0 434.4h0M630.0 438.6h0M630.9 439.1h0M633.6 440.2h0M634.2 442.9h0M611.2 424.0h0M611.5 431.1h0M608.2 435.1h0M612.1 438.4h0M631.1 403.9h0M631.9 415.1h0M628.9 415.3h0M642.8 409.4h0M646.0 413.3h0M647.2 413.7h0M634.2 427.0h0M634.8 425.9h0M639.9 427.4h0M648.6 429.3h0M657.1 428.4h0M658.8 430.4h0M657.1 432.3h0M657.3 410.5h0M658.8 408.7h0M662.3 409.7h0M661.8 405.9h0M664.7 407.4h0M672.5 410.8h0M676.4 411.2h0M678.5 412.0h0M681.0 414.1h0M681.1 415.5h0M678.8 421.8h0M667.2 433.5h0M665.5 437.7h0M668.9 434.9h0M669.8 440.6h0M672.0 437.9h0M675.7 437.7h0M686.5 445.1h0M683.3 449.9h0M666.4 457.4h0M655.7 461.8h0M655.1 465.5h0M651.8 463.5h0M651.1 467.8h0M650.7 467.7h0M649.2 467.7h0M646.3 467.4h0M643.4 466.8h0M659.6 447.1h0M660.8 447.8h0M660.5 451.7h0M664.0 454.8h0M663.6 456.4h0M646.3 451.5h0M647.7 451.3h0M644.4 451.2h0M643.4 452.1h0M626.8 461.0h0M634.0 470.9h0M638.5 475.2h0M641.1 475.2h0M642.4 474.5h0M643.0 474.8h0M643.6 477.8h0M651.9 478.1h0M652.4 481.9h0M659.4 479.2h0M661.0 477.6h0M663.5 477.6h0M666.7 475.5h0M606.2 466.0h0M606.0 470.8h0M605.6 472.5h0M608.0 473.0h0M610.3 469.8h0M621.6 475.4h0M632.9 473.1h0M630.3 479.0h0M623.7 492.2h0M678.4 476.3h0M694.0 483.1h0M696.6 485.6h0M680.8 470.4h0M670.8 474.3h0M673.8 475.9h0M670.9 476.3h0M672.6 477.5h0M670.1 483.0h0M669.2 489.1h0M667.2 491.5h0M669.5 492.6h0M666.2 500.0h0M663.3 502.6h0M661.2 505.1h0M651.4 496.3h0M651.4 497.6h0M653.2 497.0h0M657.5 498.4h0M659.8 498.4h0M660.7 497.8h0M666.9 500.7h0M668.2 502.0h0M670.0 505.5h0M672.7 499.5h0M637.2 501.7h0M638.5 502.6h0M639.7 509.8h0M639.4 512.2h0M679.6 489.8h0M683.6 492.2h0M684.1 494.7h0M684.3 495.2h0M684.6 496.5h0M687.8 500.7h0M686.4 502.2h0M687.3 480.1h0M689.4 486.0h0M695.0 487.1h0M698.2 494.7h0M697.6 495.8h0M694.9 503.3h0M694.4 508.3h0M699.2 511.7h0M699.0 512.7h0M700.1 513.4h0M701.0 438.6h0M704.5 439.4h0M706.4 440.1h0M708.8 439.8h0M703.4 447.3h0M710.1 449.2h0M710.4 446.6h0M610.3 488.5h0M604.5 505.1h0M608.3 506.8h0M609.3 508.6h0M610.9 508.0h0M669.3 515.3h0M674.9 517.4h0M675.6 516.1h0M679.7 514.9h0M681.1 516.6h0M685.1 517.6h0M686.0 515.5h0" fill="none" stroke="#f4f4f4" stroke-opacity="0.65" stroke-width="2.30"/><path d="M607.1 415.3h0M613.5 417.3h0M613.6 428.2h0M612.6 429.3h0M609.3 431.2h0M612.0 435.9h0M603.4 436.5h0M633.3 405.7h0M630.0 409.3h0M633.3 410.5h0M631.0 416.6h0M640.5 409.3h0M643.2 411.1h0M645.7 412.4h0M646.8 412.2h0M638.5 428.1h0M658.1 431.9h0M654.3 436.5h0M656.4 410.9h0M673.4 411.3h0M678.9 413.7h0M680.0 419.4h0M664.4 433.0h0M664.3 436.4h0M678.2 439.0h0M684.4 445.6h0M687.0 445.4h0M689.2 443.5h0M682.3 444.1h0M681.9 451.8h0M678.4 449.7h0M651.6 467.5h0M646.8 470.4h0M644.5 467.8h0M644.1 467.9h0M662.3 448.6h0M661.4 450.7h0M643.0 451.2h0M622.2 461.8h0M623.5 463.1h0M621.4 467.5h0M624.9 471.4h0M626.8 470.2h0M640.4 474.2h0M645.9 475.0h0M667.0 474.0h0M605.0 467.1h0M618.2 474.9h0M620.1 475.7h0M624.4 474.3h0M630.7 485.6h0M626.9 487.6h0M628.4 490.7h0M624.4 490.0h0M622.7 492.6h0M678.3 474.9h0M701.9 486.8h0M703.2 486.1h0M704.7 484.2h0M705.3 484.1h0M681.1 469.2h0M685.2 473.1h0M663.2 500.3h0M662.4 501.0h0M671.4 504.2h0M634.7 506.0h0M679.5 489.2h0M689.1 480.9h0M689.9 481.2h0M689.5 483.4h0M687.6 485.4h0M695.6 490.3h0M695.4 492.4h0M697.1 505.8h0M697.9 513.6h0M707.3 487.5h0M710.8 489.7h0M704.2 428.7h0M709.1 424.5h0M711.6 423.5h0M699.1 436.4h0M701.9 440.8h0M706.1 448.9h0M706.4 449.7h0M714.4 446.6h0M707.1 401.0h0M616.8 487.6h0M671.7 519.9h0M672.9 516.1h0" fill="none" stroke="#f4f4f4" stroke-opacity="0.90" stroke-width="2.30"/></g><g clip-path="url(#cC6)" filter="url(#bl)"><ellipse cx="622.9" cy="504.5" rx="2.25" ry="1.85" transform="rotate(128 622.9 504.5)" fill="#f0f0f0" fill-opacity="0.76"/><ellipse cx="690.9" cy="466.4" rx="2.01" ry="1.55" transform="rotate(67 690.9 466.4)" fill="#f0f0f0" fill-opacity="0.76"/><ellipse cx="613.8" cy="452.3" rx="2.39" ry="2.05" transform="rotate(15 613.8 452.3)" fill="#f0f0f0" fill-opacity="0.76"/><ellipse cx="609.6" cy="477.2" rx="2.03" ry="1.57" transform="rotate(76 609.6 477.2)" fill="#f0f0f0" fill-opacity="0.76"/><ellipse cx="700.9" cy="512.8" rx="2.32" ry="2.26" transform="rotate(108 700.9 512.8)" fill="#f0f0f0" fill-opacity="0.76"/><ellipse cx="661.9" cy="429.9" rx="2.07" ry="1.64" transform="rotate(72 661.9 429.9)" fill="#f0f0f0" fill-opacity="0.76"/><ellipse cx="663.6" cy="432.3" rx="2.23" ry="1.79" transform="rotate(119 663.6 432.3)" fill="#f0f0f0" fill-opacity="0.76"/><ellipse cx="687.6" cy="445.6" rx="2.45" ry="2.19" transform="rotate(129 687.6 445.6)" fill="#f0f0f0" fill-opacity="0.76"/><ellipse cx="614.6" cy="425.7" rx="1.98" ry="1.90" transform="rotate(120 614.6 425.7)" fill="#f0f0f0" fill-opacity="0.76"/></g>
<g clip-path="url(#cC6)" filter="url(#bl)"><circle cx="639.2" cy="516.5" r="1.2" fill="#ececec" fill-opacity="0.52"/><circle cx="690.9" cy="503.7" r="0.6" fill="#ececec" fill-opacity="0.42"/><circle cx="630.2" cy="486.6" r="0.9" fill="#ececec" fill-opacity="0.40"/><circle cx="663.2" cy="468.3" r="1.1" fill="#ececec" fill-opacity="0.54"/><circle cx="641.1" cy="495.5" r="1.1" fill="#ececec" fill-opacity="0.34"/><circle cx="616.2" cy="458.9" r="1.1" fill="#ececec" fill-opacity="0.38"/><circle cx="623.1" cy="483.6" r="0.8" fill="#ececec" fill-opacity="0.51"/><circle cx="621.3" cy="470.4" r="0.8" fill="#ececec" fill-opacity="0.54"/><circle cx="617.9" cy="504.3" r="0.9" fill="#ececec" fill-opacity="0.33"/><circle cx="625.7" cy="458.6" r="1.2" fill="#ececec" fill-opacity="0.55"/><circle cx="707.7" cy="472.4" r="0.7" fill="#ececec" fill-opacity="0.38"/><circle cx="675.2" cy="435.1" r="1.2" fill="#ececec" fill-opacity="0.23"/><circle cx="628.7" cy="424.1" r="0.7" fill="#ececec" fill-opacity="0.22"/><circle cx="629.3" cy="444.3" r="1.2" fill="#ececec" fill-opacity="0.39"/><circle cx="672.4" cy="441.3" r="0.7" fill="#ececec" fill-opacity="0.40"/><circle cx="684.0" cy="410.1" r="1.0" fill="#ececec" fill-opacity="0.27"/><circle cx="679.7" cy="442.1" r="0.7" fill="#ececec" fill-opacity="0.25"/><circle cx="691.2" cy="464.0" r="0.7" fill="#ececec" fill-opacity="0.52"/><circle cx="633.4" cy="433.2" r="0.6" fill="#ececec" fill-opacity="0.31"/><circle cx="665.2" cy="506.4" r="0.8" fill="#ececec" fill-opacity="0.37"/><circle cx="611.4" cy="481.4" r="0.8" fill="#ececec" fill-opacity="0.33"/><circle cx="632.8" cy="497.0" r="1.2" fill="#ececec" fill-opacity="0.25"/><circle cx="653.0" cy="412.7" r="1.1" fill="#ececec" fill-opacity="0.52"/><circle cx="616.5" cy="480.9" r="0.8" fill="#ececec" fill-opacity="0.36"/><circle cx="666.6" cy="445.5" r="1.0" fill="#ececec" fill-opacity="0.31"/><circle cx="658.0" cy="442.3" r="0.9" fill="#ececec" fill-opacity="0.25"/><circle cx="642.5" cy="413.1" r="1.0" fill="#ececec" fill-opacity="0.35"/><circle cx="649.3" cy="506.3" r="0.7" fill="#ececec" fill-opacity="0.39"/><circle cx="670.8" cy="474.8" r="1.1" fill="#ececec" fill-opacity="0.32"/><circle cx="706.1" cy="479.1" r="0.6" fill="#ececec" fill-opacity="0.41"/><circle cx="660.4" cy="510.8" r="1.0" fill="#ececec" fill-opacity="0.44"/><circle cx="678.4" cy="484.0" r="0.9" fill="#ececec" fill-opacity="0.37"/><circle cx="661.9" cy="402.4" r="0.9" fill="#ececec" fill-opacity="0.35"/><circle cx="650.3" cy="466.8" r="1.0" fill="#ececec" fill-opacity="0.34"/><circle cx="666.8" cy="427.9" r="1.2" fill="#ececec" fill-opacity="0.43"/><circle cx="680.9" cy="487.5" r="0.6" fill="#ececec" fill-opacity="0.26"/><circle cx="644.8" cy="452.1" r="0.8" fill="#ececec" fill-opacity="0.38"/><circle cx="672.8" cy="488.5" r="1.0" fill="#ececec" fill-opacity="0.34"/><circle cx="697.5" cy="496.1" r="1.2" fill="#ececec" fill-opacity="0.20"/><circle cx="667.1" cy="420.6" r="1.1" fill="#ececec" fill-opacity="0.53"/><circle cx="677.3" cy="438.2" r="1.1" fill="#ececec" fill-opacity="0.38"/><circle cx="680.4" cy="422.5" r="0.7" fill="#ececec" fill-opacity="0.49"/><circle cx="698.7" cy="444.9" r="0.7" fill="#ececec" fill-opacity="0.30"/><circle cx="704.5" cy="426.1" r="1.0" fill="#ececec" fill-opacity="0.31"/><circle cx="708.2" cy="440.4" r="1.2" fill="#ececec" fill-opacity="0.38"/><circle cx="603.3" cy="446.7" r="0.9" fill="#ececec" fill-opacity="0.25"/><circle cx="612.0" cy="466.3" r="1.0" fill="#ececec" fill-opacity="0.46"/><circle cx="639.0" cy="421.3" r="0.9" fill="#ececec" fill-opacity="0.45"/><circle cx="626.2" cy="505.1" r="1.2" fill="#ececec" fill-opacity="0.32"/><circle cx="618.7" cy="465.5" r="0.7" fill="#ececec" fill-opacity="0.51"/><circle cx="668.6" cy="449.1" r="1.1" fill="#ececec" fill-opacity="0.47"/><circle cx="685.7" cy="411.8" r="0.8" fill="#ececec" fill-opacity="0.32"/><circle cx="698.9" cy="430.7" r="0.7" fill="#ececec" fill-opacity="0.36"/><circle cx="636.7" cy="478.0" r="0.8" fill="#ececec" fill-opacity="0.24"/><circle cx="677.3" cy="510.6" r="1.0" fill="#ececec" fill-opacity="0.40"/><circle cx="610.5" cy="423.7" r="1.0" fill="#ececec" fill-opacity="0.53"/><circle cx="655.7" cy="515.1" r="0.7" fill="#ececec" fill-opacity="0.30"/><circle cx="635.1" cy="481.2" r="0.8" fill="#ececec" fill-opacity="0.43"/><circle cx="608.6" cy="479.8" r="1.0" fill="#ececec" fill-opacity="0.27"/><circle cx="620.8" cy="448.7" r="0.9" fill="#ececec" fill-opacity="0.37"/><circle cx="709.0" cy="416.2" r="1.0" fill="#ececec" fill-opacity="0.38"/><circle cx="672.2" cy="434.1" r="1.1" fill="#ececec" fill-opacity="0.49"/><circle cx="604.8" cy="441.2" r="0.6" fill="#ececec" fill-opacity="0.41"/><circle cx="686.5" cy="447.9" r="1.2" fill="#ececec" fill-opacity="0.47"/><circle cx="676.6" cy="413.1" r="0.8" fill="#ececec" fill-opacity="0.48"/><circle cx="655.7" cy="427.0" r="0.6" fill="#ececec" fill-opacity="0.46"/><circle cx="632.4" cy="412.5" r="0.9" fill="#ececec" fill-opacity="0.45"/><circle cx="667.2" cy="400.8" r="1.2" fill="#ececec" fill-opacity="0.34"/><circle cx="670.6" cy="432.5" r="0.8" fill="#ececec" fill-opacity="0.24"/><circle cx="689.9" cy="418.6" r="1.0" fill="#ececec" fill-opacity="0.46"/><circle cx="712.4" cy="402.6" r="1.0" fill="#ececec" fill-opacity="0.31"/><circle cx="604.0" cy="466.2" r="0.8" fill="#ececec" fill-opacity="0.36"/><circle cx="622.4" cy="417.2" r="0.7" fill="#ececec" fill-opacity="0.37"/><circle cx="605.8" cy="507.2" r="1.0" fill="#ececec" fill-opacity="0.53"/><circle cx="683.8" cy="497.3" r="1.1" fill="#ececec" fill-opacity="0.47"/><circle cx="685.0" cy="453.3" r="1.1" fill="#ececec" fill-opacity="0.50"/><circle cx="678.1" cy="511.5" r="1.1" fill="#ececec" fill-opacity="0.27"/><circle cx="712.6" cy="426.0" r="0.7" fill="#ececec" fill-opacity="0.44"/><circle cx="712.1" cy="486.0" r="0.7" fill="#ececec" fill-opacity="0.32"/><circle cx="642.6" cy="489.0" r="0.7" fill="#ececec" fill-opacity="0.46"/></g>
<rect x="31" y="400" width="683.5" height="118.5" filter="url(#noise)" opacity="0.3"/>
<rect x="31" y="517.1" width="683.5" height="1.4" fill="#e4e4e4" opacity="0.55"/>
<rect x="143.3" y="399.5" width="1.9" height="119.5" fill="#fff"/>
<rect x="256.9" y="399.5" width="2.6" height="119.5" fill="#fff"/>
<rect x="371.3" y="399.5" width="2.5" height="119.5" fill="#fff"/>
<rect x="485.8" y="399.5" width="2.2" height="119.5" fill="#fff"/>
<rect x="600" y="399.5" width="2.4" height="119.5" fill="#fff"/>
<text x="87.3" y="535.6" font-size="12.4" font-weight="bold" text-anchor="middle" fill="#000"  textLength="36.2" lengthAdjust="spacingAndGlyphs">Control</text>
<text x="204.6" y="535.6" font-size="12.4" font-weight="bold" text-anchor="middle" fill="#000"  textLength="83.7" lengthAdjust="spacingAndGlyphs">iWJ-MSC-EV&#160; 1/2</text>
<text x="319.4" y="535.6" font-size="12.4" font-weight="bold" text-anchor="middle" fill="#000"  textLength="62.2" lengthAdjust="spacingAndGlyphs">iWJ-MSC-EV</text>
<text x="431.4" y="535.6" font-size="12.4" font-weight="bold" text-anchor="middle" fill="#000"  textLength="62.4" lengthAdjust="spacingAndGlyphs">iWJ-MSC-EV</text>
<text x="434.2" y="550.6" font-size="12.4" font-weight="bold" text-anchor="middle" fill="#000"  textLength="71.4" lengthAdjust="spacingAndGlyphs">PNGase-F 1/2</text>
<text x="546.4" y="535.6" font-size="12.4" font-weight="bold" text-anchor="middle" fill="#000"  textLength="62.4" lengthAdjust="spacingAndGlyphs">iWJ-MSC-EV</text>
<text x="546.6" y="551.6" font-size="12.4" font-weight="bold" text-anchor="middle" fill="#000"  textLength="50.8" lengthAdjust="spacingAndGlyphs">PNGase-F</text>
<text x="661.4" y="535.6" font-size="12.4" font-weight="bold" text-anchor="middle" fill="#000"  textLength="26.9" lengthAdjust="spacingAndGlyphs">VEGF</text>
<rect x="137.3" y="748.3" width="17.4" height="58.5" fill="#d3e3fb" stroke="#4a6fa0" stroke-width="0.9"/>
<rect x="163.5" y="726.7" width="17.5" height="80.1" fill="#8fbbf5" stroke="#3a5a8c" stroke-width="0.9"/>
<rect x="190.1" y="794.0" width="17.2" height="12.8" fill="#f9d3f0" stroke="#8a5a82" stroke-width="0.9"/>
<rect x="216.4" y="801.7" width="17.2" height="5.1" fill="#f5a6e2" stroke="#7a4a72" stroke-width="0.9"/>
<rect x="242.7" y="744.7" width="17.2" height="62.1" fill="#d6d6d6" stroke="#6a6a6a" stroke-width="0.9"/>
<path d="M128.4 631.85 V806.8 H269.6" fill="none" stroke="#000" stroke-width="1.6"/>
<path d="M121.5 806.8 H128.4" stroke="#000" stroke-width="1.50"/>
<text x="120.4" y="810.8" font-size="11" font-weight="bold" text-anchor="end" fill="#000" >0.0</text>
<path d="M121.5 748.8 H128.4" stroke="#000" stroke-width="1.50"/>
<text x="120.4" y="752.7" font-size="11" font-weight="bold" text-anchor="end" fill="#000" >0.5</text>
<path d="M121.5 690.7 H128.4" stroke="#000" stroke-width="1.50"/>
<text x="120.4" y="694.6" font-size="11" font-weight="bold" text-anchor="end" fill="#000" >1.0</text>
<path d="M121.5 632.6 H128.4" stroke="#000" stroke-width="1.50"/>
<text x="120.4" y="636.6" font-size="11" font-weight="bold" text-anchor="end" fill="#000" >1.5</text>
<path d="M145.9 724.8 V774.6 M141.7 724.8 H150.1 M141.7 774.6 H150.1" stroke="#3c3c3c" stroke-width="0.85" fill="none"/>
<path d="M172.2 694.0 V759.4 M168.0 694.0 H176.4 M168.0 759.4 H176.4" stroke="#3c3c3c" stroke-width="0.85" fill="none"/>
<path d="M198.3 772.5 V806.8 M194.1 772.5 H202.5" stroke="#3c3c3c" stroke-width="0.85" fill="none"/>
<path d="M224.8 794.0 V806.8 M220.6 794.0 H229.0" stroke="#3c3c3c" stroke-width="0.85" fill="none"/>
<path d="M250.9 689.3 V799.4 M246.7 689.3 H255.1 M246.7 799.4 H255.1" stroke="#3c3c3c" stroke-width="0.85" fill="none"/>
<rect x="143.5" y="716.1" width="4.6" height="4.6" fill="#74b2f4" stroke="#1f4a88" stroke-width="1.0"/>
<rect x="143.5" y="733.6" width="4.6" height="4.6" fill="#74b2f4" stroke="#1f4a88" stroke-width="1.0"/>
<rect x="137.2" y="745.2" width="4.6" height="4.6" fill="#74b2f4" stroke="#1f4a88" stroke-width="1.0"/>
<rect x="143.5" y="748.8" width="4.6" height="4.6" fill="#74b2f4" stroke="#1f4a88" stroke-width="1.0"/>
<rect x="150.2" y="748.8" width="4.6" height="4.6" fill="#74b2f4" stroke="#1f4a88" stroke-width="1.0"/>
<rect x="143.5" y="791.7" width="4.6" height="4.6" fill="#74b2f4" stroke="#1f4a88" stroke-width="1.0"/>
<rect x="169.8" y="681.0" width="4.6" height="4.6" fill="#0f7ef0" stroke="#0a2258" stroke-width="1.0"/>
<rect x="163.5" y="703.7" width="4.6" height="4.6" fill="#0f7ef0" stroke="#0a2258" stroke-width="1.0"/>
<rect x="176.5" y="706.7" width="4.6" height="4.6" fill="#0f7ef0" stroke="#0a2258" stroke-width="1.0"/>
<rect x="163.5" y="741.3" width="4.6" height="4.6" fill="#0f7ef0" stroke="#0a2258" stroke-width="1.0"/>
<rect x="176.5" y="742.7" width="4.6" height="4.6" fill="#0f7ef0" stroke="#0a2258" stroke-width="1.0"/>
<rect x="169.8" y="770.1" width="4.6" height="4.6" fill="#0f7ef0" stroke="#0a2258" stroke-width="1.0"/>
<path d="M198.3 748.9 L201.0 753.8 L195.7 753.8 Z" fill="#f56ee0" stroke="#5a1a56" stroke-width="0.95" stroke-linejoin="miter"/>
<path d="M192.6 793.1 L195.2 798.0 L189.9 798.0 Z" fill="#f56ee0" stroke="#5a1a56" stroke-width="0.95" stroke-linejoin="miter"/>
<path d="M204.2 798.2 L206.8 803.1 L201.5 803.1 Z" fill="#f56ee0" stroke="#5a1a56" stroke-width="0.95" stroke-linejoin="miter"/>
<path d="M198.3 803.3 L201.0 808.2 L195.7 808.2 Z" fill="#f56ee0" stroke="#5a1a56" stroke-width="0.95" stroke-linejoin="miter"/>
<path d="M192.2 804.6 L194.8 809.5 L189.5 809.5 Z" fill="#f56ee0" stroke="#5a1a56" stroke-width="0.95" stroke-linejoin="miter"/>
<path d="M204.2 804.6 L206.8 809.5 L201.5 809.5 Z" fill="#f56ee0" stroke="#5a1a56" stroke-width="0.95" stroke-linejoin="miter"/>
<path d="M230.5 789.3 L233.2 794.2 L227.8 794.2 Z" fill="#cc1fca" stroke="#3e083e" stroke-width="0.95" stroke-linejoin="miter"/>
<path d="M224.5 793.1 L227.2 798.0 L221.8 798.0 Z" fill="#cc1fca" stroke="#3e083e" stroke-width="0.95" stroke-linejoin="miter"/>
<path d="M219.0 798.5 L221.7 803.4 L216.3 803.4 Z" fill="#cc1fca" stroke="#3e083e" stroke-width="0.95" stroke-linejoin="miter"/>
<path d="M230.5 798.5 L233.2 803.4 L227.8 803.4 Z" fill="#cc1fca" stroke="#3e083e" stroke-width="0.95" stroke-linejoin="miter"/>
<path d="M224.8 800.7 L227.5 805.6 L222.2 805.6 Z" fill="#cc1fca" stroke="#3e083e" stroke-width="0.95" stroke-linejoin="miter"/>
<path d="M221.5 804.6 L224.2 809.5 L218.8 809.5 Z" fill="#cc1fca" stroke="#3e083e" stroke-width="0.95" stroke-linejoin="miter"/>
<path d="M227.7 804.6 L230.3 809.5 L225.0 809.5 Z" fill="#cc1fca" stroke="#3e083e" stroke-width="0.95" stroke-linejoin="miter"/>
<circle cx="244.4" cy="699.2" r="2.1" fill="#9c9c9c" stroke="#3c3c3c" stroke-width="0.9"/>
<circle cx="257.7" cy="696.5" r="2.1" fill="#9c9c9c" stroke="#3c3c3c" stroke-width="0.9"/>
<circle cx="250.9" cy="774.8" r="2.1" fill="#9c9c9c" stroke="#3c3c3c" stroke-width="0.9"/>
<circle cx="250.9" cy="806.5" r="2.1" fill="#9c9c9c" stroke="#3c3c3c" stroke-width="0.9"/>
<path d="M172.0 645.1 V636.6 H224.9 V784.0" fill="none" stroke="#000" stroke-width="1.5"/>
<path d="M172.0 675.0 V666.2 H198.6 V741.5" fill="none" stroke="#000" stroke-width="1.5"/>
<path d="M193.30 619.95 L193.30 627.65 M189.97 621.88 L196.63 625.72 M189.97 625.72 L196.63 621.88" stroke="#000" stroke-width="1.65" fill="none"/>
<path d="M204.60 619.95 L204.60 627.65 M201.27 621.88 L207.93 625.72 M201.27 625.72 L207.93 621.88" stroke="#000" stroke-width="1.65" fill="none"/>
<path d="M185.10 651.75 L185.10 659.45 M181.77 653.68 L188.43 657.52 M181.77 657.52 L188.43 653.68" stroke="#000" stroke-width="1.65" fill="none"/>
<text x="198.5" y="581.1" font-size="12.2" font-weight="bold" text-anchor="middle" fill="#000"  textLength="102.4" lengthAdjust="spacingAndGlyphs">Number of nodes</text>
<text x="98.2" y="713.6" font-size="11" font-weight="bold" text-anchor="middle" fill="#000"  textLength="199.0" lengthAdjust="spacingAndGlyphs" transform="rotate(-90 98.2 713.6)">Angiogenesis normalized to control</text>
<rect x="342.3" y="713.3" width="16.7" height="93.6" fill="#d3e3fb" stroke="#4a6fa0" stroke-width="0.9"/>
<rect x="368.5" y="690.2" width="16.7" height="116.7" fill="#8fbbf5" stroke="#3a5a8c" stroke-width="0.9"/>
<rect x="394.4" y="778.1" width="16.8" height="28.8" fill="#f9d3f0" stroke="#8a5a82" stroke-width="0.9"/>
<rect x="420.0" y="772.4" width="17.1" height="34.5" fill="#f5a6e2" stroke="#7a4a72" stroke-width="0.9"/>
<rect x="445.9" y="732.2" width="16.8" height="74.7" fill="#d6d6d6" stroke="#6a6a6a" stroke-width="0.9"/>
<path d="M333.6 635.20 V806.9 H472.8" fill="none" stroke="#000" stroke-width="1.6"/>
<path d="M327.0 806.9 H333.6" stroke="#000" stroke-width="1.50"/>
<text x="325.4" y="810.8" font-size="10.9" font-weight="bold" text-anchor="end" fill="#000" >0.0</text>
<path d="M327.0 772.7 H333.6" stroke="#000" stroke-width="1.50"/>
<text x="325.4" y="776.6" font-size="10.9" font-weight="bold" text-anchor="end" fill="#000" >0.2</text>
<path d="M327.0 738.5 H333.6" stroke="#000" stroke-width="1.50"/>
<text x="325.4" y="742.4" font-size="10.9" font-weight="bold" text-anchor="end" fill="#000" >0.4</text>
<path d="M327.0 704.4 H333.6" stroke="#000" stroke-width="1.50"/>
<text x="325.4" y="708.3" font-size="10.9" font-weight="bold" text-anchor="end" fill="#000" >0.6</text>
<path d="M327.0 670.2 H333.6" stroke="#000" stroke-width="1.50"/>
<text x="325.4" y="674.1" font-size="10.9" font-weight="bold" text-anchor="end" fill="#000" >0.8</text>
<path d="M327.0 636.0 H333.6" stroke="#000" stroke-width="1.50"/>
<text x="325.4" y="639.9" font-size="10.9" font-weight="bold" text-anchor="end" fill="#000" >1.0</text>
<path d="M350.8 686.4 V739.2 M346.3 686.4 H355.3 M346.3 739.2 H355.3" stroke="#3c3c3c" stroke-width="0.85" fill="none"/>
<path d="M376.7 657.3 V721.8 M372.2 657.3 H381.2 M372.2 721.8 H381.2" stroke="#3c3c3c" stroke-width="0.85" fill="none"/>
<path d="M402.6 745.5 V806.9 M398.1 745.5 H407.1" stroke="#3c3c3c" stroke-width="0.85" fill="none"/>
<path d="M428.5 734.1 V806.9 M424.0 734.1 H433.0" stroke="#3c3c3c" stroke-width="0.85" fill="none"/>
<path d="M454.1 676.3 V786.9 M449.6 676.3 H458.6 M449.6 786.9 H458.6" stroke="#3c3c3c" stroke-width="0.85" fill="none"/>
<rect x="348.5" y="666.7" width="4.6" height="4.6" fill="#74b2f4" stroke="#1f4a88" stroke-width="1.0"/>
<rect x="348.5" y="694.6" width="4.6" height="4.6" fill="#74b2f4" stroke="#1f4a88" stroke-width="1.0"/>
<rect x="348.5" y="715.7" width="4.6" height="4.6" fill="#74b2f4" stroke="#1f4a88" stroke-width="1.0"/>
<rect x="341.9" y="720.8" width="4.6" height="4.6" fill="#74b2f4" stroke="#1f4a88" stroke-width="1.0"/>
<rect x="355.1" y="723.6" width="4.6" height="4.6" fill="#74b2f4" stroke="#1f4a88" stroke-width="1.0"/>
<rect x="348.5" y="742.0" width="4.6" height="4.6" fill="#74b2f4" stroke="#1f4a88" stroke-width="1.0"/>
<rect x="374.4" y="651.3" width="4.6" height="4.6" fill="#0f7ef0" stroke="#0a2258" stroke-width="1.0"/>
<rect x="374.4" y="656.6" width="4.6" height="4.6" fill="#0f7ef0" stroke="#0a2258" stroke-width="1.0"/>
<rect x="374.4" y="680.0" width="4.6" height="4.6" fill="#0f7ef0" stroke="#0a2258" stroke-width="1.0"/>
<rect x="374.4" y="693.6" width="4.6" height="4.6" fill="#0f7ef0" stroke="#0a2258" stroke-width="1.0"/>
<rect x="374.4" y="709.7" width="4.6" height="4.6" fill="#0f7ef0" stroke="#0a2258" stroke-width="1.0"/>
<rect x="374.4" y="735.3" width="4.6" height="4.6" fill="#0f7ef0" stroke="#0a2258" stroke-width="1.0"/>
<path d="M402.6 731.8 L405.2 736.7 L400.0 736.7 Z" fill="#f56ee0" stroke="#5a1a56" stroke-width="0.95" stroke-linejoin="miter"/>
<path d="M402.6 749.1 L405.2 754.0 L400.0 754.0 Z" fill="#f56ee0" stroke="#5a1a56" stroke-width="0.95" stroke-linejoin="miter"/>
<path d="M402.6 758.9 L405.2 763.8 L400.0 763.8 Z" fill="#f56ee0" stroke="#5a1a56" stroke-width="0.95" stroke-linejoin="miter"/>
<path d="M396.9 804.8 L399.5 809.7 L394.2 809.7 Z" fill="#f56ee0" stroke="#5a1a56" stroke-width="0.95" stroke-linejoin="miter"/>
<path d="M402.6 804.8 L405.2 809.7 L400.0 809.7 Z" fill="#f56ee0" stroke="#5a1a56" stroke-width="0.95" stroke-linejoin="miter"/>
<path d="M408.3 804.8 L410.9 809.7 L405.7 809.7 Z" fill="#f56ee0" stroke="#5a1a56" stroke-width="0.95" stroke-linejoin="miter"/>
<path d="M428.5 711.2 L431.1 716.1 L425.9 716.1 Z" fill="#cc1fca" stroke="#3e083e" stroke-width="0.95" stroke-linejoin="miter"/>
<path d="M428.5 743.8 L431.1 748.7 L425.9 748.7 Z" fill="#cc1fca" stroke="#3e083e" stroke-width="0.95" stroke-linejoin="miter"/>
<path d="M428.5 758.9 L431.1 763.8 L425.9 763.8 Z" fill="#cc1fca" stroke="#3e083e" stroke-width="0.95" stroke-linejoin="miter"/>
<path d="M428.5 794.3 L431.1 799.2 L425.9 799.2 Z" fill="#cc1fca" stroke="#3e083e" stroke-width="0.95" stroke-linejoin="miter"/>
<path d="M422.9 804.8 L425.5 809.7 L420.2 809.7 Z" fill="#cc1fca" stroke="#3e083e" stroke-width="0.95" stroke-linejoin="miter"/>
<path d="M434.2 804.8 L436.8 809.7 L431.6 809.7 Z" fill="#cc1fca" stroke="#3e083e" stroke-width="0.95" stroke-linejoin="miter"/>
<circle cx="454.1" cy="674.7" r="2.1" fill="#9c9c9c" stroke="#3c3c3c" stroke-width="0.9"/>
<circle cx="454.1" cy="695.9" r="2.1" fill="#9c9c9c" stroke="#3c3c3c" stroke-width="0.9"/>
<circle cx="454.1" cy="763.9" r="2.1" fill="#9c9c9c" stroke="#3c3c3c" stroke-width="0.9"/>
<circle cx="454.1" cy="792.3" r="2.1" fill="#9c9c9c" stroke="#3c3c3c" stroke-width="0.9"/>
<path d="M376.9 614.4 V605.8 H428.5 V704.4" fill="none" stroke="#000" stroke-width="1.5"/>
<path d="M376.9 644.7 V636.2 H402.6 V725.0" fill="none" stroke="#000" stroke-width="1.5"/>
<path d="M402.60 590.45 L402.60 598.15 M399.27 592.38 L405.93 596.22 M399.27 596.22 L405.93 592.38" stroke="#000" stroke-width="1.65" fill="none"/>
<path d="M384.00 621.35 L384.00 629.05 M380.67 623.28 L387.33 627.12 M380.67 627.12 L387.33 623.28" stroke="#000" stroke-width="1.65" fill="none"/>
<path d="M396.00 621.35 L396.00 629.05 M392.67 623.28 L399.33 627.12 M392.67 627.12 L399.33 623.28" stroke="#000" stroke-width="1.65" fill="none"/>
<text x="395.2" y="579.4" font-size="12.2" font-weight="bold" text-anchor="middle" fill="#000"  textLength="132.3" lengthAdjust="spacingAndGlyphs">Total branching length</text>
<text x="303.4" y="714.4" font-size="11" font-weight="bold" text-anchor="middle" fill="#000"  textLength="195.0" lengthAdjust="spacingAndGlyphs" transform="rotate(-90 303.4 714.4)">Angiogenesis normalized to control</text>
<rect x="484.2" y="650.9" width="16.6" height="5.8" rx="0.8" fill="#d3e3fb" stroke="#4a6fa0" stroke-width="0.8"/>
<text x="509.5" y="657.7" font-size="11.1" font-weight="bold" text-anchor="start" fill="#000"  textLength="82.3" lengthAdjust="spacingAndGlyphs">iWJ-MSC-EV 1/2</text>
<rect x="484.2" y="671.5" width="16.6" height="5.8" rx="0.8" fill="#8fbbf5" stroke="#3a5a8c" stroke-width="0.8"/>
<text x="509.5" y="678.3" font-size="11.1" font-weight="bold" text-anchor="start" fill="#000"  textLength="64.5" lengthAdjust="spacingAndGlyphs">iWJ-MSC-EV</text>
<rect x="484.2" y="692.2" width="16.6" height="5.8" rx="0.8" fill="#f9d3f0" stroke="#8a5a82" stroke-width="0.8"/>
<text x="509.5" y="699.0" font-size="11.1" font-weight="bold" text-anchor="start" fill="#000"  textLength="137.9" lengthAdjust="spacingAndGlyphs">iWJ-MSC-EV PNGase-F 1/2</text>
<rect x="484.2" y="712.8" width="16.6" height="5.8" rx="0.8" fill="#f5a6e2" stroke="#7a4a72" stroke-width="0.8"/>
<text x="509.5" y="719.6" font-size="11.1" font-weight="bold" text-anchor="start" fill="#000"  textLength="119.5" lengthAdjust="spacingAndGlyphs">iWJ-MSC-EV PNGase-F</text>
<rect x="484.2" y="733.8" width="16.6" height="5.8" rx="0.8" fill="#d6d6d6" stroke="#6a6a6a" stroke-width="0.8"/>
<text x="509.5" y="740.6" font-size="11.1" font-weight="bold" text-anchor="start" fill="#000"  textLength="28.0" lengthAdjust="spacingAndGlyphs">VEGF</text>
</svg></body></html>
